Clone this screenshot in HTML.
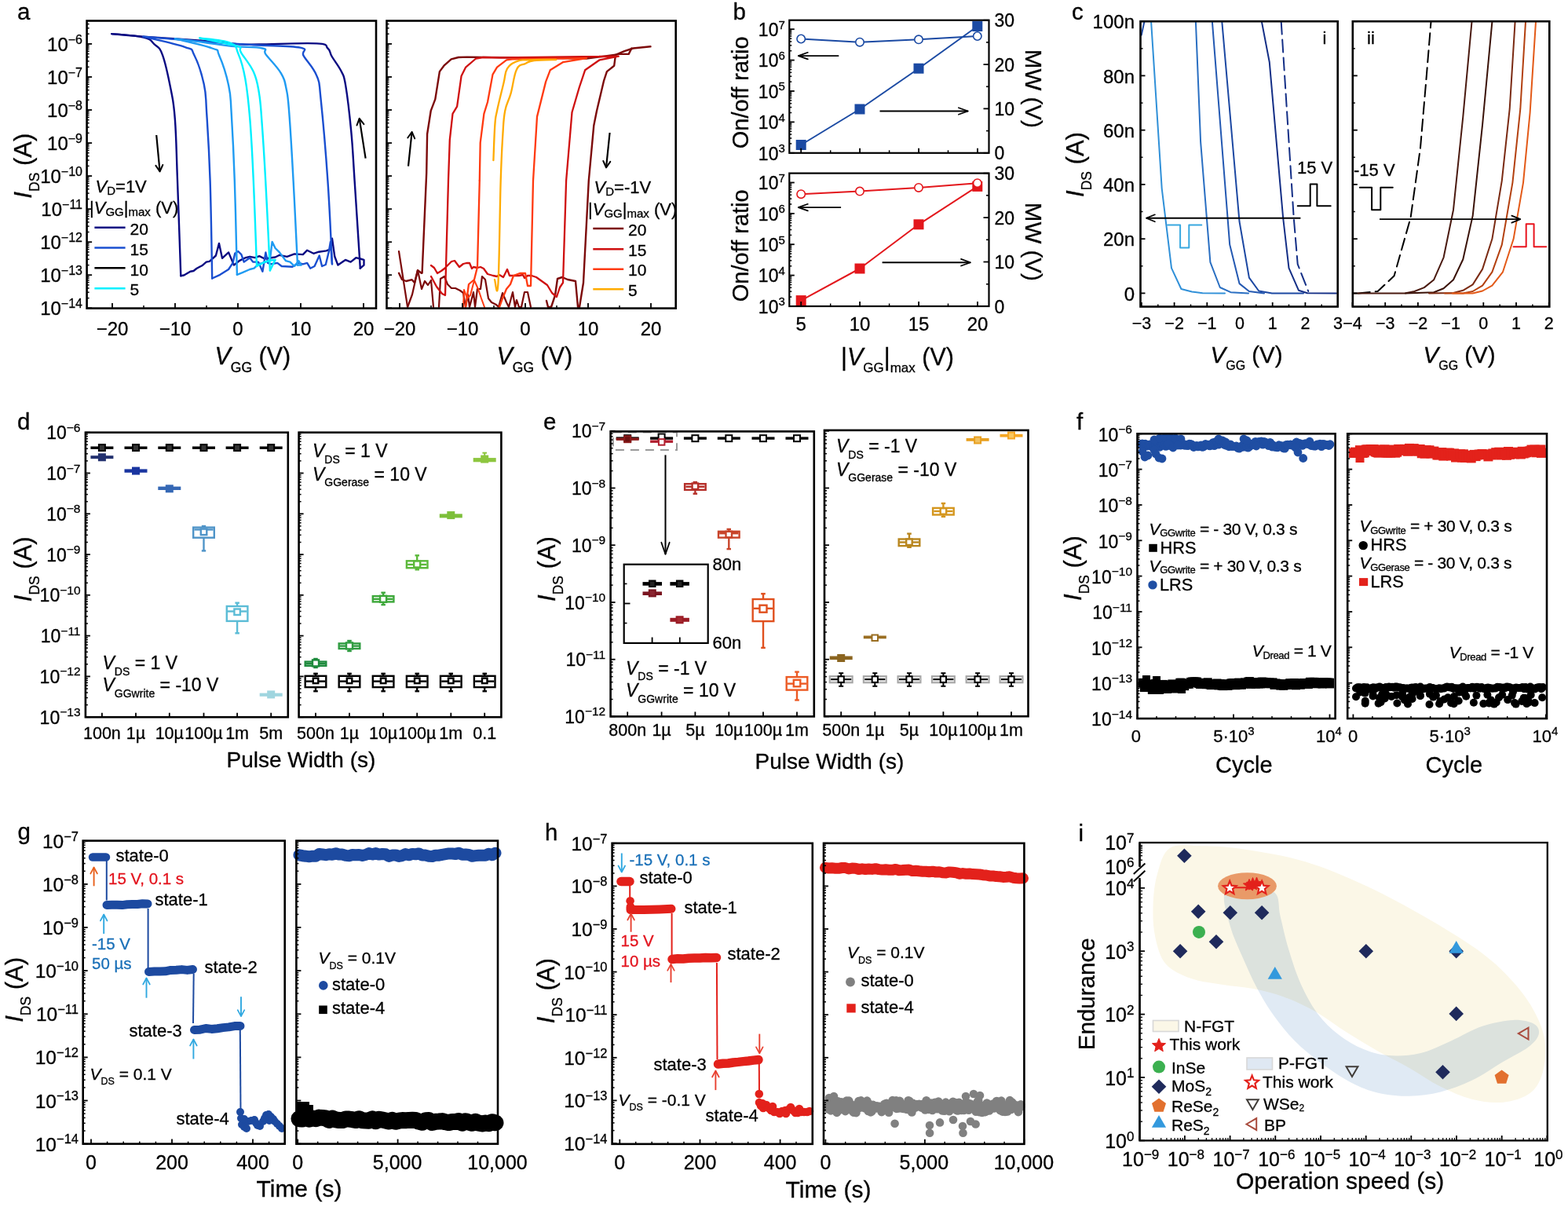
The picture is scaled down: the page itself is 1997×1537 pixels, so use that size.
<!DOCTYPE html>
<html><head><meta charset="utf-8"><style>
html,body{margin:0;padding:0;background:#fff;}
svg{display:block;}
text{font-family:"Liberation Sans",Arial,sans-serif;fill:#000;stroke:#000;stroke-width:0.3px;}
</style></head><body>
<svg xmlns="http://www.w3.org/2000/svg" width="1997" height="1537" viewBox="0 0 1997 1537">
<rect width="1997" height="1537" fill="#fff"/>
<path d="M142.3,43.1 C150.4,44 171.7,44.9 182.6,47.5 C193.5,50.1 191.7,51.7 196.6,56.3 C201.5,60.9 202.9,58.7 207.1,70.3 C211.3,81.9 214.4,97.6 217.6,114.1 C220.8,130.6 221.2,129.5 222.9,152.7 C224.6,175.9 224.5,190.3 226,230 C227.5,269.7 229.4,327 230.3,351.2" fill="none" stroke="#0a0a82" stroke-width="2.4" stroke-linejoin="round" stroke-linecap="round" />
<polyline points="230.3,351.2 234.3,350.5 242.4,345.7 246.5,345 250.6,341.7 257.3,338.3 262.7,333.6 266.8,332.9 274.9,325.5 279,309.9 283,328.8 291.1,321.4 297.9,337.6 304.6,332.2 312.8,328.2 318.2,326.8 324.9,328.2 330.3,326.1 337.1,329.5 345.2,328.2 350.6,327.5 356,324.8 365.5,326.8 375,323.4 385.8,324.1 391.2,318.7 399.3,322.8 406.1,320.7 415.5,319.4 420.9,317.4 423,303.8 426.3,326.8 430.4,337.6 439.9,330.9 446.6,333.6 453.4,328.2 458.8,329.5 463.5,330.9 463.5,337.6 458.8,341.7" fill="none" stroke="#0a0a82" stroke-width="2.4" stroke-linejoin="round" stroke-linecap="round" />
<path d="M458.8,341.7 C457.4,319.4 453.9,265 451.6,230 C449.3,195 449.5,190.9 447.2,166.7 C444.9,142.5 442.7,124 440.2,108.9 C437.7,93.8 438.4,98.7 434.9,91.3 C431.4,83.9 426.2,78 422.7,72 C419.2,66 421.3,64.8 417.4,61.5 C413.5,58.2 420.9,56.4 403.4,55.4 C385.9,54.4 349.6,56.3 330,56.5 C310.4,56.7 319.3,57.2 305.3,56.3 C291.3,55.4 284.5,53.9 260,52 C235.5,50.1 206.1,48.4 182.6,46.6 C159.1,44.8 150.4,43.8 142.3,43.1" fill="none" stroke="#0a0a82" stroke-width="2.4" stroke-linejoin="round" stroke-linecap="round" />
<path d="M182.6,46.6 C193.1,49.2 222.2,55.1 235.2,59.8 C248.2,64.5 242.5,60.8 247.4,70.3 C252.3,79.8 256.5,92.4 259.7,107.1 C262.9,121.8 261.6,119.3 263.2,143.9 C264.8,168.5 266.2,187.9 267.6,230 C269,272.1 269.7,329.6 270.2,354.5" fill="none" stroke="#1a4fd0" stroke-width="2.4" stroke-linejoin="round" stroke-linecap="round" />
<polyline points="270.2,354.5 280.3,349.8 291.1,343 296.5,334.9 299.2,322.8 303.3,320 307.4,324.1 310.7,333.6 318.2,328.2 322.2,333.6 329,333.6 334.4,345.7 338.4,321.4 341.2,334.9 345.2,336.3 353.3,334.9 358.7,339 372.3,339.7 380.4,334.9 385.8,336.3 391.2,334.9 395.2,341.7 400.6,339 406.7,325.5 410.1,339 414.8,337 418.9,320 420.9,307.9 423,336.3" fill="none" stroke="#1a4fd0" stroke-width="2.4" stroke-linejoin="round" stroke-linecap="round" />
<path d="M423,336.3 C421.9,315 420.3,272 417.4,230 C414.5,188 411.4,153.1 408.6,126.4 C405.8,99.7 407.8,107.6 403.4,96.6 C399,85.6 390.9,78.4 386.7,71.2 C382.5,64 395.2,63.5 382.4,60.7 C369.6,57.9 347.3,58.7 322.8,57.2 C298.3,55.7 288,55.1 260,53 C232,50.9 198.1,47.9 182.6,46.6" fill="none" stroke="#1a4fd0" stroke-width="2.4" stroke-linejoin="round" stroke-linecap="round" />
<path d="M222.9,49.3 C232.4,51.7 259,57.3 270.2,61.5 C281.4,65.7 274.8,60.8 279,70.3 C283.2,79.8 288.1,94.2 291.2,108.9 C294.3,123.6 293.2,119.7 294.7,143.9 C296.2,168.1 297.4,188.8 298.8,230 C300.2,271.2 301.3,325.8 301.9,349.8" fill="none" stroke="#1f9bf2" stroke-width="2.4" stroke-linejoin="round" stroke-linecap="round" />
<polyline points="301.9,349.8 308.7,347.1 318.2,343 323.6,341.7 329,336.3 338.4,333.6 343.9,330.9 346.6,307.9 350.6,316 356,321.4 364.1,332.2 369.5,333.6 375,339 380.4,332.2 383.7,337.6 379,337.6" fill="none" stroke="#1f9bf2" stroke-width="2.4" stroke-linejoin="round" stroke-linecap="round" />
<path d="M379,337.6 C377.9,316.1 375.7,268.7 373.6,230 C371.5,191.3 370.1,167.1 368.3,143.9 C366.5,120.7 366.9,124.3 364.8,114.1 C362.7,103.9 363,102 357.8,93.1 C352.6,84.2 343.3,75.7 338.6,69.4 C333.9,63.1 343,63.6 334.2,61.5 C325.4,59.4 309.5,60.4 294.7,58.9 C279.9,57.4 274.4,55.9 260,54 C245.6,52.1 230.3,50.2 222.9,49.3" fill="none" stroke="#1f9bf2" stroke-width="2.4" stroke-linejoin="round" stroke-linecap="round" />
<path d="M254.4,48.4 C262.1,49.6 283.2,50.5 293,54.5 C302.8,58.5 299.6,59.5 303.5,68.6 C307.4,77.7 309.3,83.3 312.3,100.1 C315.3,116.9 316.3,126.7 318.4,152.7 C320.5,178.7 321.1,192.7 322.8,230 C324.5,267.3 326.2,317.2 327,339" fill="none" stroke="#00f0ff" stroke-width="2.4" stroke-linejoin="round" stroke-linecap="round" />
<polyline points="327,339 337.1,333.6 345.2,331.5 350.6,330.9 343.9,344.4" fill="none" stroke="#00f0ff" stroke-width="2.4" stroke-linejoin="round" stroke-linecap="round" />
<path d="M343.9,344.4 C342.8,321.5 340.3,268.3 338.2,230 C336.1,191.7 335,175.2 333.3,152.7 C331.6,130.2 331.9,129.9 329.8,117.6 C327.7,105.3 327.4,101.5 322.8,91.3 C318.2,81.1 310.5,73.1 307,66.8 C303.5,60.5 308.7,62 305.3,59.8 C301.9,57.6 300.2,58.3 290,56 C279.8,53.7 261.5,49.9 254.4,48.4" fill="none" stroke="#00f0ff" stroke-width="2.4" stroke-linejoin="round" stroke-linecap="round" />
<line x1="199.2" y1="172" x2="203.6" y2="218.4" stroke="#000" stroke-width="2.2" />
<polyline points="198.4,210.9 203.6,218.4 207.3,210" fill="none" stroke="#000" stroke-width="1.9800000000000002" stroke-linejoin="round" stroke-linecap="round" />
<line x1="465.6" y1="201.7" x2="457.7" y2="150.9" stroke="#000" stroke-width="2.2" />
<polyline points="463.4,158.1 457.7,150.9 454.5,159.5" fill="none" stroke="#000" stroke-width="1.9800000000000002" stroke-linejoin="round" stroke-linecap="round" />
<polyline points="508,320 519.1,391" fill="none" stroke="#7c0a0a" stroke-width="2.2" stroke-linejoin="round" stroke-linecap="round" />
<polyline points="508,347.8 512,356 517.2,358 524.6,356.2 528,360 532,344.1 536.7,347.8 537.6,347.8 543.2,220 544.1,170.8 548.7,141.2 554.3,126.4 559.9,91.1 565.4,83.7 574.7,75.4 583.9,73 595.1,72.6 747,74.5 784,69.8 795.2,65.2 806.3,61.5 828.5,59.3" fill="none" stroke="#7c0a0a" stroke-width="2.4" stroke-linejoin="round" stroke-linecap="round" />
<polyline points="519.1,391 525,375 532,344 537,368 541,358 545,363 549,357 552,391" fill="none" stroke="#7c0a0a" stroke-width="2.2" stroke-linejoin="round" stroke-linecap="round" />
<polyline points="559,391 561,355 566,352 570,362 575,367 580,367 586,370 590,373 593,391 596,375 598,391 603,372 605,391 608,368 612,368 614,352 618,356 622,380 626,385 632,388 635,391 640,373 645,385 648,391 653,372 656,391 658,382 661,391 664,391 668,372 672,372 676,391" fill="none" stroke="#7c0a0a" stroke-width="2.2" stroke-linejoin="round" stroke-linecap="round" />
<polyline points="696,383 698,391 702,391 707,376 710,355 716,353 723,356 733,358 736,391 738,391 743,360 749.8,230 756.3,159.7 760,141.2 769.2,102.3 772.9,91.1 782.2,83.7 784,69.8 787.8,68.9 800.7,68.9 804.4,61.5" fill="none" stroke="#7c0a0a" stroke-width="2.4" stroke-linejoin="round" stroke-linecap="round" />
<polyline points="549,338 553,341 557,348 562,345 566,342 570,338 575,333 579,332 585,340 590,336 594,335 598,335 601,342 603,340 608,341 612,340 616,342 621,349 628,351 633,352 636,350 641,353 646,343 649,351 655,351 661,351 666,350 668,354 672,351 677,351 683,353 690,358 697,363 703,373 709,378 713,366 717,360 721.1,230 728.5,143 737.7,111.5 745.1,89.3 763.7,76.3 787.8,71.7 637.7,73.5 615.4,73 606.2,74.5 593.2,85.6 587.6,96.7 582.1,135.6 576.5,144.9 572.8,178.2 571,230 567,376 563,374 556,365 549,352" fill="none" stroke="#cf1010" stroke-width="2.3" stroke-linejoin="round" stroke-linecap="round" />
<polyline points="610.8,230 611.7,181.9 616.4,144.9 621,130 627.5,94.9 633,85.6 645.1,76.3 652.5,75.4 747,74.1 717.3,79.1 700.7,89.3 695.1,104.1 684,148.6 679,230 676,364 672,364 669,348 662,348 654,351 650,362 645,368 640,380 636,391" fill="none" stroke="#ff3a10" stroke-width="2.3" stroke-linejoin="round" stroke-linecap="round" />
<polyline points="610.8,230 608,340 604,356 597,362 593,391" fill="none" stroke="#ff3a10" stroke-width="2.3" stroke-linejoin="round" stroke-linecap="round" />
<polyline points="590,391 591,369 595,380 599,376 604,357 609,368 613,380 617,391" fill="none" stroke="#ff3a10" stroke-width="2.0" stroke-linejoin="round" stroke-linecap="round" />
<path d="M628.4,204.2 C628.8,195.3 629.4,172.3 630.3,159.7 C631.2,147.1 630.8,151.9 633,141.2 C635.2,130.5 638.8,116.8 641.4,106 C644,95.2 642.7,93 646,87.4 C649.3,81.8 653,80.4 658,78.2 C663,76 661,76.7 671,76.3 C681,75.9 706.2,75.8 708.1,76 C710,76.2 688.1,76.2 680.3,77.2 C672.5,78.2 673.7,78.8 669.2,81 C664.7,83.2 661.7,80.8 658,88.4 C654.3,96 653.6,108.3 650.6,118.9 C647.6,129.5 645.2,130.8 643.2,141.2 C641.2,151.6 641.5,153 640.4,170.8 C639.3,188.6 638.9,192.2 637.7,230 C636.5,267.8 636,334.8 634.5,360 C633,385.2 630.9,356.8 630,356" fill="none" stroke="#ffab00" stroke-width="2.3" stroke-linejoin="round" stroke-linecap="round" />
<line x1="520" y1="211.6" x2="524.6" y2="168" stroke="#000" stroke-width="2.2" />
<polyline points="528.2,176.4 524.6,168 519.3,175.5" fill="none" stroke="#000" stroke-width="1.9800000000000002" stroke-linejoin="round" stroke-linecap="round" />
<line x1="776.6" y1="169" x2="772" y2="213.4" stroke="#000" stroke-width="2.2" />
<polyline points="768.3,205 772,213.4 777.3,205.9" fill="none" stroke="#000" stroke-width="1.9800000000000002" stroke-linejoin="round" stroke-linecap="round" />
<rect x="110.6" y="26.5" width="368.4" height="366.1" fill="none" stroke="#000" stroke-width="2.6"/>
<line x1="110.6" y1="392.3" x2="117.1" y2="392.3" stroke="#000" stroke-width="1.8" />
<line x1="110.6" y1="350.2" x2="117.1" y2="350.2" stroke="#000" stroke-width="1.8" />
<line x1="110.6" y1="308.2" x2="117.1" y2="308.2" stroke="#000" stroke-width="1.8" />
<line x1="110.6" y1="266.2" x2="117.1" y2="266.2" stroke="#000" stroke-width="1.8" />
<line x1="110.6" y1="224.1" x2="117.1" y2="224.1" stroke="#000" stroke-width="1.8" />
<line x1="110.6" y1="182.1" x2="117.1" y2="182.1" stroke="#000" stroke-width="1.8" />
<line x1="110.6" y1="140" x2="117.1" y2="140" stroke="#000" stroke-width="1.8" />
<line x1="110.6" y1="98" x2="117.1" y2="98" stroke="#000" stroke-width="1.8" />
<line x1="110.6" y1="55.9" x2="117.1" y2="55.9" stroke="#000" stroke-width="1.8" />
<line x1="110.6" y1="379.6" x2="113.6" y2="379.6" stroke="#000" stroke-width="1.5" />
<line x1="110.6" y1="372.2" x2="113.6" y2="372.2" stroke="#000" stroke-width="1.5" />
<line x1="110.6" y1="367" x2="113.6" y2="367" stroke="#000" stroke-width="1.5" />
<line x1="110.6" y1="362.9" x2="113.6" y2="362.9" stroke="#000" stroke-width="1.5" />
<line x1="110.6" y1="359.6" x2="113.6" y2="359.6" stroke="#000" stroke-width="1.5" />
<line x1="110.6" y1="356.8" x2="113.6" y2="356.8" stroke="#000" stroke-width="1.5" />
<line x1="110.6" y1="354.3" x2="113.6" y2="354.3" stroke="#000" stroke-width="1.5" />
<line x1="110.6" y1="352.2" x2="113.6" y2="352.2" stroke="#000" stroke-width="1.5" />
<line x1="110.6" y1="337.6" x2="113.6" y2="337.6" stroke="#000" stroke-width="1.5" />
<line x1="110.6" y1="330.2" x2="113.6" y2="330.2" stroke="#000" stroke-width="1.5" />
<line x1="110.6" y1="324.9" x2="113.6" y2="324.9" stroke="#000" stroke-width="1.5" />
<line x1="110.6" y1="320.9" x2="113.6" y2="320.9" stroke="#000" stroke-width="1.5" />
<line x1="110.6" y1="317.5" x2="113.6" y2="317.5" stroke="#000" stroke-width="1.5" />
<line x1="110.6" y1="314.7" x2="113.6" y2="314.7" stroke="#000" stroke-width="1.5" />
<line x1="110.6" y1="312.3" x2="113.6" y2="312.3" stroke="#000" stroke-width="1.5" />
<line x1="110.6" y1="310.1" x2="113.6" y2="310.1" stroke="#000" stroke-width="1.5" />
<line x1="110.6" y1="295.5" x2="113.6" y2="295.5" stroke="#000" stroke-width="1.5" />
<line x1="110.6" y1="288.1" x2="113.6" y2="288.1" stroke="#000" stroke-width="1.5" />
<line x1="110.6" y1="282.9" x2="113.6" y2="282.9" stroke="#000" stroke-width="1.5" />
<line x1="110.6" y1="278.8" x2="113.6" y2="278.8" stroke="#000" stroke-width="1.5" />
<line x1="110.6" y1="275.5" x2="113.6" y2="275.5" stroke="#000" stroke-width="1.5" />
<line x1="110.6" y1="272.7" x2="113.6" y2="272.7" stroke="#000" stroke-width="1.5" />
<line x1="110.6" y1="270.2" x2="113.6" y2="270.2" stroke="#000" stroke-width="1.5" />
<line x1="110.6" y1="268.1" x2="113.6" y2="268.1" stroke="#000" stroke-width="1.5" />
<line x1="110.6" y1="253.5" x2="113.6" y2="253.5" stroke="#000" stroke-width="1.5" />
<line x1="110.6" y1="246.1" x2="113.6" y2="246.1" stroke="#000" stroke-width="1.5" />
<line x1="110.6" y1="240.8" x2="113.6" y2="240.8" stroke="#000" stroke-width="1.5" />
<line x1="110.6" y1="236.8" x2="113.6" y2="236.8" stroke="#000" stroke-width="1.5" />
<line x1="110.6" y1="233.4" x2="113.6" y2="233.4" stroke="#000" stroke-width="1.5" />
<line x1="110.6" y1="230.6" x2="113.6" y2="230.6" stroke="#000" stroke-width="1.5" />
<line x1="110.6" y1="228.2" x2="113.6" y2="228.2" stroke="#000" stroke-width="1.5" />
<line x1="110.6" y1="226" x2="113.6" y2="226" stroke="#000" stroke-width="1.5" />
<line x1="110.6" y1="211.4" x2="113.6" y2="211.4" stroke="#000" stroke-width="1.5" />
<line x1="110.6" y1="204" x2="113.6" y2="204" stroke="#000" stroke-width="1.5" />
<line x1="110.6" y1="198.8" x2="113.6" y2="198.8" stroke="#000" stroke-width="1.5" />
<line x1="110.6" y1="194.7" x2="113.6" y2="194.7" stroke="#000" stroke-width="1.5" />
<line x1="110.6" y1="191.4" x2="113.6" y2="191.4" stroke="#000" stroke-width="1.5" />
<line x1="110.6" y1="188.6" x2="113.6" y2="188.6" stroke="#000" stroke-width="1.5" />
<line x1="110.6" y1="186.1" x2="113.6" y2="186.1" stroke="#000" stroke-width="1.5" />
<line x1="110.6" y1="184" x2="113.6" y2="184" stroke="#000" stroke-width="1.5" />
<line x1="110.6" y1="169.4" x2="113.6" y2="169.4" stroke="#000" stroke-width="1.5" />
<line x1="110.6" y1="162" x2="113.6" y2="162" stroke="#000" stroke-width="1.5" />
<line x1="110.6" y1="156.7" x2="113.6" y2="156.7" stroke="#000" stroke-width="1.5" />
<line x1="110.6" y1="152.7" x2="113.6" y2="152.7" stroke="#000" stroke-width="1.5" />
<line x1="110.6" y1="149.3" x2="113.6" y2="149.3" stroke="#000" stroke-width="1.5" />
<line x1="110.6" y1="146.5" x2="113.6" y2="146.5" stroke="#000" stroke-width="1.5" />
<line x1="110.6" y1="144.1" x2="113.6" y2="144.1" stroke="#000" stroke-width="1.5" />
<line x1="110.6" y1="141.9" x2="113.6" y2="141.9" stroke="#000" stroke-width="1.5" />
<line x1="110.6" y1="127.3" x2="113.6" y2="127.3" stroke="#000" stroke-width="1.5" />
<line x1="110.6" y1="119.9" x2="113.6" y2="119.9" stroke="#000" stroke-width="1.5" />
<line x1="110.6" y1="114.7" x2="113.6" y2="114.7" stroke="#000" stroke-width="1.5" />
<line x1="110.6" y1="110.6" x2="113.6" y2="110.6" stroke="#000" stroke-width="1.5" />
<line x1="110.6" y1="107.3" x2="113.6" y2="107.3" stroke="#000" stroke-width="1.5" />
<line x1="110.6" y1="104.5" x2="113.6" y2="104.5" stroke="#000" stroke-width="1.5" />
<line x1="110.6" y1="102" x2="113.6" y2="102" stroke="#000" stroke-width="1.5" />
<line x1="110.6" y1="99.9" x2="113.6" y2="99.9" stroke="#000" stroke-width="1.5" />
<line x1="110.6" y1="85.3" x2="113.6" y2="85.3" stroke="#000" stroke-width="1.5" />
<line x1="110.6" y1="77.9" x2="113.6" y2="77.9" stroke="#000" stroke-width="1.5" />
<line x1="110.6" y1="72.6" x2="113.6" y2="72.6" stroke="#000" stroke-width="1.5" />
<line x1="110.6" y1="68.6" x2="113.6" y2="68.6" stroke="#000" stroke-width="1.5" />
<line x1="110.6" y1="65.2" x2="113.6" y2="65.2" stroke="#000" stroke-width="1.5" />
<line x1="110.6" y1="62.4" x2="113.6" y2="62.4" stroke="#000" stroke-width="1.5" />
<line x1="110.6" y1="60" x2="113.6" y2="60" stroke="#000" stroke-width="1.5" />
<line x1="110.6" y1="57.8" x2="113.6" y2="57.8" stroke="#000" stroke-width="1.5" />
<line x1="110.6" y1="43.2" x2="113.6" y2="43.2" stroke="#000" stroke-width="1.5" />
<line x1="110.6" y1="35.8" x2="113.6" y2="35.8" stroke="#000" stroke-width="1.5" />
<line x1="110.6" y1="30.6" x2="113.6" y2="30.6" stroke="#000" stroke-width="1.5" />
<line x1="143" y1="392.6" x2="143" y2="386.1" stroke="#000" stroke-width="1.8" />
<line x1="223" y1="392.6" x2="223" y2="386.1" stroke="#000" stroke-width="1.8" />
<line x1="303" y1="392.6" x2="303" y2="386.1" stroke="#000" stroke-width="1.8" />
<line x1="383" y1="392.6" x2="383" y2="386.1" stroke="#000" stroke-width="1.8" />
<line x1="463" y1="392.6" x2="463" y2="386.1" stroke="#000" stroke-width="1.8" />
<line x1="183" y1="392.6" x2="183" y2="389.1" stroke="#000" stroke-width="1.5" />
<line x1="263" y1="392.6" x2="263" y2="389.1" stroke="#000" stroke-width="1.5" />
<line x1="343" y1="392.6" x2="343" y2="389.1" stroke="#000" stroke-width="1.5" />
<line x1="423" y1="392.6" x2="423" y2="389.1" stroke="#000" stroke-width="1.5" />
<rect x="492.5" y="26.5" width="368.2" height="366.1" fill="none" stroke="#000" stroke-width="2.6"/>
<line x1="492.5" y1="392.3" x2="499" y2="392.3" stroke="#000" stroke-width="1.8" />
<line x1="492.5" y1="350.2" x2="499" y2="350.2" stroke="#000" stroke-width="1.8" />
<line x1="492.5" y1="308.2" x2="499" y2="308.2" stroke="#000" stroke-width="1.8" />
<line x1="492.5" y1="266.2" x2="499" y2="266.2" stroke="#000" stroke-width="1.8" />
<line x1="492.5" y1="224.1" x2="499" y2="224.1" stroke="#000" stroke-width="1.8" />
<line x1="492.5" y1="182.1" x2="499" y2="182.1" stroke="#000" stroke-width="1.8" />
<line x1="492.5" y1="140" x2="499" y2="140" stroke="#000" stroke-width="1.8" />
<line x1="492.5" y1="98" x2="499" y2="98" stroke="#000" stroke-width="1.8" />
<line x1="492.5" y1="55.9" x2="499" y2="55.9" stroke="#000" stroke-width="1.8" />
<line x1="492.5" y1="379.6" x2="495.5" y2="379.6" stroke="#000" stroke-width="1.5" />
<line x1="492.5" y1="372.2" x2="495.5" y2="372.2" stroke="#000" stroke-width="1.5" />
<line x1="492.5" y1="367" x2="495.5" y2="367" stroke="#000" stroke-width="1.5" />
<line x1="492.5" y1="362.9" x2="495.5" y2="362.9" stroke="#000" stroke-width="1.5" />
<line x1="492.5" y1="359.6" x2="495.5" y2="359.6" stroke="#000" stroke-width="1.5" />
<line x1="492.5" y1="356.8" x2="495.5" y2="356.8" stroke="#000" stroke-width="1.5" />
<line x1="492.5" y1="354.3" x2="495.5" y2="354.3" stroke="#000" stroke-width="1.5" />
<line x1="492.5" y1="352.2" x2="495.5" y2="352.2" stroke="#000" stroke-width="1.5" />
<line x1="492.5" y1="337.6" x2="495.5" y2="337.6" stroke="#000" stroke-width="1.5" />
<line x1="492.5" y1="330.2" x2="495.5" y2="330.2" stroke="#000" stroke-width="1.5" />
<line x1="492.5" y1="324.9" x2="495.5" y2="324.9" stroke="#000" stroke-width="1.5" />
<line x1="492.5" y1="320.9" x2="495.5" y2="320.9" stroke="#000" stroke-width="1.5" />
<line x1="492.5" y1="317.5" x2="495.5" y2="317.5" stroke="#000" stroke-width="1.5" />
<line x1="492.5" y1="314.7" x2="495.5" y2="314.7" stroke="#000" stroke-width="1.5" />
<line x1="492.5" y1="312.3" x2="495.5" y2="312.3" stroke="#000" stroke-width="1.5" />
<line x1="492.5" y1="310.1" x2="495.5" y2="310.1" stroke="#000" stroke-width="1.5" />
<line x1="492.5" y1="295.5" x2="495.5" y2="295.5" stroke="#000" stroke-width="1.5" />
<line x1="492.5" y1="288.1" x2="495.5" y2="288.1" stroke="#000" stroke-width="1.5" />
<line x1="492.5" y1="282.9" x2="495.5" y2="282.9" stroke="#000" stroke-width="1.5" />
<line x1="492.5" y1="278.8" x2="495.5" y2="278.8" stroke="#000" stroke-width="1.5" />
<line x1="492.5" y1="275.5" x2="495.5" y2="275.5" stroke="#000" stroke-width="1.5" />
<line x1="492.5" y1="272.7" x2="495.5" y2="272.7" stroke="#000" stroke-width="1.5" />
<line x1="492.5" y1="270.2" x2="495.5" y2="270.2" stroke="#000" stroke-width="1.5" />
<line x1="492.5" y1="268.1" x2="495.5" y2="268.1" stroke="#000" stroke-width="1.5" />
<line x1="492.5" y1="253.5" x2="495.5" y2="253.5" stroke="#000" stroke-width="1.5" />
<line x1="492.5" y1="246.1" x2="495.5" y2="246.1" stroke="#000" stroke-width="1.5" />
<line x1="492.5" y1="240.8" x2="495.5" y2="240.8" stroke="#000" stroke-width="1.5" />
<line x1="492.5" y1="236.8" x2="495.5" y2="236.8" stroke="#000" stroke-width="1.5" />
<line x1="492.5" y1="233.4" x2="495.5" y2="233.4" stroke="#000" stroke-width="1.5" />
<line x1="492.5" y1="230.6" x2="495.5" y2="230.6" stroke="#000" stroke-width="1.5" />
<line x1="492.5" y1="228.2" x2="495.5" y2="228.2" stroke="#000" stroke-width="1.5" />
<line x1="492.5" y1="226" x2="495.5" y2="226" stroke="#000" stroke-width="1.5" />
<line x1="492.5" y1="211.4" x2="495.5" y2="211.4" stroke="#000" stroke-width="1.5" />
<line x1="492.5" y1="204" x2="495.5" y2="204" stroke="#000" stroke-width="1.5" />
<line x1="492.5" y1="198.8" x2="495.5" y2="198.8" stroke="#000" stroke-width="1.5" />
<line x1="492.5" y1="194.7" x2="495.5" y2="194.7" stroke="#000" stroke-width="1.5" />
<line x1="492.5" y1="191.4" x2="495.5" y2="191.4" stroke="#000" stroke-width="1.5" />
<line x1="492.5" y1="188.6" x2="495.5" y2="188.6" stroke="#000" stroke-width="1.5" />
<line x1="492.5" y1="186.1" x2="495.5" y2="186.1" stroke="#000" stroke-width="1.5" />
<line x1="492.5" y1="184" x2="495.5" y2="184" stroke="#000" stroke-width="1.5" />
<line x1="492.5" y1="169.4" x2="495.5" y2="169.4" stroke="#000" stroke-width="1.5" />
<line x1="492.5" y1="162" x2="495.5" y2="162" stroke="#000" stroke-width="1.5" />
<line x1="492.5" y1="156.7" x2="495.5" y2="156.7" stroke="#000" stroke-width="1.5" />
<line x1="492.5" y1="152.7" x2="495.5" y2="152.7" stroke="#000" stroke-width="1.5" />
<line x1="492.5" y1="149.3" x2="495.5" y2="149.3" stroke="#000" stroke-width="1.5" />
<line x1="492.5" y1="146.5" x2="495.5" y2="146.5" stroke="#000" stroke-width="1.5" />
<line x1="492.5" y1="144.1" x2="495.5" y2="144.1" stroke="#000" stroke-width="1.5" />
<line x1="492.5" y1="141.9" x2="495.5" y2="141.9" stroke="#000" stroke-width="1.5" />
<line x1="492.5" y1="127.3" x2="495.5" y2="127.3" stroke="#000" stroke-width="1.5" />
<line x1="492.5" y1="119.9" x2="495.5" y2="119.9" stroke="#000" stroke-width="1.5" />
<line x1="492.5" y1="114.7" x2="495.5" y2="114.7" stroke="#000" stroke-width="1.5" />
<line x1="492.5" y1="110.6" x2="495.5" y2="110.6" stroke="#000" stroke-width="1.5" />
<line x1="492.5" y1="107.3" x2="495.5" y2="107.3" stroke="#000" stroke-width="1.5" />
<line x1="492.5" y1="104.5" x2="495.5" y2="104.5" stroke="#000" stroke-width="1.5" />
<line x1="492.5" y1="102" x2="495.5" y2="102" stroke="#000" stroke-width="1.5" />
<line x1="492.5" y1="99.9" x2="495.5" y2="99.9" stroke="#000" stroke-width="1.5" />
<line x1="492.5" y1="85.3" x2="495.5" y2="85.3" stroke="#000" stroke-width="1.5" />
<line x1="492.5" y1="77.9" x2="495.5" y2="77.9" stroke="#000" stroke-width="1.5" />
<line x1="492.5" y1="72.6" x2="495.5" y2="72.6" stroke="#000" stroke-width="1.5" />
<line x1="492.5" y1="68.6" x2="495.5" y2="68.6" stroke="#000" stroke-width="1.5" />
<line x1="492.5" y1="65.2" x2="495.5" y2="65.2" stroke="#000" stroke-width="1.5" />
<line x1="492.5" y1="62.4" x2="495.5" y2="62.4" stroke="#000" stroke-width="1.5" />
<line x1="492.5" y1="60" x2="495.5" y2="60" stroke="#000" stroke-width="1.5" />
<line x1="492.5" y1="57.8" x2="495.5" y2="57.8" stroke="#000" stroke-width="1.5" />
<line x1="492.5" y1="43.2" x2="495.5" y2="43.2" stroke="#000" stroke-width="1.5" />
<line x1="492.5" y1="35.8" x2="495.5" y2="35.8" stroke="#000" stroke-width="1.5" />
<line x1="492.5" y1="30.6" x2="495.5" y2="30.6" stroke="#000" stroke-width="1.5" />
<line x1="509" y1="392.6" x2="509" y2="386.1" stroke="#000" stroke-width="1.8" />
<line x1="589" y1="392.6" x2="589" y2="386.1" stroke="#000" stroke-width="1.8" />
<line x1="669" y1="392.6" x2="669" y2="386.1" stroke="#000" stroke-width="1.8" />
<line x1="749" y1="392.6" x2="749" y2="386.1" stroke="#000" stroke-width="1.8" />
<line x1="829" y1="392.6" x2="829" y2="386.1" stroke="#000" stroke-width="1.8" />
<line x1="549" y1="392.6" x2="549" y2="389.1" stroke="#000" stroke-width="1.5" />
<line x1="629" y1="392.6" x2="629" y2="389.1" stroke="#000" stroke-width="1.5" />
<line x1="709" y1="392.6" x2="709" y2="389.1" stroke="#000" stroke-width="1.5" />
<line x1="789" y1="392.6" x2="789" y2="389.1" stroke="#000" stroke-width="1.5" />
<text x="105" y="401" font-size="24" text-anchor="end" >10<tspan font-size="16" dy="-9">−14</tspan></text>
<text x="105" y="358.9" font-size="24" text-anchor="end" >10<tspan font-size="16" dy="-9">−13</tspan></text>
<text x="105" y="316.9" font-size="24" text-anchor="end" >10<tspan font-size="16" dy="-9">−12</tspan></text>
<text x="105" y="274.9" font-size="24" text-anchor="end" >10<tspan font-size="16" dy="-9">−11</tspan></text>
<text x="105" y="232.8" font-size="24" text-anchor="end" >10<tspan font-size="16" dy="-9">−10</tspan></text>
<text x="105" y="190.8" font-size="24" text-anchor="end" >10<tspan font-size="16" dy="-9">−9</tspan></text>
<text x="105" y="148.7" font-size="24" text-anchor="end" >10<tspan font-size="16" dy="-9">−8</tspan></text>
<text x="105" y="106.7" font-size="24" text-anchor="end" >10<tspan font-size="16" dy="-9">−7</tspan></text>
<text x="105" y="64.6" font-size="24" text-anchor="end" >10<tspan font-size="16" dy="-9">−6</tspan></text>
<text x="143" y="427" font-size="24" text-anchor="middle" >−20</text>
<text x="509" y="427" font-size="24" text-anchor="middle" >−20</text>
<text x="223" y="427" font-size="24" text-anchor="middle" >−10</text>
<text x="589" y="427" font-size="24" text-anchor="middle" >−10</text>
<text x="303" y="427" font-size="24" text-anchor="middle" >0</text>
<text x="669" y="427" font-size="24" text-anchor="middle" >0</text>
<text x="383" y="427" font-size="24" text-anchor="middle" >10</text>
<text x="749" y="427" font-size="24" text-anchor="middle" >10</text>
<text x="463" y="427" font-size="24" text-anchor="middle" >20</text>
<text x="829" y="427" font-size="24" text-anchor="middle" >20</text>
<text x="273.5" y="464" font-size="30.5" text-anchor="start" ><tspan font-style="italic">V</tspan><tspan font-size="17.5" dy="10">GG</tspan><tspan dy="-10">​</tspan> (V)</text>
<text x="632.5" y="464" font-size="30.5" text-anchor="start" ><tspan font-style="italic">V</tspan><tspan font-size="17.5" dy="10">GG</tspan><tspan dy="-10">​</tspan> (V)</text>
<text transform="translate(40,211.2) rotate(-90)" font-size="31" text-anchor="middle"><tspan font-style="italic">I</tspan><tspan font-size="17.5" dy="10">DS</tspan><tspan dy="-10">​</tspan> (A)</text>
<text x="22" y="24.8" font-size="29.5" text-anchor="start" >a</text>
<text x="121.5" y="245" font-size="22" text-anchor="start" ><tspan font-style="italic">V</tspan><tspan font-size="15" dy="3">D</tspan><tspan dy="-3">​</tspan>=1V</text>
<text x="114" y="271.5" font-size="22" text-anchor="start" >|<tspan font-style="italic">V</tspan><tspan font-size="15" dy="3">GG</tspan><tspan dy="-3">​</tspan>|<tspan font-size="15" dy="3">max</tspan><tspan dy="-3">​</tspan> (V)</text>
<line x1="120.4" y1="289.7" x2="159.6" y2="289.7" stroke="#0a0a82" stroke-width="2.6" />
<text x="165.5" y="299.1" font-size="21" text-anchor="start" >20</text>
<line x1="120.4" y1="315.5" x2="159.6" y2="315.5" stroke="#1a4fd0" stroke-width="2.6" />
<text x="165.5" y="324.6" font-size="21" text-anchor="start" >15</text>
<line x1="120.4" y1="341.3" x2="159.6" y2="341.3" stroke="#000" stroke-width="2.6" />
<text x="165.5" y="350.6" font-size="21" text-anchor="start" >10</text>
<line x1="120.4" y1="367.3" x2="159.6" y2="367.3" stroke="#00f0ff" stroke-width="2.6" />
<text x="165.5" y="376.1" font-size="21" text-anchor="start" >5</text>
<text x="756.5" y="245.9" font-size="22" text-anchor="start" ><tspan font-style="italic">V</tspan><tspan font-size="15" dy="3">D</tspan><tspan dy="-3">​</tspan>=-1V</text>
<text x="749" y="273.7" font-size="22" text-anchor="start" >|<tspan font-style="italic">V</tspan><tspan font-size="15" dy="3">GG</tspan><tspan dy="-3">​</tspan>|<tspan font-size="15" dy="3">max</tspan><tspan dy="-3">​</tspan> (V)</text>
<line x1="755.3" y1="291" x2="794.2" y2="291" stroke="#7c0a0a" stroke-width="2.6" />
<text x="800" y="299.7" font-size="21" text-anchor="start" >20</text>
<line x1="755.3" y1="317.3" x2="794.2" y2="317.3" stroke="#cf1010" stroke-width="2.6" />
<text x="800" y="325.5" font-size="21" text-anchor="start" >15</text>
<line x1="755.3" y1="342.8" x2="794.2" y2="342.8" stroke="#ff3a10" stroke-width="2.6" />
<text x="800" y="351.2" font-size="21" text-anchor="start" >10</text>
<line x1="755.3" y1="368.2" x2="794.2" y2="368.2" stroke="#ffab00" stroke-width="2.6" />
<text x="800" y="376.7" font-size="21" text-anchor="start" >5</text>
<polyline points="1020.2,49.5 1095,53.7 1170,50.3 1244.8,46" fill="none" stroke="#1b4aa3" stroke-width="2.0" stroke-linejoin="round" stroke-linecap="round" />
<polyline points="1020.2,184.5 1095,139 1170,87.2 1244.8,33.5" fill="none" stroke="#1b4aa3" stroke-width="2.0" stroke-linejoin="round" stroke-linecap="round" />
<rect x="1013.7" y="178" width="13" height="13" fill="#1b4aa3"/>
<rect x="1088.5" y="132.5" width="13" height="13" fill="#1b4aa3"/>
<rect x="1163.5" y="80.7" width="13" height="13" fill="#1b4aa3"/>
<rect x="1238.3" y="27" width="13" height="13" fill="#1b4aa3"/>
<circle cx="1020.2" cy="49.5" r="5.2" fill="#fff" stroke="#1b4aa3" stroke-width="1.6"/>
<circle cx="1095" cy="53.7" r="5.2" fill="#fff" stroke="#1b4aa3" stroke-width="1.6"/>
<circle cx="1170" cy="50.3" r="5.2" fill="#fff" stroke="#1b4aa3" stroke-width="1.6"/>
<circle cx="1244.8" cy="46" r="5.2" fill="#fff" stroke="#1b4aa3" stroke-width="1.6"/>
<polyline points="1020.2,247.2 1095,243.6 1170,238.9 1244.8,233.2" fill="none" stroke="#e3171c" stroke-width="2.0" stroke-linejoin="round" stroke-linecap="round" />
<polyline points="1020.2,382.6 1095,342 1170,285.8 1244.8,237.4" fill="none" stroke="#e3171c" stroke-width="2.0" stroke-linejoin="round" stroke-linecap="round" />
<rect x="1013.7" y="376.1" width="13" height="13" fill="#e3171c"/>
<rect x="1088.5" y="335.5" width="13" height="13" fill="#e3171c"/>
<rect x="1163.5" y="279.3" width="13" height="13" fill="#e3171c"/>
<rect x="1238.3" y="230.9" width="13" height="13" fill="#e3171c"/>
<circle cx="1020.2" cy="247.2" r="5.2" fill="#fff" stroke="#e3171c" stroke-width="1.6"/>
<circle cx="1095" cy="243.6" r="5.2" fill="#fff" stroke="#e3171c" stroke-width="1.6"/>
<circle cx="1170" cy="238.9" r="5.2" fill="#fff" stroke="#e3171c" stroke-width="1.6"/>
<circle cx="1244.8" cy="233.2" r="5.2" fill="#fff" stroke="#e3171c" stroke-width="1.6"/>
<line x1="1068.3" y1="71.1" x2="1016.8" y2="71.1" stroke="#000" stroke-width="1.9" />
<polyline points="1028.8,66.8 1016.8,71.1 1028.8,75.4" fill="none" stroke="#000" stroke-width="1.71" stroke-linejoin="round" stroke-linecap="round" />
<line x1="1120.5" y1="141.5" x2="1232.9" y2="141.5" stroke="#000" stroke-width="1.9" />
<polyline points="1220.9,145.8 1232.9,141.5 1220.9,137.2" fill="none" stroke="#000" stroke-width="1.71" stroke-linejoin="round" stroke-linecap="round" />
<line x1="1071.1" y1="264.1" x2="1016.8" y2="264.1" stroke="#000" stroke-width="1.9" />
<polyline points="1028.8,259.8 1016.8,264.1 1028.8,268.4" fill="none" stroke="#000" stroke-width="1.71" stroke-linejoin="round" stroke-linecap="round" />
<line x1="1123.6" y1="334.2" x2="1236" y2="334.2" stroke="#000" stroke-width="1.9" />
<polyline points="1224,338.5 1236,334.2 1224,329.9" fill="none" stroke="#000" stroke-width="1.71" stroke-linejoin="round" stroke-linecap="round" />
<rect x="1005.3" y="25.7" width="254.2" height="169.1" fill="none" stroke="#000" stroke-width="2.2"/>
<line x1="1005.3" y1="194.8" x2="1011.8" y2="194.8" stroke="#000" stroke-width="1.8" />
<line x1="1005.3" y1="155.4" x2="1011.8" y2="155.4" stroke="#000" stroke-width="1.8" />
<line x1="1005.3" y1="116" x2="1011.8" y2="116" stroke="#000" stroke-width="1.8" />
<line x1="1005.3" y1="76.6" x2="1011.8" y2="76.6" stroke="#000" stroke-width="1.8" />
<line x1="1005.3" y1="37.2" x2="1011.8" y2="37.2" stroke="#000" stroke-width="1.8" />
<line x1="1005.3" y1="182.9" x2="1008.3" y2="182.9" stroke="#000" stroke-width="1.5" />
<line x1="1005.3" y1="176" x2="1008.3" y2="176" stroke="#000" stroke-width="1.5" />
<line x1="1005.3" y1="171.1" x2="1008.3" y2="171.1" stroke="#000" stroke-width="1.5" />
<line x1="1005.3" y1="167.3" x2="1008.3" y2="167.3" stroke="#000" stroke-width="1.5" />
<line x1="1005.3" y1="164.1" x2="1008.3" y2="164.1" stroke="#000" stroke-width="1.5" />
<line x1="1005.3" y1="161.5" x2="1008.3" y2="161.5" stroke="#000" stroke-width="1.5" />
<line x1="1005.3" y1="159.2" x2="1008.3" y2="159.2" stroke="#000" stroke-width="1.5" />
<line x1="1005.3" y1="157.2" x2="1008.3" y2="157.2" stroke="#000" stroke-width="1.5" />
<line x1="1005.3" y1="143.5" x2="1008.3" y2="143.5" stroke="#000" stroke-width="1.5" />
<line x1="1005.3" y1="136.6" x2="1008.3" y2="136.6" stroke="#000" stroke-width="1.5" />
<line x1="1005.3" y1="131.7" x2="1008.3" y2="131.7" stroke="#000" stroke-width="1.5" />
<line x1="1005.3" y1="127.9" x2="1008.3" y2="127.9" stroke="#000" stroke-width="1.5" />
<line x1="1005.3" y1="124.7" x2="1008.3" y2="124.7" stroke="#000" stroke-width="1.5" />
<line x1="1005.3" y1="122.1" x2="1008.3" y2="122.1" stroke="#000" stroke-width="1.5" />
<line x1="1005.3" y1="119.8" x2="1008.3" y2="119.8" stroke="#000" stroke-width="1.5" />
<line x1="1005.3" y1="117.8" x2="1008.3" y2="117.8" stroke="#000" stroke-width="1.5" />
<line x1="1005.3" y1="104.1" x2="1008.3" y2="104.1" stroke="#000" stroke-width="1.5" />
<line x1="1005.3" y1="97.2" x2="1008.3" y2="97.2" stroke="#000" stroke-width="1.5" />
<line x1="1005.3" y1="92.3" x2="1008.3" y2="92.3" stroke="#000" stroke-width="1.5" />
<line x1="1005.3" y1="88.5" x2="1008.3" y2="88.5" stroke="#000" stroke-width="1.5" />
<line x1="1005.3" y1="85.3" x2="1008.3" y2="85.3" stroke="#000" stroke-width="1.5" />
<line x1="1005.3" y1="82.7" x2="1008.3" y2="82.7" stroke="#000" stroke-width="1.5" />
<line x1="1005.3" y1="80.4" x2="1008.3" y2="80.4" stroke="#000" stroke-width="1.5" />
<line x1="1005.3" y1="78.4" x2="1008.3" y2="78.4" stroke="#000" stroke-width="1.5" />
<line x1="1005.3" y1="64.7" x2="1008.3" y2="64.7" stroke="#000" stroke-width="1.5" />
<line x1="1005.3" y1="57.8" x2="1008.3" y2="57.8" stroke="#000" stroke-width="1.5" />
<line x1="1005.3" y1="52.9" x2="1008.3" y2="52.9" stroke="#000" stroke-width="1.5" />
<line x1="1005.3" y1="49.1" x2="1008.3" y2="49.1" stroke="#000" stroke-width="1.5" />
<line x1="1005.3" y1="45.9" x2="1008.3" y2="45.9" stroke="#000" stroke-width="1.5" />
<line x1="1005.3" y1="43.3" x2="1008.3" y2="43.3" stroke="#000" stroke-width="1.5" />
<line x1="1005.3" y1="41" x2="1008.3" y2="41" stroke="#000" stroke-width="1.5" />
<line x1="1005.3" y1="39" x2="1008.3" y2="39" stroke="#000" stroke-width="1.5" />
<line x1="1259.5" y1="194.8" x2="1252.5" y2="194.8" stroke="#000" stroke-width="1.8" />
<line x1="1259.5" y1="138.4" x2="1252.5" y2="138.4" stroke="#000" stroke-width="1.8" />
<line x1="1259.5" y1="82.1" x2="1252.5" y2="82.1" stroke="#000" stroke-width="1.8" />
<line x1="1259.5" y1="25.7" x2="1252.5" y2="25.7" stroke="#000" stroke-width="1.8" />
<line x1="1259.5" y1="166.6" x2="1256" y2="166.6" stroke="#000" stroke-width="1.6" />
<line x1="1259.5" y1="110.3" x2="1256" y2="110.3" stroke="#000" stroke-width="1.6" />
<line x1="1259.5" y1="53.9" x2="1256" y2="53.9" stroke="#000" stroke-width="1.6" />
<line x1="1020.2" y1="194.8" x2="1020.2" y2="188.8" stroke="#000" stroke-width="1.8" />
<line x1="1095.1" y1="194.8" x2="1095.1" y2="188.8" stroke="#000" stroke-width="1.8" />
<line x1="1170.1" y1="194.8" x2="1170.1" y2="188.8" stroke="#000" stroke-width="1.8" />
<line x1="1245" y1="194.8" x2="1245" y2="188.8" stroke="#000" stroke-width="1.8" />
<line x1="1057.7" y1="194.8" x2="1057.7" y2="191.3" stroke="#000" stroke-width="1.5" />
<line x1="1132.6" y1="194.8" x2="1132.6" y2="191.3" stroke="#000" stroke-width="1.5" />
<line x1="1207.5" y1="194.8" x2="1207.5" y2="191.3" stroke="#000" stroke-width="1.5" />
<text x="999.8" y="203.6" font-size="23" text-anchor="end" >10<tspan font-size="15" dy="-9.4">3</tspan></text>
<text x="999.8" y="164.2" font-size="23" text-anchor="end" >10<tspan font-size="15" dy="-9.4">4</tspan></text>
<text x="999.8" y="124.8" font-size="23" text-anchor="end" >10<tspan font-size="15" dy="-9.4">5</tspan></text>
<text x="999.8" y="85.4" font-size="23" text-anchor="end" >10<tspan font-size="15" dy="-9.4">6</tspan></text>
<text x="999.8" y="46" font-size="23" text-anchor="end" >10<tspan font-size="15" dy="-9.4">7</tspan></text>
<text x="1266.5" y="203.3" font-size="23" text-anchor="start" >0</text>
<text x="1266.5" y="146.9" font-size="23" text-anchor="start" >10</text>
<text x="1266.5" y="90.6" font-size="23" text-anchor="start" >20</text>
<text x="1266.5" y="34.2" font-size="23" text-anchor="start" >30</text>
<text transform="translate(952.5,117.8) rotate(-90)" font-size="29" text-anchor="middle">On/off ratio</text>
<text transform="translate(1306.3,112.8) rotate(90)" font-size="29.5" text-anchor="middle">MW (V)</text>
<rect x="1005.3" y="220.6" width="254.2" height="169.4" fill="none" stroke="#000" stroke-width="2.2"/>
<line x1="1005.3" y1="390" x2="1011.8" y2="390" stroke="#000" stroke-width="1.8" />
<line x1="1005.3" y1="350.6" x2="1011.8" y2="350.6" stroke="#000" stroke-width="1.8" />
<line x1="1005.3" y1="311.2" x2="1011.8" y2="311.2" stroke="#000" stroke-width="1.8" />
<line x1="1005.3" y1="271.9" x2="1011.8" y2="271.9" stroke="#000" stroke-width="1.8" />
<line x1="1005.3" y1="232.5" x2="1011.8" y2="232.5" stroke="#000" stroke-width="1.8" />
<line x1="1005.3" y1="378.1" x2="1008.3" y2="378.1" stroke="#000" stroke-width="1.5" />
<line x1="1005.3" y1="371.2" x2="1008.3" y2="371.2" stroke="#000" stroke-width="1.5" />
<line x1="1005.3" y1="366.3" x2="1008.3" y2="366.3" stroke="#000" stroke-width="1.5" />
<line x1="1005.3" y1="362.5" x2="1008.3" y2="362.5" stroke="#000" stroke-width="1.5" />
<line x1="1005.3" y1="359.4" x2="1008.3" y2="359.4" stroke="#000" stroke-width="1.5" />
<line x1="1005.3" y1="356.7" x2="1008.3" y2="356.7" stroke="#000" stroke-width="1.5" />
<line x1="1005.3" y1="354.4" x2="1008.3" y2="354.4" stroke="#000" stroke-width="1.5" />
<line x1="1005.3" y1="352.4" x2="1008.3" y2="352.4" stroke="#000" stroke-width="1.5" />
<line x1="1005.3" y1="338.8" x2="1008.3" y2="338.8" stroke="#000" stroke-width="1.5" />
<line x1="1005.3" y1="331.8" x2="1008.3" y2="331.8" stroke="#000" stroke-width="1.5" />
<line x1="1005.3" y1="326.9" x2="1008.3" y2="326.9" stroke="#000" stroke-width="1.5" />
<line x1="1005.3" y1="323.1" x2="1008.3" y2="323.1" stroke="#000" stroke-width="1.5" />
<line x1="1005.3" y1="320" x2="1008.3" y2="320" stroke="#000" stroke-width="1.5" />
<line x1="1005.3" y1="317.3" x2="1008.3" y2="317.3" stroke="#000" stroke-width="1.5" />
<line x1="1005.3" y1="315.1" x2="1008.3" y2="315.1" stroke="#000" stroke-width="1.5" />
<line x1="1005.3" y1="313.1" x2="1008.3" y2="313.1" stroke="#000" stroke-width="1.5" />
<line x1="1005.3" y1="299.4" x2="1008.3" y2="299.4" stroke="#000" stroke-width="1.5" />
<line x1="1005.3" y1="292.5" x2="1008.3" y2="292.5" stroke="#000" stroke-width="1.5" />
<line x1="1005.3" y1="287.5" x2="1008.3" y2="287.5" stroke="#000" stroke-width="1.5" />
<line x1="1005.3" y1="283.7" x2="1008.3" y2="283.7" stroke="#000" stroke-width="1.5" />
<line x1="1005.3" y1="280.6" x2="1008.3" y2="280.6" stroke="#000" stroke-width="1.5" />
<line x1="1005.3" y1="278" x2="1008.3" y2="278" stroke="#000" stroke-width="1.5" />
<line x1="1005.3" y1="275.7" x2="1008.3" y2="275.7" stroke="#000" stroke-width="1.5" />
<line x1="1005.3" y1="273.7" x2="1008.3" y2="273.7" stroke="#000" stroke-width="1.5" />
<line x1="1005.3" y1="260" x2="1008.3" y2="260" stroke="#000" stroke-width="1.5" />
<line x1="1005.3" y1="253.1" x2="1008.3" y2="253.1" stroke="#000" stroke-width="1.5" />
<line x1="1005.3" y1="248.2" x2="1008.3" y2="248.2" stroke="#000" stroke-width="1.5" />
<line x1="1005.3" y1="244.4" x2="1008.3" y2="244.4" stroke="#000" stroke-width="1.5" />
<line x1="1005.3" y1="241.2" x2="1008.3" y2="241.2" stroke="#000" stroke-width="1.5" />
<line x1="1005.3" y1="238.6" x2="1008.3" y2="238.6" stroke="#000" stroke-width="1.5" />
<line x1="1005.3" y1="236.3" x2="1008.3" y2="236.3" stroke="#000" stroke-width="1.5" />
<line x1="1005.3" y1="234.3" x2="1008.3" y2="234.3" stroke="#000" stroke-width="1.5" />
<line x1="1259.5" y1="390" x2="1252.5" y2="390" stroke="#000" stroke-width="1.8" />
<line x1="1259.5" y1="333.5" x2="1252.5" y2="333.5" stroke="#000" stroke-width="1.8" />
<line x1="1259.5" y1="277.1" x2="1252.5" y2="277.1" stroke="#000" stroke-width="1.8" />
<line x1="1259.5" y1="220.6" x2="1252.5" y2="220.6" stroke="#000" stroke-width="1.8" />
<line x1="1259.5" y1="361.8" x2="1256" y2="361.8" stroke="#000" stroke-width="1.6" />
<line x1="1259.5" y1="305.3" x2="1256" y2="305.3" stroke="#000" stroke-width="1.6" />
<line x1="1259.5" y1="248.8" x2="1256" y2="248.8" stroke="#000" stroke-width="1.6" />
<line x1="1020.2" y1="390" x2="1020.2" y2="384" stroke="#000" stroke-width="1.8" />
<line x1="1095.1" y1="390" x2="1095.1" y2="384" stroke="#000" stroke-width="1.8" />
<line x1="1170.1" y1="390" x2="1170.1" y2="384" stroke="#000" stroke-width="1.8" />
<line x1="1245" y1="390" x2="1245" y2="384" stroke="#000" stroke-width="1.8" />
<line x1="1057.7" y1="390" x2="1057.7" y2="386.5" stroke="#000" stroke-width="1.5" />
<line x1="1132.6" y1="390" x2="1132.6" y2="386.5" stroke="#000" stroke-width="1.5" />
<line x1="1207.5" y1="390" x2="1207.5" y2="386.5" stroke="#000" stroke-width="1.5" />
<text x="999.8" y="398.8" font-size="23" text-anchor="end" >10<tspan font-size="15" dy="-9.4">3</tspan></text>
<text x="999.8" y="359.4" font-size="23" text-anchor="end" >10<tspan font-size="15" dy="-9.4">4</tspan></text>
<text x="999.8" y="320.1" font-size="23" text-anchor="end" >10<tspan font-size="15" dy="-9.4">5</tspan></text>
<text x="999.8" y="280.7" font-size="23" text-anchor="end" >10<tspan font-size="15" dy="-9.4">6</tspan></text>
<text x="999.8" y="241.3" font-size="23" text-anchor="end" >10<tspan font-size="15" dy="-9.4">7</tspan></text>
<text x="1266.5" y="398.5" font-size="23" text-anchor="start" >0</text>
<text x="1266.5" y="342" font-size="23" text-anchor="start" >10</text>
<text x="1266.5" y="285.6" font-size="23" text-anchor="start" >20</text>
<text x="1266.5" y="229.1" font-size="23" text-anchor="start" >30</text>
<text transform="translate(952.5,312.8) rotate(-90)" font-size="29" text-anchor="middle">On/off ratio</text>
<text transform="translate(1306.3,307.8) rotate(90)" font-size="29.5" text-anchor="middle">MW (V)</text>
<text x="1020.2" y="420.5" font-size="24" text-anchor="middle" >5</text>
<text x="1095.1" y="420.5" font-size="24" text-anchor="middle" >10</text>
<text x="1170.1" y="420.5" font-size="24" text-anchor="middle" >15</text>
<text x="1245" y="420.5" font-size="24" text-anchor="middle" >20</text>
<text x="1071" y="465.4" font-size="30.5" text-anchor="start" >|<tspan font-style="italic">V</tspan><tspan font-size="17" dy="8.5">GG</tspan><tspan dy="-8.5">​</tspan>|<tspan font-size="17" dy="8.5">max</tspan><tspan dy="-8.5">​</tspan> (V)</text>
<text x="933.5" y="24.8" font-size="29.5" text-anchor="start" >b</text>
<polyline points="1453.7,44.7 1457.4,27.6" fill="none" stroke="#1c48a2" stroke-width="2.0" stroke-linejoin="round" stroke-linecap="round" />
<polyline points="1466.1,27.6 1479.7,240 1492,341.3 1504.4,368 1518,371.5 1531.6,373.2 1560,373.4" fill="none" stroke="#3090d8" stroke-width="2.0" stroke-linejoin="round" stroke-linecap="round" />
<polyline points="1522.9,27.6 1529.1,180.7 1541.4,333.9 1553.8,366 1567.4,372.2 1590,373.4" fill="none" stroke="#2a6fc2" stroke-width="2.0" stroke-linejoin="round" stroke-linecap="round" />
<polyline points="1543.9,27.6 1566.2,311.6 1578.5,361.1 1590.9,371 1610,373.4" fill="none" stroke="#2459b2" stroke-width="2.0" stroke-linejoin="round" stroke-linecap="round" />
<polyline points="1556.3,27.6 1578.5,282 1590.9,353.7 1603.2,370.5 1620,373.4 1660,373.4" fill="none" stroke="#1c48a2" stroke-width="2.0" stroke-linejoin="round" stroke-linecap="round" />
<polyline points="1606.9,27.6 1616.8,79.3 1634.1,277 1641.5,341.3 1653.9,369.7 1665,373.2 1702,373.4" fill="none" stroke="#142f86" stroke-width="2.0" stroke-linejoin="round" stroke-linecap="round" />
<polyline points="1631.7,27.6 1647.7,277 1652.7,336.4 1666.3,371" fill="none" stroke="#142f86" stroke-width="2.0" stroke-linejoin="round" stroke-linecap="round" stroke-dasharray="16 7"/>
<line x1="1656.4" y1="277.8" x2="1459.9" y2="277.8" stroke="#000" stroke-width="1.9" />
<polyline points="1470.9,273.3 1459.9,277.8 1470.9,282.3" fill="none" stroke="#000" stroke-width="1.71" stroke-linejoin="round" stroke-linecap="round" />
<polyline points="1487,286.4 1503.1,286.4 1503.1,315.4 1514.3,315.4 1514.3,286.4 1530.3,286.4" fill="none" stroke="#38a8e0" stroke-width="2.0" stroke-linejoin="round" stroke-linecap="round" stroke-linecap="butt" stroke-linejoin="miter"/>
<polyline points="1652.7,262.2 1668.7,262.2 1668.7,234.5 1677.4,234.5 1677.4,262.2 1694.7,262.2" fill="none" stroke="#000" stroke-width="2.0" stroke-linejoin="round" stroke-linecap="round" stroke-linecap="butt" stroke-linejoin="miter"/>
<text x="1652" y="221.4" font-size="22" text-anchor="start" >15 V</text>
<text x="1684.5" y="55.8" font-size="22" text-anchor="start" >i</text>
<polyline points="1729.8,373.4 1754.6,371 1775.6,351.3 1796.6,277.1 1809,188.1 1816.4,101.6 1822.5,27.6" fill="none" stroke="#000" stroke-width="2.0" stroke-linejoin="round" stroke-linecap="round" stroke-dasharray="15 7"/>
<polyline points="1724,373.4 1789.2,373.5 1801.5,371 1813.9,366.1 1826.2,356.2 1838.6,327.8 1851,267.2 1863.3,148.6 1874.5,27.6" fill="none" stroke="#4a1a10" stroke-width="2.0" stroke-linejoin="round" stroke-linecap="round" />
<polyline points="1790,373.4 1826.2,372.3 1838.6,367.3 1851,356.2 1863.3,330.3 1875.7,274.6 1888.1,158.4 1900.4,27.6" fill="none" stroke="#3a1208" stroke-width="2.0" stroke-linejoin="round" stroke-linecap="round" />
<polyline points="1820,373.4 1851,373 1863.3,369.8 1875.7,362.4 1888.1,342.6 1900.4,304.3 1912.8,230.1 1922.7,138.7 1929.6,27.6" fill="none" stroke="#7a2a12" stroke-width="2.0" stroke-linejoin="round" stroke-linecap="round" />
<polyline points="1840,373.4 1863.3,373.5 1875.7,371 1888.1,363.6 1900.4,346.3 1912.8,311.7 1926.4,232.6 1936.3,138.7 1943,27.6" fill="none" stroke="#b3400f" stroke-width="2.0" stroke-linejoin="round" stroke-linecap="round" />
<polyline points="1850,373.4 1875.7,373.5 1888.1,370.5 1900.4,363.6 1914,346.3 1927.6,304.3 1940,232.6 1948.6,143.6 1956,27.6" fill="none" stroke="#e35a18" stroke-width="2.0" stroke-linejoin="round" stroke-linecap="round" />
<line x1="1757" y1="279.1" x2="1936.3" y2="279.1" stroke="#000" stroke-width="1.9" />
<polyline points="1925.3,283.6 1936.3,279.1 1925.3,274.6" fill="none" stroke="#000" stroke-width="1.71" stroke-linejoin="round" stroke-linecap="round" />
<polyline points="1731.8,238.8 1747.1,238.8 1747.1,267.2 1758.3,267.2 1758.3,238.8 1773.8,238.8" fill="none" stroke="#000" stroke-width="2.0" stroke-linejoin="round" stroke-linecap="round" stroke-linecap="butt" stroke-linejoin="miter"/>
<polyline points="1927.6,314.2 1943.7,314.2 1943.7,285.3 1953.6,285.3 1953.6,314.2 1969.1,314.2" fill="none" stroke="#e8141e" stroke-width="2.0" stroke-linejoin="round" stroke-linecap="round" stroke-linecap="butt" stroke-linejoin="miter"/>
<text x="1724" y="224" font-size="22" text-anchor="start" >-15 V</text>
<text x="1741" y="55.8" font-size="22" text-anchor="start" >ii</text>
<rect x="1452.5" y="27.2" width="251.2" height="363.3" fill="none" stroke="#000" stroke-width="2.6"/>
<line x1="1452.5" y1="373.4" x2="1458.5" y2="373.4" stroke="#000" stroke-width="1.8" />
<line x1="1452.5" y1="304.2" x2="1458.5" y2="304.2" stroke="#000" stroke-width="1.8" />
<line x1="1452.5" y1="234.9" x2="1458.5" y2="234.9" stroke="#000" stroke-width="1.8" />
<line x1="1452.5" y1="165.7" x2="1458.5" y2="165.7" stroke="#000" stroke-width="1.8" />
<line x1="1452.5" y1="96.4" x2="1458.5" y2="96.4" stroke="#000" stroke-width="1.8" />
<line x1="1452.5" y1="27.2" x2="1458.5" y2="27.2" stroke="#000" stroke-width="1.8" />
<line x1="1452.5" y1="338.8" x2="1455.5" y2="338.8" stroke="#000" stroke-width="1.5" />
<line x1="1452.5" y1="269.5" x2="1455.5" y2="269.5" stroke="#000" stroke-width="1.5" />
<line x1="1452.5" y1="200.3" x2="1455.5" y2="200.3" stroke="#000" stroke-width="1.5" />
<line x1="1452.5" y1="131.1" x2="1455.5" y2="131.1" stroke="#000" stroke-width="1.5" />
<line x1="1452.5" y1="61.8" x2="1455.5" y2="61.8" stroke="#000" stroke-width="1.5" />
<line x1="1453.9" y1="390.5" x2="1453.9" y2="385" stroke="#000" stroke-width="1.8" />
<line x1="1495.6" y1="390.5" x2="1495.6" y2="385" stroke="#000" stroke-width="1.8" />
<line x1="1537.3" y1="390.5" x2="1537.3" y2="385" stroke="#000" stroke-width="1.8" />
<line x1="1579" y1="390.5" x2="1579" y2="385" stroke="#000" stroke-width="1.8" />
<line x1="1620.7" y1="390.5" x2="1620.7" y2="385" stroke="#000" stroke-width="1.8" />
<line x1="1662.4" y1="390.5" x2="1662.4" y2="385" stroke="#000" stroke-width="1.8" />
<line x1="1704.1" y1="390.5" x2="1704.1" y2="385" stroke="#000" stroke-width="1.8" />
<line x1="1474.8" y1="390.5" x2="1474.8" y2="387.5" stroke="#000" stroke-width="1.5" />
<line x1="1516.5" y1="390.5" x2="1516.5" y2="387.5" stroke="#000" stroke-width="1.5" />
<line x1="1558.2" y1="390.5" x2="1558.2" y2="387.5" stroke="#000" stroke-width="1.5" />
<line x1="1599.8" y1="390.5" x2="1599.8" y2="387.5" stroke="#000" stroke-width="1.5" />
<line x1="1641.5" y1="390.5" x2="1641.5" y2="387.5" stroke="#000" stroke-width="1.5" />
<line x1="1683.2" y1="390.5" x2="1683.2" y2="387.5" stroke="#000" stroke-width="1.5" />
<text x="1453.9" y="419.4" font-size="21.5" text-anchor="middle" >−3</text>
<text x="1495.6" y="419.4" font-size="21.5" text-anchor="middle" >−2</text>
<text x="1537.3" y="419.4" font-size="21.5" text-anchor="middle" >−1</text>
<text x="1579" y="419.4" font-size="21.5" text-anchor="middle" >0</text>
<text x="1620.7" y="419.4" font-size="21.5" text-anchor="middle" >1</text>
<text x="1662.4" y="419.4" font-size="21.5" text-anchor="middle" >2</text>
<text x="1704.1" y="419.4" font-size="21.5" text-anchor="middle" >3</text>
<rect x="1722.8" y="27.2" width="250.5" height="363.3" fill="none" stroke="#000" stroke-width="2.6"/>
<line x1="1722.8" y1="373.4" x2="1728.8" y2="373.4" stroke="#000" stroke-width="1.8" />
<line x1="1722.8" y1="304.2" x2="1728.8" y2="304.2" stroke="#000" stroke-width="1.8" />
<line x1="1722.8" y1="234.9" x2="1728.8" y2="234.9" stroke="#000" stroke-width="1.8" />
<line x1="1722.8" y1="165.7" x2="1728.8" y2="165.7" stroke="#000" stroke-width="1.8" />
<line x1="1722.8" y1="96.4" x2="1728.8" y2="96.4" stroke="#000" stroke-width="1.8" />
<line x1="1722.8" y1="27.2" x2="1728.8" y2="27.2" stroke="#000" stroke-width="1.8" />
<line x1="1722.8" y1="338.8" x2="1725.8" y2="338.8" stroke="#000" stroke-width="1.5" />
<line x1="1722.8" y1="269.5" x2="1725.8" y2="269.5" stroke="#000" stroke-width="1.5" />
<line x1="1722.8" y1="200.3" x2="1725.8" y2="200.3" stroke="#000" stroke-width="1.5" />
<line x1="1722.8" y1="131.1" x2="1725.8" y2="131.1" stroke="#000" stroke-width="1.5" />
<line x1="1722.8" y1="61.8" x2="1725.8" y2="61.8" stroke="#000" stroke-width="1.5" />
<line x1="1722.5" y1="390.5" x2="1722.5" y2="385" stroke="#000" stroke-width="1.8" />
<line x1="1764.2" y1="390.5" x2="1764.2" y2="385" stroke="#000" stroke-width="1.8" />
<line x1="1805.9" y1="390.5" x2="1805.9" y2="385" stroke="#000" stroke-width="1.8" />
<line x1="1847.6" y1="390.5" x2="1847.6" y2="385" stroke="#000" stroke-width="1.8" />
<line x1="1889.3" y1="390.5" x2="1889.3" y2="385" stroke="#000" stroke-width="1.8" />
<line x1="1931" y1="390.5" x2="1931" y2="385" stroke="#000" stroke-width="1.8" />
<line x1="1972.7" y1="390.5" x2="1972.7" y2="385" stroke="#000" stroke-width="1.8" />
<line x1="1743.3" y1="390.5" x2="1743.3" y2="387.5" stroke="#000" stroke-width="1.5" />
<line x1="1785" y1="390.5" x2="1785" y2="387.5" stroke="#000" stroke-width="1.5" />
<line x1="1826.8" y1="390.5" x2="1826.8" y2="387.5" stroke="#000" stroke-width="1.5" />
<line x1="1868.5" y1="390.5" x2="1868.5" y2="387.5" stroke="#000" stroke-width="1.5" />
<line x1="1910.2" y1="390.5" x2="1910.2" y2="387.5" stroke="#000" stroke-width="1.5" />
<line x1="1951.9" y1="390.5" x2="1951.9" y2="387.5" stroke="#000" stroke-width="1.5" />
<text x="1722.5" y="419.4" font-size="21.5" text-anchor="middle" >−4</text>
<text x="1764.2" y="419.4" font-size="21.5" text-anchor="middle" >−3</text>
<text x="1805.9" y="419.4" font-size="21.5" text-anchor="middle" >−2</text>
<text x="1847.6" y="419.4" font-size="21.5" text-anchor="middle" >−1</text>
<text x="1889.3" y="419.4" font-size="21.5" text-anchor="middle" >0</text>
<text x="1931" y="419.4" font-size="21.5" text-anchor="middle" >1</text>
<text x="1972.7" y="419.4" font-size="21.5" text-anchor="middle" >2</text>
<text x="1445" y="382.5" font-size="24" text-anchor="end" >0</text>
<text x="1445" y="313.3" font-size="24" text-anchor="end" >20n</text>
<text x="1445" y="244" font-size="24" text-anchor="end" >40n</text>
<text x="1445" y="174.8" font-size="24" text-anchor="end" >60n</text>
<text x="1445" y="105.5" font-size="24" text-anchor="end" >80n</text>
<text x="1445" y="36.3" font-size="24" text-anchor="end" >100n</text>
<text x="1541.5" y="461.9" font-size="29.5" text-anchor="start" ><tspan font-style="italic">V</tspan><tspan font-size="16" dy="9.5">GG</tspan><tspan dy="-9.5">​</tspan> (V)</text>
<text x="1812.5" y="461.9" font-size="29.5" text-anchor="start" ><tspan font-style="italic">V</tspan><tspan font-size="16" dy="9.5">GG</tspan><tspan dy="-9.5">​</tspan> (V)</text>
<text transform="translate(1379.5,209.5) rotate(-90)" font-size="31" text-anchor="middle"><tspan font-style="italic">I</tspan><tspan font-size="17.5" dy="10">DS</tspan><tspan dy="-10">​</tspan> (A)</text>
<text x="1365" y="24.8" font-size="29.5" text-anchor="start" >c</text>
<rect x="115.4" y="568.5" width="29" height="3.4" fill="#000" stroke="none" stroke-width="0" />
<rect x="125.9" y="566.1" width="8" height="8" fill="#333" stroke="#000" stroke-width="2" />
<rect x="158.5" y="568.5" width="29" height="3.4" fill="#000" stroke="none" stroke-width="0" />
<rect x="169" y="566.1" width="8" height="8" fill="#333" stroke="#000" stroke-width="2" />
<rect x="201.3" y="568.5" width="29" height="3.4" fill="#000" stroke="none" stroke-width="0" />
<rect x="211.8" y="566.1" width="8" height="8" fill="#333" stroke="#000" stroke-width="2" />
<rect x="245" y="568.5" width="29" height="3.4" fill="#000" stroke="none" stroke-width="0" />
<rect x="255.5" y="566.1" width="8" height="8" fill="#333" stroke="#000" stroke-width="2" />
<rect x="287.6" y="568.5" width="29" height="3.4" fill="#000" stroke="none" stroke-width="0" />
<rect x="298.1" y="566.1" width="8" height="8" fill="#333" stroke="#000" stroke-width="2" />
<rect x="330.7" y="568.5" width="29" height="3.4" fill="#000" stroke="none" stroke-width="0" />
<rect x="341.2" y="566.1" width="8" height="8" fill="#333" stroke="#000" stroke-width="2" />
<rect x="115.4" y="580.2" width="29" height="4" fill="#22306e" stroke="none" stroke-width="0" />
<rect x="124.9" y="577.3" width="10" height="10" fill="#22306e" stroke="none" stroke-width="0" />
<rect x="158.5" y="597.4" width="29" height="4.4" fill="#1a35a0" stroke="none" stroke-width="0" />
<rect x="168" y="594.6" width="10" height="10" fill="#1a35a0" stroke="none" stroke-width="0" />
<rect x="201.3" y="619.6" width="29" height="4.4" fill="#3568b5" stroke="none" stroke-width="0" />
<rect x="210.8" y="617.3" width="10" height="10" fill="#3568b5" stroke="none" stroke-width="0" />
<line x1="259.5" y1="671.4" x2="259.5" y2="670" stroke="#4f94c8" stroke-width="2.4" />
<line x1="259.5" y1="684.9" x2="259.5" y2="701.4" stroke="#4f94c8" stroke-width="2.4" />
<line x1="256.8" y1="670" x2="262.2" y2="670" stroke="#4f94c8" stroke-width="2.4" />
<line x1="256.8" y1="701.4" x2="262.2" y2="701.4" stroke="#4f94c8" stroke-width="2.4" />
<rect x="246.2" y="671.6" width="26.6" height="13.1" fill="#fff" stroke="#4f94c8" stroke-width="2.4" />
<line x1="247.4" y1="674.4" x2="271.6" y2="674.4" stroke="#4f94c8" stroke-width="2.4" />
<rect x="255.8" y="673.6" width="7.5" height="7.5" fill="#fff" stroke="#4f94c8" stroke-width="2.4" />
<line x1="302.1" y1="771.8" x2="302.1" y2="767.7" stroke="#5bbcd6" stroke-width="2.4" />
<line x1="302.1" y1="791.1" x2="302.1" y2="806.3" stroke="#5bbcd6" stroke-width="2.4" />
<line x1="299.4" y1="767.7" x2="304.9" y2="767.7" stroke="#5bbcd6" stroke-width="2.4" />
<line x1="299.4" y1="806.3" x2="304.9" y2="806.3" stroke="#5bbcd6" stroke-width="2.4" />
<rect x="288.8" y="772" width="26.6" height="18.9" fill="#fff" stroke="#5bbcd6" stroke-width="2.4" />
<line x1="290" y1="778.5" x2="314.2" y2="778.5" stroke="#5bbcd6" stroke-width="2.4" />
<rect x="298.4" y="775.5" width="7.5" height="7.5" fill="#fff" stroke="#5bbcd6" stroke-width="2.4" />
<rect x="330.7" y="882.6" width="29" height="4.2" fill="#9fd5df" stroke="none" stroke-width="0" />
<rect x="340.2" y="879.4" width="10" height="10" fill="#9fd5df" stroke="none" stroke-width="0" />
<line x1="402" y1="860.6" x2="402" y2="857.8" stroke="#000" stroke-width="2.4" />
<line x1="402" y1="875.3" x2="402" y2="880.2" stroke="#000" stroke-width="2.4" />
<line x1="399.2" y1="857.8" x2="404.8" y2="857.8" stroke="#000" stroke-width="2.4" />
<line x1="399.2" y1="880.2" x2="404.8" y2="880.2" stroke="#000" stroke-width="2.4" />
<rect x="388.7" y="860.8" width="26.6" height="14.3" fill="#fff" stroke="#000" stroke-width="2.4" />
<line x1="389.9" y1="867.6" x2="414.1" y2="867.6" stroke="#000" stroke-width="2.4" />
<rect x="398.8" y="863.6" width="6.5" height="6.5" fill="#fff" stroke="#000" stroke-width="2.4" />
<line x1="445" y1="860.6" x2="445" y2="857.8" stroke="#000" stroke-width="2.4" />
<line x1="445" y1="875.3" x2="445" y2="880.2" stroke="#000" stroke-width="2.4" />
<line x1="442.2" y1="857.8" x2="447.8" y2="857.8" stroke="#000" stroke-width="2.4" />
<line x1="442.2" y1="880.2" x2="447.8" y2="880.2" stroke="#000" stroke-width="2.4" />
<rect x="431.7" y="860.8" width="26.6" height="14.3" fill="#fff" stroke="#000" stroke-width="2.4" />
<line x1="432.9" y1="867.6" x2="457.1" y2="867.6" stroke="#000" stroke-width="2.4" />
<rect x="441.8" y="863.6" width="6.5" height="6.5" fill="#fff" stroke="#000" stroke-width="2.4" />
<line x1="488.1" y1="860.6" x2="488.1" y2="857.8" stroke="#000" stroke-width="2.4" />
<line x1="488.1" y1="875.3" x2="488.1" y2="880.2" stroke="#000" stroke-width="2.4" />
<line x1="485.4" y1="857.8" x2="490.9" y2="857.8" stroke="#000" stroke-width="2.4" />
<line x1="485.4" y1="880.2" x2="490.9" y2="880.2" stroke="#000" stroke-width="2.4" />
<rect x="474.8" y="860.8" width="26.6" height="14.3" fill="#fff" stroke="#000" stroke-width="2.4" />
<line x1="476" y1="867.6" x2="500.2" y2="867.6" stroke="#000" stroke-width="2.4" />
<rect x="484.9" y="863.6" width="6.5" height="6.5" fill="#fff" stroke="#000" stroke-width="2.4" />
<line x1="531.2" y1="860.6" x2="531.2" y2="857.8" stroke="#000" stroke-width="2.4" />
<line x1="531.2" y1="875.3" x2="531.2" y2="880.2" stroke="#000" stroke-width="2.4" />
<line x1="528.5" y1="857.8" x2="534" y2="857.8" stroke="#000" stroke-width="2.4" />
<line x1="528.5" y1="880.2" x2="534" y2="880.2" stroke="#000" stroke-width="2.4" />
<rect x="517.9" y="860.8" width="26.6" height="14.3" fill="#fff" stroke="#000" stroke-width="2.4" />
<line x1="519.1" y1="867.6" x2="543.3" y2="867.6" stroke="#000" stroke-width="2.4" />
<rect x="528" y="863.6" width="6.5" height="6.5" fill="#fff" stroke="#000" stroke-width="2.4" />
<line x1="574.3" y1="860.6" x2="574.3" y2="857.8" stroke="#000" stroke-width="2.4" />
<line x1="574.3" y1="875.3" x2="574.3" y2="880.2" stroke="#000" stroke-width="2.4" />
<line x1="571.5" y1="857.8" x2="577" y2="857.8" stroke="#000" stroke-width="2.4" />
<line x1="571.5" y1="880.2" x2="577" y2="880.2" stroke="#000" stroke-width="2.4" />
<rect x="561" y="860.8" width="26.6" height="14.3" fill="#fff" stroke="#000" stroke-width="2.4" />
<line x1="562.2" y1="867.6" x2="586.4" y2="867.6" stroke="#000" stroke-width="2.4" />
<rect x="571" y="863.6" width="6.5" height="6.5" fill="#fff" stroke="#000" stroke-width="2.4" />
<line x1="617.2" y1="860.6" x2="617.2" y2="857.8" stroke="#000" stroke-width="2.4" />
<line x1="617.2" y1="875.3" x2="617.2" y2="880.2" stroke="#000" stroke-width="2.4" />
<line x1="614.5" y1="857.8" x2="620" y2="857.8" stroke="#000" stroke-width="2.4" />
<line x1="614.5" y1="880.2" x2="620" y2="880.2" stroke="#000" stroke-width="2.4" />
<rect x="603.9" y="860.8" width="26.6" height="14.3" fill="#fff" stroke="#000" stroke-width="2.4" />
<line x1="605.1" y1="867.6" x2="629.3" y2="867.6" stroke="#000" stroke-width="2.4" />
<rect x="614" y="863.6" width="6.5" height="6.5" fill="#fff" stroke="#000" stroke-width="2.4" />
<line x1="402" y1="842.4" x2="402" y2="839" stroke="#1d8a3c" stroke-width="2.4" />
<line x1="402" y1="848" x2="402" y2="850" stroke="#1d8a3c" stroke-width="2.4" />
<line x1="399.2" y1="839" x2="404.8" y2="839" stroke="#1d8a3c" stroke-width="2.4" />
<line x1="399.2" y1="850" x2="404.8" y2="850" stroke="#1d8a3c" stroke-width="2.4" />
<rect x="388.7" y="842.6" width="26.6" height="5.2" fill="#fff" stroke="#1d8a3c" stroke-width="2.4" />
<line x1="389.9" y1="845.2" x2="414.1" y2="845.2" stroke="#1d8a3c" stroke-width="2.4" />
<rect x="398" y="840.4" width="8" height="8" fill="#fff" stroke="#1d8a3c" stroke-width="2.4" />
<line x1="445" y1="819.2" x2="445" y2="816" stroke="#2e9c40" stroke-width="2.4" />
<line x1="445" y1="826.2" x2="445" y2="829" stroke="#2e9c40" stroke-width="2.4" />
<line x1="442.2" y1="816" x2="447.8" y2="816" stroke="#2e9c40" stroke-width="2.4" />
<line x1="442.2" y1="829" x2="447.8" y2="829" stroke="#2e9c40" stroke-width="2.4" />
<rect x="431.7" y="819.4" width="26.6" height="6.6" fill="#fff" stroke="#2e9c40" stroke-width="2.4" />
<line x1="432.9" y1="822.6" x2="457.1" y2="822.6" stroke="#2e9c40" stroke-width="2.4" />
<rect x="441" y="818.4" width="8" height="8" fill="#fff" stroke="#2e9c40" stroke-width="2.4" />
<line x1="488.1" y1="758.9" x2="488.1" y2="754.7" stroke="#3da83a" stroke-width="2.4" />
<line x1="488.1" y1="766.6" x2="488.1" y2="770.1" stroke="#3da83a" stroke-width="2.4" />
<line x1="485.4" y1="754.7" x2="490.9" y2="754.7" stroke="#3da83a" stroke-width="2.4" />
<line x1="485.4" y1="770.1" x2="490.9" y2="770.1" stroke="#3da83a" stroke-width="2.4" />
<rect x="474.8" y="759.1" width="26.6" height="7.3" fill="#fff" stroke="#3da83a" stroke-width="2.4" />
<line x1="476" y1="762.8" x2="500.2" y2="762.8" stroke="#3da83a" stroke-width="2.4" />
<rect x="484.1" y="758.8" width="8" height="8" fill="#fff" stroke="#3da83a" stroke-width="2.4" />
<line x1="531.2" y1="714.1" x2="531.2" y2="707.3" stroke="#5bb83a" stroke-width="2.4" />
<line x1="531.2" y1="723.4" x2="531.2" y2="725.3" stroke="#5bb83a" stroke-width="2.4" />
<line x1="528.5" y1="707.3" x2="534" y2="707.3" stroke="#5bb83a" stroke-width="2.4" />
<line x1="528.5" y1="725.3" x2="534" y2="725.3" stroke="#5bb83a" stroke-width="2.4" />
<rect x="517.9" y="714.3" width="26.6" height="8.9" fill="#fff" stroke="#5bb83a" stroke-width="2.4" />
<line x1="519.1" y1="718.9" x2="543.3" y2="718.9" stroke="#5bb83a" stroke-width="2.4" />
<rect x="527.2" y="714.5" width="8" height="8" fill="#fff" stroke="#5bb83a" stroke-width="2.4" />
<rect x="559.8" y="654.4" width="29" height="5" fill="#7dbf3a" stroke="none" stroke-width="0" />
<rect x="569.3" y="651.1" width="10" height="10" fill="#7dbf3a" stroke="none" stroke-width="0" />
<rect x="602.7" y="583.1" width="29" height="5.2" fill="#8dc63f" stroke="none" stroke-width="0" />
<rect x="612.2" y="579.6" width="10" height="10" fill="#8dc63f" stroke="none" stroke-width="0" />
<line x1="617.2" y1="580" x2="617.2" y2="576.7" stroke="#8dc63f" stroke-width="2" />
<line x1="614.4" y1="576.7" x2="620" y2="576.7" stroke="#8dc63f" stroke-width="2" />
<rect x="108.9" y="550.7" width="257.9" height="362.5" fill="none" stroke="#000" stroke-width="2.6"/>
<line x1="108.9" y1="913.2" x2="114.9" y2="913.2" stroke="#000" stroke-width="1.8" />
<line x1="108.9" y1="861.4" x2="114.9" y2="861.4" stroke="#000" stroke-width="1.8" />
<line x1="108.9" y1="809.6" x2="114.9" y2="809.6" stroke="#000" stroke-width="1.8" />
<line x1="108.9" y1="757.8" x2="114.9" y2="757.8" stroke="#000" stroke-width="1.8" />
<line x1="108.9" y1="706.1" x2="114.9" y2="706.1" stroke="#000" stroke-width="1.8" />
<line x1="108.9" y1="654.3" x2="114.9" y2="654.3" stroke="#000" stroke-width="1.8" />
<line x1="108.9" y1="602.5" x2="114.9" y2="602.5" stroke="#000" stroke-width="1.8" />
<line x1="108.9" y1="550.7" x2="114.9" y2="550.7" stroke="#000" stroke-width="1.8" />
<line x1="108.9" y1="897.6" x2="111.9" y2="897.6" stroke="#000" stroke-width="1.5" />
<line x1="108.9" y1="888.5" x2="111.9" y2="888.5" stroke="#000" stroke-width="1.5" />
<line x1="108.9" y1="882" x2="111.9" y2="882" stroke="#000" stroke-width="1.5" />
<line x1="108.9" y1="877" x2="111.9" y2="877" stroke="#000" stroke-width="1.5" />
<line x1="108.9" y1="872.9" x2="111.9" y2="872.9" stroke="#000" stroke-width="1.5" />
<line x1="108.9" y1="869.4" x2="111.9" y2="869.4" stroke="#000" stroke-width="1.5" />
<line x1="108.9" y1="866.4" x2="111.9" y2="866.4" stroke="#000" stroke-width="1.5" />
<line x1="108.9" y1="863.8" x2="111.9" y2="863.8" stroke="#000" stroke-width="1.5" />
<line x1="108.9" y1="845.8" x2="111.9" y2="845.8" stroke="#000" stroke-width="1.5" />
<line x1="108.9" y1="836.7" x2="111.9" y2="836.7" stroke="#000" stroke-width="1.5" />
<line x1="108.9" y1="830.2" x2="111.9" y2="830.2" stroke="#000" stroke-width="1.5" />
<line x1="108.9" y1="825.2" x2="111.9" y2="825.2" stroke="#000" stroke-width="1.5" />
<line x1="108.9" y1="821.1" x2="111.9" y2="821.1" stroke="#000" stroke-width="1.5" />
<line x1="108.9" y1="817.7" x2="111.9" y2="817.7" stroke="#000" stroke-width="1.5" />
<line x1="108.9" y1="814.6" x2="111.9" y2="814.6" stroke="#000" stroke-width="1.5" />
<line x1="108.9" y1="812" x2="111.9" y2="812" stroke="#000" stroke-width="1.5" />
<line x1="108.9" y1="794" x2="111.9" y2="794" stroke="#000" stroke-width="1.5" />
<line x1="108.9" y1="784.9" x2="111.9" y2="784.9" stroke="#000" stroke-width="1.5" />
<line x1="108.9" y1="778.5" x2="111.9" y2="778.5" stroke="#000" stroke-width="1.5" />
<line x1="108.9" y1="773.4" x2="111.9" y2="773.4" stroke="#000" stroke-width="1.5" />
<line x1="108.9" y1="769.3" x2="111.9" y2="769.3" stroke="#000" stroke-width="1.5" />
<line x1="108.9" y1="765.9" x2="111.9" y2="765.9" stroke="#000" stroke-width="1.5" />
<line x1="108.9" y1="762.9" x2="111.9" y2="762.9" stroke="#000" stroke-width="1.5" />
<line x1="108.9" y1="760.2" x2="111.9" y2="760.2" stroke="#000" stroke-width="1.5" />
<line x1="108.9" y1="742.3" x2="111.9" y2="742.3" stroke="#000" stroke-width="1.5" />
<line x1="108.9" y1="733.1" x2="111.9" y2="733.1" stroke="#000" stroke-width="1.5" />
<line x1="108.9" y1="726.7" x2="111.9" y2="726.7" stroke="#000" stroke-width="1.5" />
<line x1="108.9" y1="721.6" x2="111.9" y2="721.6" stroke="#000" stroke-width="1.5" />
<line x1="108.9" y1="717.5" x2="111.9" y2="717.5" stroke="#000" stroke-width="1.5" />
<line x1="108.9" y1="714.1" x2="111.9" y2="714.1" stroke="#000" stroke-width="1.5" />
<line x1="108.9" y1="711.1" x2="111.9" y2="711.1" stroke="#000" stroke-width="1.5" />
<line x1="108.9" y1="708.4" x2="111.9" y2="708.4" stroke="#000" stroke-width="1.5" />
<line x1="108.9" y1="690.5" x2="111.9" y2="690.5" stroke="#000" stroke-width="1.5" />
<line x1="108.9" y1="681.3" x2="111.9" y2="681.3" stroke="#000" stroke-width="1.5" />
<line x1="108.9" y1="674.9" x2="111.9" y2="674.9" stroke="#000" stroke-width="1.5" />
<line x1="108.9" y1="669.9" x2="111.9" y2="669.9" stroke="#000" stroke-width="1.5" />
<line x1="108.9" y1="665.8" x2="111.9" y2="665.8" stroke="#000" stroke-width="1.5" />
<line x1="108.9" y1="662.3" x2="111.9" y2="662.3" stroke="#000" stroke-width="1.5" />
<line x1="108.9" y1="659.3" x2="111.9" y2="659.3" stroke="#000" stroke-width="1.5" />
<line x1="108.9" y1="656.6" x2="111.9" y2="656.6" stroke="#000" stroke-width="1.5" />
<line x1="108.9" y1="638.7" x2="111.9" y2="638.7" stroke="#000" stroke-width="1.5" />
<line x1="108.9" y1="629.6" x2="111.9" y2="629.6" stroke="#000" stroke-width="1.5" />
<line x1="108.9" y1="623.1" x2="111.9" y2="623.1" stroke="#000" stroke-width="1.5" />
<line x1="108.9" y1="618.1" x2="111.9" y2="618.1" stroke="#000" stroke-width="1.5" />
<line x1="108.9" y1="614" x2="111.9" y2="614" stroke="#000" stroke-width="1.5" />
<line x1="108.9" y1="610.5" x2="111.9" y2="610.5" stroke="#000" stroke-width="1.5" />
<line x1="108.9" y1="607.5" x2="111.9" y2="607.5" stroke="#000" stroke-width="1.5" />
<line x1="108.9" y1="604.9" x2="111.9" y2="604.9" stroke="#000" stroke-width="1.5" />
<line x1="108.9" y1="586.9" x2="111.9" y2="586.9" stroke="#000" stroke-width="1.5" />
<line x1="108.9" y1="577.8" x2="111.9" y2="577.8" stroke="#000" stroke-width="1.5" />
<line x1="108.9" y1="571.3" x2="111.9" y2="571.3" stroke="#000" stroke-width="1.5" />
<line x1="108.9" y1="566.3" x2="111.9" y2="566.3" stroke="#000" stroke-width="1.5" />
<line x1="108.9" y1="562.2" x2="111.9" y2="562.2" stroke="#000" stroke-width="1.5" />
<line x1="108.9" y1="558.7" x2="111.9" y2="558.7" stroke="#000" stroke-width="1.5" />
<line x1="108.9" y1="555.7" x2="111.9" y2="555.7" stroke="#000" stroke-width="1.5" />
<line x1="108.9" y1="553.1" x2="111.9" y2="553.1" stroke="#000" stroke-width="1.5" />
<rect x="380.6" y="550.7" width="257.8" height="362.5" fill="none" stroke="#000" stroke-width="2.6"/>
<line x1="380.6" y1="913.2" x2="386.6" y2="913.2" stroke="#000" stroke-width="1.8" />
<line x1="380.6" y1="861.4" x2="386.6" y2="861.4" stroke="#000" stroke-width="1.8" />
<line x1="380.6" y1="809.6" x2="386.6" y2="809.6" stroke="#000" stroke-width="1.8" />
<line x1="380.6" y1="757.8" x2="386.6" y2="757.8" stroke="#000" stroke-width="1.8" />
<line x1="380.6" y1="706.1" x2="386.6" y2="706.1" stroke="#000" stroke-width="1.8" />
<line x1="380.6" y1="654.3" x2="386.6" y2="654.3" stroke="#000" stroke-width="1.8" />
<line x1="380.6" y1="602.5" x2="386.6" y2="602.5" stroke="#000" stroke-width="1.8" />
<line x1="380.6" y1="550.7" x2="386.6" y2="550.7" stroke="#000" stroke-width="1.8" />
<line x1="380.6" y1="897.6" x2="383.6" y2="897.6" stroke="#000" stroke-width="1.5" />
<line x1="380.6" y1="888.5" x2="383.6" y2="888.5" stroke="#000" stroke-width="1.5" />
<line x1="380.6" y1="882" x2="383.6" y2="882" stroke="#000" stroke-width="1.5" />
<line x1="380.6" y1="877" x2="383.6" y2="877" stroke="#000" stroke-width="1.5" />
<line x1="380.6" y1="872.9" x2="383.6" y2="872.9" stroke="#000" stroke-width="1.5" />
<line x1="380.6" y1="869.4" x2="383.6" y2="869.4" stroke="#000" stroke-width="1.5" />
<line x1="380.6" y1="866.4" x2="383.6" y2="866.4" stroke="#000" stroke-width="1.5" />
<line x1="380.6" y1="863.8" x2="383.6" y2="863.8" stroke="#000" stroke-width="1.5" />
<line x1="380.6" y1="845.8" x2="383.6" y2="845.8" stroke="#000" stroke-width="1.5" />
<line x1="380.6" y1="836.7" x2="383.6" y2="836.7" stroke="#000" stroke-width="1.5" />
<line x1="380.6" y1="830.2" x2="383.6" y2="830.2" stroke="#000" stroke-width="1.5" />
<line x1="380.6" y1="825.2" x2="383.6" y2="825.2" stroke="#000" stroke-width="1.5" />
<line x1="380.6" y1="821.1" x2="383.6" y2="821.1" stroke="#000" stroke-width="1.5" />
<line x1="380.6" y1="817.7" x2="383.6" y2="817.7" stroke="#000" stroke-width="1.5" />
<line x1="380.6" y1="814.6" x2="383.6" y2="814.6" stroke="#000" stroke-width="1.5" />
<line x1="380.6" y1="812" x2="383.6" y2="812" stroke="#000" stroke-width="1.5" />
<line x1="380.6" y1="794" x2="383.6" y2="794" stroke="#000" stroke-width="1.5" />
<line x1="380.6" y1="784.9" x2="383.6" y2="784.9" stroke="#000" stroke-width="1.5" />
<line x1="380.6" y1="778.5" x2="383.6" y2="778.5" stroke="#000" stroke-width="1.5" />
<line x1="380.6" y1="773.4" x2="383.6" y2="773.4" stroke="#000" stroke-width="1.5" />
<line x1="380.6" y1="769.3" x2="383.6" y2="769.3" stroke="#000" stroke-width="1.5" />
<line x1="380.6" y1="765.9" x2="383.6" y2="765.9" stroke="#000" stroke-width="1.5" />
<line x1="380.6" y1="762.9" x2="383.6" y2="762.9" stroke="#000" stroke-width="1.5" />
<line x1="380.6" y1="760.2" x2="383.6" y2="760.2" stroke="#000" stroke-width="1.5" />
<line x1="380.6" y1="742.3" x2="383.6" y2="742.3" stroke="#000" stroke-width="1.5" />
<line x1="380.6" y1="733.1" x2="383.6" y2="733.1" stroke="#000" stroke-width="1.5" />
<line x1="380.6" y1="726.7" x2="383.6" y2="726.7" stroke="#000" stroke-width="1.5" />
<line x1="380.6" y1="721.6" x2="383.6" y2="721.6" stroke="#000" stroke-width="1.5" />
<line x1="380.6" y1="717.5" x2="383.6" y2="717.5" stroke="#000" stroke-width="1.5" />
<line x1="380.6" y1="714.1" x2="383.6" y2="714.1" stroke="#000" stroke-width="1.5" />
<line x1="380.6" y1="711.1" x2="383.6" y2="711.1" stroke="#000" stroke-width="1.5" />
<line x1="380.6" y1="708.4" x2="383.6" y2="708.4" stroke="#000" stroke-width="1.5" />
<line x1="380.6" y1="690.5" x2="383.6" y2="690.5" stroke="#000" stroke-width="1.5" />
<line x1="380.6" y1="681.3" x2="383.6" y2="681.3" stroke="#000" stroke-width="1.5" />
<line x1="380.6" y1="674.9" x2="383.6" y2="674.9" stroke="#000" stroke-width="1.5" />
<line x1="380.6" y1="669.9" x2="383.6" y2="669.9" stroke="#000" stroke-width="1.5" />
<line x1="380.6" y1="665.8" x2="383.6" y2="665.8" stroke="#000" stroke-width="1.5" />
<line x1="380.6" y1="662.3" x2="383.6" y2="662.3" stroke="#000" stroke-width="1.5" />
<line x1="380.6" y1="659.3" x2="383.6" y2="659.3" stroke="#000" stroke-width="1.5" />
<line x1="380.6" y1="656.6" x2="383.6" y2="656.6" stroke="#000" stroke-width="1.5" />
<line x1="380.6" y1="638.7" x2="383.6" y2="638.7" stroke="#000" stroke-width="1.5" />
<line x1="380.6" y1="629.6" x2="383.6" y2="629.6" stroke="#000" stroke-width="1.5" />
<line x1="380.6" y1="623.1" x2="383.6" y2="623.1" stroke="#000" stroke-width="1.5" />
<line x1="380.6" y1="618.1" x2="383.6" y2="618.1" stroke="#000" stroke-width="1.5" />
<line x1="380.6" y1="614" x2="383.6" y2="614" stroke="#000" stroke-width="1.5" />
<line x1="380.6" y1="610.5" x2="383.6" y2="610.5" stroke="#000" stroke-width="1.5" />
<line x1="380.6" y1="607.5" x2="383.6" y2="607.5" stroke="#000" stroke-width="1.5" />
<line x1="380.6" y1="604.9" x2="383.6" y2="604.9" stroke="#000" stroke-width="1.5" />
<line x1="380.6" y1="586.9" x2="383.6" y2="586.9" stroke="#000" stroke-width="1.5" />
<line x1="380.6" y1="577.8" x2="383.6" y2="577.8" stroke="#000" stroke-width="1.5" />
<line x1="380.6" y1="571.3" x2="383.6" y2="571.3" stroke="#000" stroke-width="1.5" />
<line x1="380.6" y1="566.3" x2="383.6" y2="566.3" stroke="#000" stroke-width="1.5" />
<line x1="380.6" y1="562.2" x2="383.6" y2="562.2" stroke="#000" stroke-width="1.5" />
<line x1="380.6" y1="558.7" x2="383.6" y2="558.7" stroke="#000" stroke-width="1.5" />
<line x1="380.6" y1="555.7" x2="383.6" y2="555.7" stroke="#000" stroke-width="1.5" />
<line x1="380.6" y1="553.1" x2="383.6" y2="553.1" stroke="#000" stroke-width="1.5" />
<line x1="129.9" y1="913.2" x2="129.9" y2="907.7" stroke="#000" stroke-width="1.8" />
<line x1="173" y1="913.2" x2="173" y2="907.7" stroke="#000" stroke-width="1.8" />
<line x1="215.8" y1="913.2" x2="215.8" y2="907.7" stroke="#000" stroke-width="1.8" />
<line x1="259.5" y1="913.2" x2="259.5" y2="907.7" stroke="#000" stroke-width="1.8" />
<line x1="302.1" y1="913.2" x2="302.1" y2="907.7" stroke="#000" stroke-width="1.8" />
<line x1="345.2" y1="913.2" x2="345.2" y2="907.7" stroke="#000" stroke-width="1.8" />
<line x1="402" y1="913.2" x2="402" y2="907.7" stroke="#000" stroke-width="1.8" />
<line x1="445" y1="913.2" x2="445" y2="907.7" stroke="#000" stroke-width="1.8" />
<line x1="488.1" y1="913.2" x2="488.1" y2="907.7" stroke="#000" stroke-width="1.8" />
<line x1="531.2" y1="913.2" x2="531.2" y2="907.7" stroke="#000" stroke-width="1.8" />
<line x1="574.3" y1="913.2" x2="574.3" y2="907.7" stroke="#000" stroke-width="1.8" />
<line x1="617.2" y1="913.2" x2="617.2" y2="907.7" stroke="#000" stroke-width="1.8" />
<text x="102.5" y="921.8" font-size="23" text-anchor="end" >10<tspan font-size="15.5" dy="-9.6">−13</tspan></text>
<text x="102.5" y="870" font-size="23" text-anchor="end" >10<tspan font-size="15.5" dy="-9.6">−12</tspan></text>
<text x="102.5" y="818.2" font-size="23" text-anchor="end" >10<tspan font-size="15.5" dy="-9.6">−11</tspan></text>
<text x="102.5" y="766.4" font-size="23" text-anchor="end" >10<tspan font-size="15.5" dy="-9.6">−10</tspan></text>
<text x="102.5" y="714.7" font-size="23" text-anchor="end" >10<tspan font-size="15.5" dy="-9.6">−9</tspan></text>
<text x="102.5" y="662.9" font-size="23" text-anchor="end" >10<tspan font-size="15.5" dy="-9.6">−8</tspan></text>
<text x="102.5" y="611.1" font-size="23" text-anchor="end" >10<tspan font-size="15.5" dy="-9.6">−7</tspan></text>
<text x="102.5" y="559.3" font-size="23" text-anchor="end" >10<tspan font-size="15.5" dy="-9.6">−6</tspan></text>
<text x="129.9" y="940.8" font-size="21.5" text-anchor="middle" >100n</text>
<text x="173" y="940.8" font-size="21.5" text-anchor="middle" >1µ</text>
<text x="215.8" y="940.8" font-size="21.5" text-anchor="middle" >10µ</text>
<text x="259.5" y="940.8" font-size="21.5" text-anchor="middle" >100µ</text>
<text x="302.1" y="940.8" font-size="21.5" text-anchor="middle" >1m</text>
<text x="345.2" y="940.8" font-size="21.5" text-anchor="middle" >5m</text>
<text x="402" y="940.8" font-size="21.5" text-anchor="middle" >500n</text>
<text x="445" y="940.8" font-size="21.5" text-anchor="middle" >1µ</text>
<text x="488.1" y="940.8" font-size="21.5" text-anchor="middle" >10µ</text>
<text x="531.2" y="940.8" font-size="21.5" text-anchor="middle" >100µ</text>
<text x="574.3" y="940.8" font-size="21.5" text-anchor="middle" >1m</text>
<text x="617.2" y="940.8" font-size="21.5" text-anchor="middle" >0.1</text>
<text x="288.5" y="977" font-size="28" text-anchor="start" >Pulse Width (s)</text>
<text transform="translate(40,724.8) rotate(-90)" font-size="31" text-anchor="middle"><tspan font-style="italic">I</tspan><tspan font-size="17.5" dy="10">DS</tspan><tspan dy="-10">​</tspan> (A)</text>
<text x="22" y="546.8" font-size="29.5" text-anchor="start" >d</text>
<text x="130.5" y="852" font-size="23" text-anchor="start" ><tspan font-style="italic">V</tspan><tspan font-size="14" dy="7.5">DS</tspan><tspan dy="-7.5">​</tspan> = 1 V</text>
<text x="130.5" y="880" font-size="23" text-anchor="start" ><tspan font-style="italic">V</tspan><tspan font-size="14" dy="7.5">GGwrite</tspan><tspan dy="-7.5">​</tspan> = -10 V</text>
<text x="398" y="582.4" font-size="23" text-anchor="start" ><tspan font-style="italic">V</tspan><tspan font-size="14" dy="7.5">DS</tspan><tspan dy="-7.5">​</tspan> = 1 V</text>
<text x="398" y="611.6" font-size="23" text-anchor="start" ><tspan font-style="italic">V</tspan><tspan font-size="14" dy="7.5">GGerase</tspan><tspan dy="-7.5">​</tspan> = 10 V</text>
<rect x="870.9" y="556.4" width="29" height="3.4" fill="#000" stroke="none" stroke-width="0" />
<rect x="881.4" y="554.2" width="8" height="8" fill="#fff" stroke="#000" stroke-width="2" />
<rect x="913.8" y="556.4" width="29" height="3.4" fill="#000" stroke="none" stroke-width="0" />
<rect x="924.3" y="554.2" width="8" height="8" fill="#fff" stroke="#000" stroke-width="2" />
<rect x="957.5" y="556.4" width="29" height="3.4" fill="#000" stroke="none" stroke-width="0" />
<rect x="968" y="554.2" width="8" height="8" fill="#fff" stroke="#000" stroke-width="2" />
<rect x="1000.5" y="556.4" width="29" height="3.4" fill="#000" stroke="none" stroke-width="0" />
<rect x="1011" y="554.2" width="8" height="8" fill="#fff" stroke="#000" stroke-width="2" />
<rect x="828.1" y="556.4" width="29" height="3.4" fill="#000" stroke="none" stroke-width="0" />
<rect x="838.6" y="552.5" width="8" height="8" fill="#fff" stroke="#000" stroke-width="2" />
<rect x="784.7" y="556.4" width="29" height="3.4" fill="#000" stroke="none" stroke-width="0" />
<rect x="795.2" y="554.2" width="8" height="8" fill="#444" stroke="#000" stroke-width="2" />
<rect x="784.7" y="557.5" width="29" height="3.4" fill="#8b1a1a" stroke="none" stroke-width="0" />
<rect x="795.2" y="555.2" width="8" height="8" fill="#6a1010" stroke="#8b1a1a" stroke-width="2" />
<rect x="828.1" y="560.5" width="29" height="3.4" fill="#b22030" stroke="none" stroke-width="0" />
<rect x="838.9" y="559.2" width="7.5" height="7.5" fill="#fff" stroke="#b22030" stroke-width="2" />
<line x1="885.4" y1="616" x2="885.4" y2="614" stroke="#b5302a" stroke-width="2.4" />
<line x1="885.4" y1="624" x2="885.4" y2="628.7" stroke="#b5302a" stroke-width="2.4" />
<line x1="882.6" y1="614" x2="888.1" y2="614" stroke="#b5302a" stroke-width="2.4" />
<line x1="882.6" y1="628.7" x2="888.1" y2="628.7" stroke="#b5302a" stroke-width="2.4" />
<rect x="872.1" y="616.2" width="26.6" height="7.6" fill="#fff" stroke="#b5302a" stroke-width="2.4" />
<line x1="873.3" y1="619.8" x2="897.5" y2="619.8" stroke="#b5302a" stroke-width="2.4" />
<rect x="881.6" y="615.5" width="7.5" height="7.5" fill="#fff" stroke="#b5302a" stroke-width="2.4" />
<line x1="928.3" y1="676.6" x2="928.3" y2="673.9" stroke="#c8442a" stroke-width="2.4" />
<line x1="928.3" y1="684.8" x2="928.3" y2="699.1" stroke="#c8442a" stroke-width="2.4" />
<line x1="925.5" y1="673.9" x2="931" y2="673.9" stroke="#c8442a" stroke-width="2.4" />
<line x1="925.5" y1="699.1" x2="931" y2="699.1" stroke="#c8442a" stroke-width="2.4" />
<rect x="915" y="676.8" width="26.6" height="7.8" fill="#fff" stroke="#c8442a" stroke-width="2.4" />
<line x1="916.2" y1="679.2" x2="940.4" y2="679.2" stroke="#c8442a" stroke-width="2.4" />
<rect x="924.5" y="676.8" width="7.5" height="7.5" fill="#fff" stroke="#c8442a" stroke-width="2.4" />
<line x1="972" y1="762.8" x2="972" y2="756.1" stroke="#e0501e" stroke-width="2.4" />
<line x1="972" y1="791.3" x2="972" y2="824.9" stroke="#e0501e" stroke-width="2.4" />
<line x1="969.2" y1="756.1" x2="974.8" y2="756.1" stroke="#e0501e" stroke-width="2.4" />
<line x1="969.2" y1="824.9" x2="974.8" y2="824.9" stroke="#e0501e" stroke-width="2.4" />
<rect x="958.7" y="763" width="26.6" height="28.1" fill="#fff" stroke="#e0501e" stroke-width="2.4" />
<line x1="959.9" y1="774.8" x2="984.1" y2="774.8" stroke="#e0501e" stroke-width="2.4" />
<rect x="967.5" y="770.7" width="9" height="9" fill="#fff" stroke="#e0501e" stroke-width="2.4" />
<line x1="1015" y1="861.9" x2="1015" y2="855.6" stroke="#ec5a24" stroke-width="2.4" />
<line x1="1015" y1="878.8" x2="1015" y2="891.5" stroke="#ec5a24" stroke-width="2.4" />
<line x1="1012.2" y1="855.6" x2="1017.8" y2="855.6" stroke="#ec5a24" stroke-width="2.4" />
<line x1="1012.2" y1="891.5" x2="1017.8" y2="891.5" stroke="#ec5a24" stroke-width="2.4" />
<rect x="1001.7" y="862.1" width="26.6" height="16.5" fill="#fff" stroke="#ec5a24" stroke-width="2.4" />
<line x1="1002.9" y1="870.6" x2="1027.1" y2="870.6" stroke="#ec5a24" stroke-width="2.4" />
<rect x="1010.8" y="865.8" width="8.5" height="8.5" fill="#fff" stroke="#ec5a24" stroke-width="2.4" />
<rect x="780.8" y="550.4" width="81.2" height="22.7" fill="none" stroke="#9a9a9a" stroke-width="2" stroke-dasharray="11 8"/>
<line x1="847.5" y1="579.4" x2="847.5" y2="705.8" stroke="#000" stroke-width="2.0" />
<polyline points="842.3,690.8 847.5,705.8 852.7,690.8" fill="none" stroke="#000" stroke-width="1.8" stroke-linejoin="round" stroke-linecap="round" />
<rect x="794.7" y="718.7" width="107" height="100.2" fill="#fff" stroke="#000" stroke-width="2.2" />
<line x1="794.7" y1="743.4" x2="798.5" y2="743.4" stroke="#000" stroke-width="1.6" />
<line x1="794.7" y1="768.5" x2="802.5" y2="768.5" stroke="#000" stroke-width="1.8" />
<line x1="794.7" y1="793.5" x2="798.5" y2="793.5" stroke="#000" stroke-width="1.6" />
<line x1="830.6" y1="818.9" x2="830.6" y2="811.5" stroke="#000" stroke-width="1.8" />
<line x1="865.8" y1="818.9" x2="865.8" y2="811.5" stroke="#000" stroke-width="1.8" />
<rect x="818.5" y="741.1" width="24.5" height="4.6" fill="#000" stroke="none" stroke-width="0" />
<rect x="827" y="739.5" width="7.5" height="7.5" fill="#222" stroke="#000" stroke-width="2" />
<rect x="853.4" y="741.1" width="24.5" height="4.6" fill="#000" stroke="none" stroke-width="0" />
<rect x="861.9" y="739.5" width="7.5" height="7.5" fill="#222" stroke="#000" stroke-width="2" />
<rect x="818.5" y="753.4" width="24.5" height="4.6" fill="#7a1520" stroke="none" stroke-width="0" />
<rect x="826.8" y="751.4" width="8" height="8" fill="#8a2530" stroke="#7a1520" stroke-width="2" />
<rect x="853.4" y="786.8" width="24.5" height="5" fill="#9b1c25" stroke="none" stroke-width="0" />
<rect x="861.6" y="785.3" width="8" height="8" fill="#a52a30" stroke="#9b1c25" stroke-width="2" />
<text x="907.5" y="726.4" font-size="22" text-anchor="start" >80n</text>
<text x="907.5" y="825.7" font-size="22" text-anchor="start" >60n</text>
<rect x="1056.7" y="861.1" width="29" height="8.2" fill="#e6e6e6" stroke="#a6a6a6" stroke-width="2" />
<line x1="1058.2" y1="865.1" x2="1084.2" y2="865.1" stroke="#000" stroke-width="2" />
<line x1="1071.2" y1="861" x2="1071.2" y2="857.2" stroke="#000" stroke-width="2" />
<line x1="1071.2" y1="869.5" x2="1071.2" y2="873.8" stroke="#000" stroke-width="2" />
<line x1="1068.2" y1="857.2" x2="1074.2" y2="857.2" stroke="#000" stroke-width="2" />
<line x1="1068.2" y1="873.8" x2="1074.2" y2="873.8" stroke="#000" stroke-width="2" />
<rect x="1067.6" y="861.3" width="7.2" height="7.6" fill="#fff" stroke="#000" stroke-width="2" />
<rect x="1099.8" y="861.1" width="29" height="8.2" fill="#e6e6e6" stroke="#a6a6a6" stroke-width="2" />
<line x1="1101.3" y1="865.1" x2="1127.3" y2="865.1" stroke="#000" stroke-width="2" />
<line x1="1114.3" y1="861" x2="1114.3" y2="857.2" stroke="#000" stroke-width="2" />
<line x1="1114.3" y1="869.5" x2="1114.3" y2="873.8" stroke="#000" stroke-width="2" />
<line x1="1111.3" y1="857.2" x2="1117.3" y2="857.2" stroke="#000" stroke-width="2" />
<line x1="1111.3" y1="873.8" x2="1117.3" y2="873.8" stroke="#000" stroke-width="2" />
<rect x="1110.7" y="861.3" width="7.2" height="7.6" fill="#fff" stroke="#000" stroke-width="2" />
<rect x="1143.5" y="861.1" width="29" height="8.2" fill="#e6e6e6" stroke="#a6a6a6" stroke-width="2" />
<line x1="1145" y1="865.1" x2="1171" y2="865.1" stroke="#000" stroke-width="2" />
<line x1="1158" y1="861" x2="1158" y2="857.2" stroke="#000" stroke-width="2" />
<line x1="1158" y1="869.5" x2="1158" y2="873.8" stroke="#000" stroke-width="2" />
<line x1="1155" y1="857.2" x2="1161" y2="857.2" stroke="#000" stroke-width="2" />
<line x1="1155" y1="873.8" x2="1161" y2="873.8" stroke="#000" stroke-width="2" />
<rect x="1154.4" y="861.3" width="7.2" height="7.6" fill="#fff" stroke="#000" stroke-width="2" />
<rect x="1186.9" y="861.1" width="29" height="8.2" fill="#e6e6e6" stroke="#a6a6a6" stroke-width="2" />
<line x1="1188.4" y1="865.1" x2="1214.4" y2="865.1" stroke="#000" stroke-width="2" />
<line x1="1201.4" y1="861" x2="1201.4" y2="857.2" stroke="#000" stroke-width="2" />
<line x1="1201.4" y1="869.5" x2="1201.4" y2="873.8" stroke="#000" stroke-width="2" />
<line x1="1198.4" y1="857.2" x2="1204.4" y2="857.2" stroke="#000" stroke-width="2" />
<line x1="1198.4" y1="873.8" x2="1204.4" y2="873.8" stroke="#000" stroke-width="2" />
<rect x="1197.8" y="861.3" width="7.2" height="7.6" fill="#fff" stroke="#000" stroke-width="2" />
<rect x="1230.6" y="861.1" width="29" height="8.2" fill="#e6e6e6" stroke="#a6a6a6" stroke-width="2" />
<line x1="1232.1" y1="865.1" x2="1258.1" y2="865.1" stroke="#000" stroke-width="2" />
<line x1="1245.1" y1="861" x2="1245.1" y2="857.2" stroke="#000" stroke-width="2" />
<line x1="1245.1" y1="869.5" x2="1245.1" y2="873.8" stroke="#000" stroke-width="2" />
<line x1="1242.1" y1="857.2" x2="1248.1" y2="857.2" stroke="#000" stroke-width="2" />
<line x1="1242.1" y1="873.8" x2="1248.1" y2="873.8" stroke="#000" stroke-width="2" />
<rect x="1241.5" y="861.3" width="7.2" height="7.6" fill="#fff" stroke="#000" stroke-width="2" />
<rect x="1273.5" y="861.1" width="29" height="8.2" fill="#e6e6e6" stroke="#a6a6a6" stroke-width="2" />
<line x1="1275" y1="865.1" x2="1301" y2="865.1" stroke="#000" stroke-width="2" />
<line x1="1288" y1="861" x2="1288" y2="857.2" stroke="#000" stroke-width="2" />
<line x1="1288" y1="869.5" x2="1288" y2="873.8" stroke="#000" stroke-width="2" />
<line x1="1285" y1="857.2" x2="1291" y2="857.2" stroke="#000" stroke-width="2" />
<line x1="1285" y1="873.8" x2="1291" y2="873.8" stroke="#000" stroke-width="2" />
<rect x="1284.4" y="861.3" width="7.2" height="7.6" fill="#fff" stroke="#000" stroke-width="2" />
<rect x="1056.7" y="835.5" width="29" height="4.6" fill="#8b6520" stroke="none" stroke-width="0" />
<rect x="1066.2" y="833" width="10" height="10" fill="#8b6520" stroke="none" stroke-width="0" />
<rect x="1099.8" y="809.5" width="29" height="3.8" fill="#9a6e22" stroke="none" stroke-width="0" />
<rect x="1110.5" y="808.5" width="7.5" height="7.5" fill="#fff" stroke="#9a6e22" stroke-width="2" />
<line x1="1158" y1="686.3" x2="1158" y2="679.6" stroke="#b8861e" stroke-width="2.4" />
<line x1="1158" y1="695.3" x2="1158" y2="696.8" stroke="#b8861e" stroke-width="2.4" />
<line x1="1155.2" y1="679.6" x2="1160.8" y2="679.6" stroke="#b8861e" stroke-width="2.4" />
<line x1="1155.2" y1="696.8" x2="1160.8" y2="696.8" stroke="#b8861e" stroke-width="2.4" />
<rect x="1144.7" y="686.5" width="26.6" height="8.6" fill="#fff" stroke="#b8861e" stroke-width="2.4" />
<line x1="1145.9" y1="690.5" x2="1170.1" y2="690.5" stroke="#b8861e" stroke-width="2.4" />
<rect x="1154.2" y="686.5" width="7.5" height="7.5" fill="#fff" stroke="#b8861e" stroke-width="2.4" />
<line x1="1201.4" y1="646.7" x2="1201.4" y2="641" stroke="#d4961e" stroke-width="2.4" />
<line x1="1201.4" y1="655.7" x2="1201.4" y2="657.9" stroke="#d4961e" stroke-width="2.4" />
<line x1="1198.7" y1="641" x2="1204.2" y2="641" stroke="#d4961e" stroke-width="2.4" />
<line x1="1198.7" y1="657.9" x2="1204.2" y2="657.9" stroke="#d4961e" stroke-width="2.4" />
<rect x="1188.1" y="646.9" width="26.6" height="8.6" fill="#fff" stroke="#d4961e" stroke-width="2.4" />
<line x1="1189.3" y1="651" x2="1213.5" y2="651" stroke="#d4961e" stroke-width="2.4" />
<rect x="1197.7" y="647.2" width="7.5" height="7.5" fill="#fff" stroke="#d4961e" stroke-width="2.4" />
<rect x="1230.6" y="558" width="29" height="3.8" fill="#e8a020" stroke="none" stroke-width="0" />
<rect x="1241.1" y="556.5" width="8" height="8" fill="#f0c060" stroke="#e8a020" stroke-width="2" />
<rect x="1273.5" y="552.8" width="29" height="3.8" fill="#f5a623" stroke="none" stroke-width="0" />
<rect x="1284" y="550.5" width="8" height="8" fill="#f8c860" stroke="#f5a623" stroke-width="2" />
<rect x="777.6" y="549.4" width="259.2" height="363" fill="none" stroke="#000" stroke-width="2.6"/>
<line x1="777.6" y1="912.4" x2="783.6" y2="912.4" stroke="#000" stroke-width="1.8" />
<line x1="777.6" y1="839.7" x2="783.6" y2="839.7" stroke="#000" stroke-width="1.8" />
<line x1="777.6" y1="767" x2="783.6" y2="767" stroke="#000" stroke-width="1.8" />
<line x1="777.6" y1="694.2" x2="783.6" y2="694.2" stroke="#000" stroke-width="1.8" />
<line x1="777.6" y1="621.5" x2="783.6" y2="621.5" stroke="#000" stroke-width="1.8" />
<line x1="777.6" y1="548.8" x2="783.6" y2="548.8" stroke="#000" stroke-width="1.8" />
<line x1="777.6" y1="890.5" x2="780.6" y2="890.5" stroke="#000" stroke-width="1.5" />
<line x1="777.6" y1="877.7" x2="780.6" y2="877.7" stroke="#000" stroke-width="1.5" />
<line x1="777.6" y1="868.6" x2="780.6" y2="868.6" stroke="#000" stroke-width="1.5" />
<line x1="777.6" y1="861.6" x2="780.6" y2="861.6" stroke="#000" stroke-width="1.5" />
<line x1="777.6" y1="855.8" x2="780.6" y2="855.8" stroke="#000" stroke-width="1.5" />
<line x1="777.6" y1="850.9" x2="780.6" y2="850.9" stroke="#000" stroke-width="1.5" />
<line x1="777.6" y1="846.7" x2="780.6" y2="846.7" stroke="#000" stroke-width="1.5" />
<line x1="777.6" y1="843" x2="780.6" y2="843" stroke="#000" stroke-width="1.5" />
<line x1="777.6" y1="817.8" x2="780.6" y2="817.8" stroke="#000" stroke-width="1.5" />
<line x1="777.6" y1="805" x2="780.6" y2="805" stroke="#000" stroke-width="1.5" />
<line x1="777.6" y1="795.9" x2="780.6" y2="795.9" stroke="#000" stroke-width="1.5" />
<line x1="777.6" y1="788.9" x2="780.6" y2="788.9" stroke="#000" stroke-width="1.5" />
<line x1="777.6" y1="783.1" x2="780.6" y2="783.1" stroke="#000" stroke-width="1.5" />
<line x1="777.6" y1="778.2" x2="780.6" y2="778.2" stroke="#000" stroke-width="1.5" />
<line x1="777.6" y1="774" x2="780.6" y2="774" stroke="#000" stroke-width="1.5" />
<line x1="777.6" y1="770.3" x2="780.6" y2="770.3" stroke="#000" stroke-width="1.5" />
<line x1="777.6" y1="745.1" x2="780.6" y2="745.1" stroke="#000" stroke-width="1.5" />
<line x1="777.6" y1="732.3" x2="780.6" y2="732.3" stroke="#000" stroke-width="1.5" />
<line x1="777.6" y1="723.2" x2="780.6" y2="723.2" stroke="#000" stroke-width="1.5" />
<line x1="777.6" y1="716.1" x2="780.6" y2="716.1" stroke="#000" stroke-width="1.5" />
<line x1="777.6" y1="710.4" x2="780.6" y2="710.4" stroke="#000" stroke-width="1.5" />
<line x1="777.6" y1="705.5" x2="780.6" y2="705.5" stroke="#000" stroke-width="1.5" />
<line x1="777.6" y1="701.3" x2="780.6" y2="701.3" stroke="#000" stroke-width="1.5" />
<line x1="777.6" y1="697.6" x2="780.6" y2="697.6" stroke="#000" stroke-width="1.5" />
<line x1="777.6" y1="672.3" x2="780.6" y2="672.3" stroke="#000" stroke-width="1.5" />
<line x1="777.6" y1="659.5" x2="780.6" y2="659.5" stroke="#000" stroke-width="1.5" />
<line x1="777.6" y1="650.5" x2="780.6" y2="650.5" stroke="#000" stroke-width="1.5" />
<line x1="777.6" y1="643.4" x2="780.6" y2="643.4" stroke="#000" stroke-width="1.5" />
<line x1="777.6" y1="637.7" x2="780.6" y2="637.7" stroke="#000" stroke-width="1.5" />
<line x1="777.6" y1="632.8" x2="780.6" y2="632.8" stroke="#000" stroke-width="1.5" />
<line x1="777.6" y1="628.6" x2="780.6" y2="628.6" stroke="#000" stroke-width="1.5" />
<line x1="777.6" y1="624.8" x2="780.6" y2="624.8" stroke="#000" stroke-width="1.5" />
<line x1="777.6" y1="599.6" x2="780.6" y2="599.6" stroke="#000" stroke-width="1.5" />
<line x1="777.6" y1="586.8" x2="780.6" y2="586.8" stroke="#000" stroke-width="1.5" />
<line x1="777.6" y1="577.7" x2="780.6" y2="577.7" stroke="#000" stroke-width="1.5" />
<line x1="777.6" y1="570.7" x2="780.6" y2="570.7" stroke="#000" stroke-width="1.5" />
<line x1="777.6" y1="564.9" x2="780.6" y2="564.9" stroke="#000" stroke-width="1.5" />
<line x1="777.6" y1="560.1" x2="780.6" y2="560.1" stroke="#000" stroke-width="1.5" />
<line x1="777.6" y1="555.8" x2="780.6" y2="555.8" stroke="#000" stroke-width="1.5" />
<line x1="777.6" y1="552.1" x2="780.6" y2="552.1" stroke="#000" stroke-width="1.5" />
<rect x="1050" y="547.9" width="259.5" height="364.3" fill="none" stroke="#000" stroke-width="2.6"/>
<line x1="1050" y1="912.4" x2="1056" y2="912.4" stroke="#000" stroke-width="1.8" />
<line x1="1050" y1="839.7" x2="1056" y2="839.7" stroke="#000" stroke-width="1.8" />
<line x1="1050" y1="767" x2="1056" y2="767" stroke="#000" stroke-width="1.8" />
<line x1="1050" y1="694.2" x2="1056" y2="694.2" stroke="#000" stroke-width="1.8" />
<line x1="1050" y1="621.5" x2="1056" y2="621.5" stroke="#000" stroke-width="1.8" />
<line x1="1050" y1="548.8" x2="1056" y2="548.8" stroke="#000" stroke-width="1.8" />
<line x1="1050" y1="890.5" x2="1053" y2="890.5" stroke="#000" stroke-width="1.5" />
<line x1="1050" y1="877.7" x2="1053" y2="877.7" stroke="#000" stroke-width="1.5" />
<line x1="1050" y1="868.6" x2="1053" y2="868.6" stroke="#000" stroke-width="1.5" />
<line x1="1050" y1="861.6" x2="1053" y2="861.6" stroke="#000" stroke-width="1.5" />
<line x1="1050" y1="855.8" x2="1053" y2="855.8" stroke="#000" stroke-width="1.5" />
<line x1="1050" y1="850.9" x2="1053" y2="850.9" stroke="#000" stroke-width="1.5" />
<line x1="1050" y1="846.7" x2="1053" y2="846.7" stroke="#000" stroke-width="1.5" />
<line x1="1050" y1="843" x2="1053" y2="843" stroke="#000" stroke-width="1.5" />
<line x1="1050" y1="817.8" x2="1053" y2="817.8" stroke="#000" stroke-width="1.5" />
<line x1="1050" y1="805" x2="1053" y2="805" stroke="#000" stroke-width="1.5" />
<line x1="1050" y1="795.9" x2="1053" y2="795.9" stroke="#000" stroke-width="1.5" />
<line x1="1050" y1="788.9" x2="1053" y2="788.9" stroke="#000" stroke-width="1.5" />
<line x1="1050" y1="783.1" x2="1053" y2="783.1" stroke="#000" stroke-width="1.5" />
<line x1="1050" y1="778.2" x2="1053" y2="778.2" stroke="#000" stroke-width="1.5" />
<line x1="1050" y1="774" x2="1053" y2="774" stroke="#000" stroke-width="1.5" />
<line x1="1050" y1="770.3" x2="1053" y2="770.3" stroke="#000" stroke-width="1.5" />
<line x1="1050" y1="745.1" x2="1053" y2="745.1" stroke="#000" stroke-width="1.5" />
<line x1="1050" y1="732.3" x2="1053" y2="732.3" stroke="#000" stroke-width="1.5" />
<line x1="1050" y1="723.2" x2="1053" y2="723.2" stroke="#000" stroke-width="1.5" />
<line x1="1050" y1="716.1" x2="1053" y2="716.1" stroke="#000" stroke-width="1.5" />
<line x1="1050" y1="710.4" x2="1053" y2="710.4" stroke="#000" stroke-width="1.5" />
<line x1="1050" y1="705.5" x2="1053" y2="705.5" stroke="#000" stroke-width="1.5" />
<line x1="1050" y1="701.3" x2="1053" y2="701.3" stroke="#000" stroke-width="1.5" />
<line x1="1050" y1="697.6" x2="1053" y2="697.6" stroke="#000" stroke-width="1.5" />
<line x1="1050" y1="672.3" x2="1053" y2="672.3" stroke="#000" stroke-width="1.5" />
<line x1="1050" y1="659.5" x2="1053" y2="659.5" stroke="#000" stroke-width="1.5" />
<line x1="1050" y1="650.5" x2="1053" y2="650.5" stroke="#000" stroke-width="1.5" />
<line x1="1050" y1="643.4" x2="1053" y2="643.4" stroke="#000" stroke-width="1.5" />
<line x1="1050" y1="637.7" x2="1053" y2="637.7" stroke="#000" stroke-width="1.5" />
<line x1="1050" y1="632.8" x2="1053" y2="632.8" stroke="#000" stroke-width="1.5" />
<line x1="1050" y1="628.6" x2="1053" y2="628.6" stroke="#000" stroke-width="1.5" />
<line x1="1050" y1="624.8" x2="1053" y2="624.8" stroke="#000" stroke-width="1.5" />
<line x1="1050" y1="599.6" x2="1053" y2="599.6" stroke="#000" stroke-width="1.5" />
<line x1="1050" y1="586.8" x2="1053" y2="586.8" stroke="#000" stroke-width="1.5" />
<line x1="1050" y1="577.7" x2="1053" y2="577.7" stroke="#000" stroke-width="1.5" />
<line x1="1050" y1="570.7" x2="1053" y2="570.7" stroke="#000" stroke-width="1.5" />
<line x1="1050" y1="564.9" x2="1053" y2="564.9" stroke="#000" stroke-width="1.5" />
<line x1="1050" y1="560.1" x2="1053" y2="560.1" stroke="#000" stroke-width="1.5" />
<line x1="1050" y1="555.8" x2="1053" y2="555.8" stroke="#000" stroke-width="1.5" />
<line x1="1050" y1="552.1" x2="1053" y2="552.1" stroke="#000" stroke-width="1.5" />
<line x1="799.2" y1="912.4" x2="799.2" y2="906.4" stroke="#000" stroke-width="1.8" />
<line x1="842.6" y1="912.4" x2="842.6" y2="906.4" stroke="#000" stroke-width="1.8" />
<line x1="885.4" y1="912.4" x2="885.4" y2="906.4" stroke="#000" stroke-width="1.8" />
<line x1="928.3" y1="912.4" x2="928.3" y2="906.4" stroke="#000" stroke-width="1.8" />
<line x1="972" y1="912.4" x2="972" y2="906.4" stroke="#000" stroke-width="1.8" />
<line x1="1015" y1="912.4" x2="1015" y2="906.4" stroke="#000" stroke-width="1.8" />
<line x1="1071.2" y1="912.2" x2="1071.2" y2="906.2" stroke="#000" stroke-width="1.8" />
<line x1="1114.3" y1="912.2" x2="1114.3" y2="906.2" stroke="#000" stroke-width="1.8" />
<line x1="1158" y1="912.2" x2="1158" y2="906.2" stroke="#000" stroke-width="1.8" />
<line x1="1201.4" y1="912.2" x2="1201.4" y2="906.2" stroke="#000" stroke-width="1.8" />
<line x1="1245.1" y1="912.2" x2="1245.1" y2="906.2" stroke="#000" stroke-width="1.8" />
<line x1="1288" y1="912.2" x2="1288" y2="906.2" stroke="#000" stroke-width="1.8" />
<text x="771.2" y="921" font-size="23" text-anchor="end" >10<tspan font-size="15.5" dy="-9.6">−12</tspan></text>
<text x="771.2" y="848.3" font-size="23" text-anchor="end" >10<tspan font-size="15.5" dy="-9.6">−11</tspan></text>
<text x="771.2" y="775.6" font-size="23" text-anchor="end" >10<tspan font-size="15.5" dy="-9.6">−10</tspan></text>
<text x="771.2" y="702.8" font-size="23" text-anchor="end" >10<tspan font-size="15.5" dy="-9.6">−9</tspan></text>
<text x="771.2" y="630.1" font-size="23" text-anchor="end" >10<tspan font-size="15.5" dy="-9.6">−8</tspan></text>
<text x="771.2" y="557.4" font-size="23" text-anchor="end" >10<tspan font-size="15.5" dy="-9.6">−7</tspan></text>
<text x="799.2" y="937" font-size="21.5" text-anchor="middle" >800n</text>
<text x="842.6" y="937" font-size="21.5" text-anchor="middle" >1µ</text>
<text x="885.4" y="937" font-size="21.5" text-anchor="middle" >5µ</text>
<text x="928.3" y="937" font-size="21.5" text-anchor="middle" >10µ</text>
<text x="972" y="937" font-size="21.5" text-anchor="middle" >100µ</text>
<text x="1015" y="937" font-size="21.5" text-anchor="middle" >1m</text>
<text x="1071.2" y="937" font-size="21.5" text-anchor="middle" >500n</text>
<text x="1114.3" y="937" font-size="21.5" text-anchor="middle" >1µ</text>
<text x="1158" y="937" font-size="21.5" text-anchor="middle" >5µ</text>
<text x="1201.4" y="937" font-size="21.5" text-anchor="middle" >10µ</text>
<text x="1245.1" y="937" font-size="21.5" text-anchor="middle" >100µ</text>
<text x="1288" y="937" font-size="21.5" text-anchor="middle" >1m</text>
<text x="961.5" y="978.5" font-size="28" text-anchor="start" >Pulse Width (s)</text>
<text transform="translate(707,724.5) rotate(-90)" font-size="31" text-anchor="middle"><tspan font-style="italic">I</tspan><tspan font-size="17.5" dy="10">DS</tspan><tspan dy="-10">​</tspan> (A)</text>
<text x="692" y="546.8" font-size="29.5" text-anchor="start" >e</text>
<text x="797" y="858.5" font-size="23" text-anchor="start" ><tspan font-style="italic">V</tspan><tspan font-size="14" dy="7.5">DS</tspan><tspan dy="-7.5">​</tspan> = -1 V</text>
<text x="797" y="887.3" font-size="23" text-anchor="start" ><tspan font-style="italic">V</tspan><tspan font-size="14" dy="7.5">GGwrite</tspan><tspan dy="-7.5">​</tspan> = 10 V</text>
<text x="1065" y="576.4" font-size="23" text-anchor="start" ><tspan font-style="italic">V</tspan><tspan font-size="14" dy="7.5">DS</tspan><tspan dy="-7.5">​</tspan> = -1 V</text>
<text x="1065" y="605.6" font-size="23" text-anchor="start" ><tspan font-style="italic">V</tspan><tspan font-size="14" dy="7.5">GGerase</tspan><tspan dy="-7.5">​</tspan> = -10 V</text>
<g fill="#1f4ea3">
<circle cx="1453" cy="565.4" r="5.4"/>
<circle cx="1454.9" cy="564.8" r="5.4"/>
<circle cx="1456.7" cy="568.2" r="5.4"/>
<circle cx="1458.6" cy="565.1" r="5.4"/>
<circle cx="1460.5" cy="568.2" r="5.4"/>
<circle cx="1462.3" cy="567.4" r="5.4"/>
<circle cx="1464.2" cy="565.8" r="5.4"/>
<circle cx="1466.1" cy="568.5" r="5.4"/>
<circle cx="1468" cy="565.7" r="5.4"/>
<circle cx="1469.8" cy="568" r="5.4"/>
<circle cx="1471.7" cy="565.6" r="5.4"/>
<circle cx="1473.6" cy="565.5" r="5.4"/>
<circle cx="1475.4" cy="567.2" r="5.4"/>
<circle cx="1477.3" cy="569.3" r="5.4"/>
<circle cx="1479.2" cy="564.6" r="5.4"/>
<circle cx="1481" cy="564.8" r="5.4"/>
<circle cx="1482.9" cy="566.8" r="5.4"/>
<circle cx="1484.8" cy="568.4" r="5.4"/>
<circle cx="1486.7" cy="565.8" r="5.4"/>
<circle cx="1488.5" cy="564.4" r="5.4"/>
<circle cx="1490.4" cy="567.6" r="5.4"/>
<circle cx="1492.3" cy="561.9" r="5.4"/>
<circle cx="1494.1" cy="566.7" r="5.4"/>
<circle cx="1496" cy="563.3" r="5.4"/>
<circle cx="1497.9" cy="562.5" r="5.4"/>
<circle cx="1499.8" cy="562.5" r="5.4"/>
<circle cx="1501.6" cy="563.9" r="5.4"/>
<circle cx="1503.5" cy="567.2" r="5.4"/>
<circle cx="1505.4" cy="563.8" r="5.4"/>
<circle cx="1507.2" cy="566.6" r="5.4"/>
<circle cx="1509.1" cy="567.4" r="5.4"/>
<circle cx="1511" cy="566.2" r="5.4"/>
<circle cx="1512.8" cy="567.6" r="5.4"/>
<circle cx="1514.7" cy="565.1" r="5.4"/>
<circle cx="1516.6" cy="565.4" r="5.4"/>
<circle cx="1518.5" cy="566.5" r="5.4"/>
<circle cx="1520.3" cy="569.5" r="5.4"/>
<circle cx="1522.2" cy="568.1" r="5.4"/>
<circle cx="1524.1" cy="567.4" r="5.4"/>
<circle cx="1525.9" cy="568.9" r="5.4"/>
<circle cx="1527.8" cy="567.9" r="5.4"/>
<circle cx="1529.7" cy="566.8" r="5.4"/>
<circle cx="1531.5" cy="569.4" r="5.4"/>
<circle cx="1533.4" cy="568.5" r="5.4"/>
<circle cx="1535.3" cy="565.3" r="5.4"/>
<circle cx="1537.2" cy="566.9" r="5.4"/>
<circle cx="1539" cy="566.2" r="5.4"/>
<circle cx="1540.9" cy="567.9" r="5.4"/>
<circle cx="1542.8" cy="566.7" r="5.4"/>
<circle cx="1544.6" cy="563.7" r="5.4"/>
<circle cx="1546.5" cy="567.6" r="5.4"/>
<circle cx="1548.4" cy="562.3" r="5.4"/>
<circle cx="1550.2" cy="564" r="5.4"/>
<circle cx="1552.1" cy="566.1" r="5.4"/>
<circle cx="1554" cy="562.5" r="5.4"/>
<circle cx="1555.8" cy="564.7" r="5.4"/>
<circle cx="1557.7" cy="562.3" r="5.4"/>
<circle cx="1559.6" cy="566.4" r="5.4"/>
<circle cx="1561.5" cy="567.3" r="5.4"/>
<circle cx="1563.3" cy="566.6" r="5.4"/>
<circle cx="1565.2" cy="568.8" r="5.4"/>
<circle cx="1567.1" cy="565.9" r="5.4"/>
<circle cx="1568.9" cy="568.5" r="5.4"/>
<circle cx="1570.8" cy="568.3" r="5.4"/>
<circle cx="1572.7" cy="568.5" r="5.4"/>
<circle cx="1574.5" cy="568" r="5.4"/>
<circle cx="1576.4" cy="570.5" r="5.4"/>
<circle cx="1578.3" cy="571.2" r="5.4"/>
<circle cx="1580.2" cy="568.3" r="5.4"/>
<circle cx="1582" cy="569.4" r="5.4"/>
<circle cx="1583.9" cy="565.6" r="5.4"/>
<circle cx="1585.8" cy="569.1" r="5.4"/>
<circle cx="1587.6" cy="568.5" r="5.4"/>
<circle cx="1589.5" cy="570.2" r="5.4"/>
<circle cx="1591.4" cy="568.8" r="5.4"/>
<circle cx="1593.2" cy="565.1" r="5.4"/>
<circle cx="1595.1" cy="565.3" r="5.4"/>
<circle cx="1597" cy="566.6" r="5.4"/>
<circle cx="1598.9" cy="562.4" r="5.4"/>
<circle cx="1600.7" cy="564.7" r="5.4"/>
<circle cx="1602.6" cy="562.7" r="5.4"/>
<circle cx="1604.5" cy="562.3" r="5.4"/>
<circle cx="1606.3" cy="561.9" r="5.4"/>
<circle cx="1608.2" cy="566.1" r="5.4"/>
<circle cx="1610.1" cy="562.4" r="5.4"/>
<circle cx="1612" cy="563.3" r="5.4"/>
<circle cx="1613.8" cy="564.4" r="5.4"/>
<circle cx="1615.7" cy="567.6" r="5.4"/>
<circle cx="1617.6" cy="563.3" r="5.4"/>
<circle cx="1619.4" cy="565.9" r="5.4"/>
<circle cx="1621.3" cy="566.9" r="5.4"/>
<circle cx="1623.2" cy="569.3" r="5.4"/>
<circle cx="1625" cy="569.3" r="5.4"/>
<circle cx="1626.9" cy="569.9" r="5.4"/>
<circle cx="1628.8" cy="566.7" r="5.4"/>
<circle cx="1630.7" cy="567.8" r="5.4"/>
<circle cx="1632.5" cy="567.6" r="5.4"/>
<circle cx="1634.4" cy="570.8" r="5.4"/>
<circle cx="1636.3" cy="571.2" r="5.4"/>
<circle cx="1638.1" cy="566.3" r="5.4"/>
<circle cx="1640" cy="566.2" r="5.4"/>
<circle cx="1641.9" cy="566.3" r="5.4"/>
<circle cx="1643.7" cy="566" r="5.4"/>
<circle cx="1645.6" cy="567.1" r="5.4"/>
<circle cx="1647.5" cy="567.3" r="5.4"/>
<circle cx="1649.3" cy="565" r="5.4"/>
<circle cx="1651.2" cy="563" r="5.4"/>
<circle cx="1653.1" cy="565.1" r="5.4"/>
<circle cx="1655" cy="564.4" r="5.4"/>
<circle cx="1656.8" cy="565.3" r="5.4"/>
<circle cx="1658.7" cy="567.4" r="5.4"/>
<circle cx="1660.6" cy="565.7" r="5.4"/>
<circle cx="1662.4" cy="564.6" r="5.4"/>
<circle cx="1664.3" cy="565.2" r="5.4"/>
<circle cx="1666.2" cy="565.7" r="5.4"/>
<circle cx="1668" cy="562.2" r="5.4"/>
<circle cx="1669.9" cy="567.5" r="5.4"/>
<circle cx="1671.8" cy="567.1" r="5.4"/>
<circle cx="1673.7" cy="568.1" r="5.4"/>
<circle cx="1675.5" cy="568" r="5.4"/>
<circle cx="1677.4" cy="566" r="5.4"/>
<circle cx="1679.3" cy="566.4" r="5.4"/>
<circle cx="1681.1" cy="565.1" r="5.4"/>
<circle cx="1683" cy="568.6" r="5.4"/>
<circle cx="1684.9" cy="565.4" r="5.4"/>
<circle cx="1686.8" cy="565.7" r="5.4"/>
<circle cx="1688.6" cy="566.7" r="5.4"/>
<circle cx="1690.5" cy="566.5" r="5.4"/>
<circle cx="1692.4" cy="567.5" r="5.4"/>
<circle cx="1694" cy="565.7" r="5.4"/>
<circle cx="1455" cy="575" r="5.4"/>
<circle cx="1458" cy="582" r="5.4"/>
<circle cx="1462" cy="580" r="5.4"/>
<circle cx="1470" cy="573" r="5.4"/>
<circle cx="1472" cy="578" r="5.4"/>
<circle cx="1476" cy="583" r="5.4"/>
<circle cx="1480" cy="584" r="5.4"/>
<circle cx="1470" cy="560" r="5.4"/>
<circle cx="1477" cy="558" r="5.4"/>
<circle cx="1484" cy="557" r="5.4"/>
<circle cx="1491" cy="557.5" r="5.4"/>
<circle cx="1497" cy="558" r="5.4"/>
<circle cx="1504" cy="559" r="5.4"/>
<circle cx="1488" cy="565" r="5.4"/>
<circle cx="1494" cy="570" r="5.4"/>
<circle cx="1500" cy="567" r="5.4"/>
<circle cx="1552" cy="559" r="5.4"/>
<circle cx="1557" cy="561" r="5.4"/>
<circle cx="1561" cy="563" r="5.4"/>
<circle cx="1584" cy="559" r="5.4"/>
<circle cx="1588" cy="561" r="5.4"/>
<circle cx="1650" cy="570" r="5.4"/>
<circle cx="1653" cy="576" r="5.4"/>
<circle cx="1659.7" cy="583.5" r="5.4"/>
<circle cx="1540" cy="567" r="5.4"/>
<circle cx="1600" cy="568" r="5.4"/>
<circle cx="1620" cy="569" r="5.4"/>
<circle cx="1640" cy="567" r="5.4"/>
</g>
<g fill="#000">
<rect x="1450" y="863.8" width="11" height="12"/>
<rect x="1452" y="865.3" width="11" height="12"/>
<rect x="1453.9" y="867.8" width="11" height="12"/>
<rect x="1455.9" y="866.1" width="11" height="12"/>
<rect x="1457.9" y="866.2" width="11" height="12"/>
<rect x="1459.8" y="865.5" width="11" height="12"/>
<rect x="1461.8" y="871.5" width="11" height="12"/>
<rect x="1463.8" y="867.9" width="11" height="12"/>
<rect x="1465.8" y="864.9" width="11" height="12"/>
<rect x="1467.7" y="866.5" width="11" height="12"/>
<rect x="1469.7" y="867.5" width="11" height="12"/>
<rect x="1471.7" y="869" width="11" height="12"/>
<rect x="1473.6" y="866.5" width="11" height="12"/>
<rect x="1475.6" y="865.9" width="11" height="12"/>
<rect x="1477.6" y="870.5" width="11" height="12"/>
<rect x="1479.5" y="870" width="11" height="12"/>
<rect x="1481.5" y="866.4" width="11" height="12"/>
<rect x="1483.5" y="868" width="11" height="12"/>
<rect x="1485.5" y="869" width="11" height="12"/>
<rect x="1487.4" y="865.4" width="11" height="12"/>
<rect x="1489.4" y="870.5" width="11" height="12"/>
<rect x="1491.4" y="869.6" width="11" height="12"/>
<rect x="1493.3" y="869" width="11" height="12"/>
<rect x="1495.3" y="865.9" width="11" height="12"/>
<rect x="1497.3" y="863.7" width="11" height="12"/>
<rect x="1499.2" y="863.8" width="11" height="12"/>
<rect x="1501.2" y="866.4" width="11" height="12"/>
<rect x="1503.2" y="867.2" width="11" height="12"/>
<rect x="1505.2" y="864.8" width="11" height="12"/>
<rect x="1507.1" y="864.8" width="11" height="12"/>
<rect x="1509.1" y="864.7" width="11" height="12"/>
<rect x="1511.1" y="862.9" width="11" height="12"/>
<rect x="1513" y="862.5" width="11" height="12"/>
<rect x="1515" y="862.5" width="11" height="12"/>
<rect x="1517" y="862.5" width="11" height="12"/>
<rect x="1519" y="862.6" width="11" height="12"/>
<rect x="1520.9" y="863.9" width="11" height="12"/>
<rect x="1522.9" y="864.9" width="11" height="12"/>
<rect x="1524.9" y="864.9" width="11" height="12"/>
<rect x="1526.8" y="863.9" width="11" height="12"/>
<rect x="1528.8" y="864.6" width="11" height="12"/>
<rect x="1530.8" y="865.2" width="11" height="12"/>
<rect x="1532.7" y="863.3" width="11" height="12"/>
<rect x="1534.7" y="865.2" width="11" height="12"/>
<rect x="1536.7" y="866.1" width="11" height="12"/>
<rect x="1538.7" y="865.9" width="11" height="12"/>
<rect x="1540.6" y="865.9" width="11" height="12"/>
<rect x="1542.6" y="865.3" width="11" height="12"/>
<rect x="1544.6" y="864.5" width="11" height="12"/>
<rect x="1546.5" y="866.4" width="11" height="12"/>
<rect x="1548.5" y="865.1" width="11" height="12"/>
<rect x="1550.5" y="866.6" width="11" height="12"/>
<rect x="1552.4" y="867.1" width="11" height="12"/>
<rect x="1554.4" y="865.4" width="11" height="12"/>
<rect x="1556.4" y="865.4" width="11" height="12"/>
<rect x="1558.3" y="866.9" width="11" height="12"/>
<rect x="1560.3" y="866.2" width="11" height="12"/>
<rect x="1562.3" y="864.4" width="11" height="12"/>
<rect x="1564.3" y="864.2" width="11" height="12"/>
<rect x="1566.2" y="864.1" width="11" height="12"/>
<rect x="1568.2" y="866.2" width="11" height="12"/>
<rect x="1570.2" y="865.7" width="11" height="12"/>
<rect x="1572.1" y="863.6" width="11" height="12"/>
<rect x="1574.1" y="865.4" width="11" height="12"/>
<rect x="1576.1" y="865.7" width="11" height="12"/>
<rect x="1578" y="864.6" width="11" height="12"/>
<rect x="1580" y="863.5" width="11" height="12"/>
<rect x="1582" y="863.9" width="11" height="12"/>
<rect x="1584" y="862.6" width="11" height="12"/>
<rect x="1585.9" y="862.1" width="11" height="12"/>
<rect x="1587.9" y="864.9" width="11" height="12"/>
<rect x="1589.9" y="863.8" width="11" height="12"/>
<rect x="1591.8" y="863.4" width="11" height="12"/>
<rect x="1593.8" y="864.6" width="11" height="12"/>
<rect x="1595.8" y="863.1" width="11" height="12"/>
<rect x="1597.8" y="864.5" width="11" height="12"/>
<rect x="1599.7" y="864.4" width="11" height="12"/>
<rect x="1601.7" y="862.6" width="11" height="12"/>
<rect x="1603.7" y="862.8" width="11" height="12"/>
<rect x="1605.6" y="863.1" width="11" height="12"/>
<rect x="1607.6" y="863.1" width="11" height="12"/>
<rect x="1609.6" y="864.3" width="11" height="12"/>
<rect x="1611.5" y="863.5" width="11" height="12"/>
<rect x="1613.5" y="864.1" width="11" height="12"/>
<rect x="1615.5" y="863.4" width="11" height="12"/>
<rect x="1617.5" y="865.9" width="11" height="12"/>
<rect x="1619.4" y="864.5" width="11" height="12"/>
<rect x="1621.4" y="864.9" width="11" height="12"/>
<rect x="1623.4" y="865.5" width="11" height="12"/>
<rect x="1625.3" y="866.6" width="11" height="12"/>
<rect x="1627.3" y="865.2" width="11" height="12"/>
<rect x="1629.3" y="866.8" width="11" height="12"/>
<rect x="1631.2" y="865.6" width="11" height="12"/>
<rect x="1633.2" y="865.8" width="11" height="12"/>
<rect x="1635.2" y="865.8" width="11" height="12"/>
<rect x="1637.2" y="864.2" width="11" height="12"/>
<rect x="1639.1" y="865.5" width="11" height="12"/>
<rect x="1641.1" y="864.6" width="11" height="12"/>
<rect x="1643.1" y="864" width="11" height="12"/>
<rect x="1645" y="866.3" width="11" height="12"/>
<rect x="1647" y="864.3" width="11" height="12"/>
<rect x="1649" y="865.1" width="11" height="12"/>
<rect x="1650.9" y="865.7" width="11" height="12"/>
<rect x="1652.9" y="865" width="11" height="12"/>
<rect x="1654.9" y="864.1" width="11" height="12"/>
<rect x="1656.8" y="864.5" width="11" height="12"/>
<rect x="1658.8" y="864.4" width="11" height="12"/>
<rect x="1660.8" y="865" width="11" height="12"/>
<rect x="1662.8" y="862.8" width="11" height="12"/>
<rect x="1664.7" y="864" width="11" height="12"/>
<rect x="1666.7" y="862.9" width="11" height="12"/>
<rect x="1668.7" y="862.9" width="11" height="12"/>
<rect x="1670.6" y="864.3" width="11" height="12"/>
<rect x="1672.6" y="863.4" width="11" height="12"/>
<rect x="1674.6" y="863.5" width="11" height="12"/>
<rect x="1676.5" y="864.1" width="11" height="12"/>
<rect x="1678.5" y="864.5" width="11" height="12"/>
<rect x="1680.5" y="863.2" width="11" height="12"/>
<rect x="1682.5" y="863.7" width="11" height="12"/>
<rect x="1684.4" y="863.5" width="11" height="12"/>
<rect x="1686.4" y="863.6" width="11" height="12"/>
<rect x="1688" y="864.3" width="11" height="12"/>
<rect x="1688" y="863.7" width="11" height="12"/>
<rect x="1688" y="864.1" width="11" height="12"/>
<rect x="1688" y="864.1" width="11" height="12"/>
<rect x="1452" y="871" width="10" height="10"/>
<rect x="1462" y="874" width="10" height="10"/>
<rect x="1472" y="874" width="10" height="10"/>
<rect x="1482" y="873" width="10" height="10"/>
<rect x="1500" y="873" width="10" height="10"/>
<rect x="1468" y="861" width="10" height="10"/>
<rect x="1455" y="860" width="10" height="10"/>
</g>
<g fill="#e3221b">
<rect x="1718" y="571" width="12" height="12"/>
<rect x="1720" y="569.6" width="12" height="12"/>
<rect x="1721.9" y="570.6" width="12" height="12"/>
<rect x="1723.9" y="571" width="12" height="12"/>
<rect x="1725.9" y="567.2" width="12" height="12"/>
<rect x="1727.8" y="568.8" width="12" height="12"/>
<rect x="1729.8" y="571" width="12" height="12"/>
<rect x="1731.8" y="570.4" width="12" height="12"/>
<rect x="1733.8" y="566.5" width="12" height="12"/>
<rect x="1735.7" y="566.4" width="12" height="12"/>
<rect x="1737.7" y="568.2" width="12" height="12"/>
<rect x="1739.7" y="566.1" width="12" height="12"/>
<rect x="1741.6" y="567" width="12" height="12"/>
<rect x="1743.6" y="566.1" width="12" height="12"/>
<rect x="1745.6" y="569.4" width="12" height="12"/>
<rect x="1747.5" y="570.1" width="12" height="12"/>
<rect x="1749.5" y="570.7" width="12" height="12"/>
<rect x="1751.5" y="566.5" width="12" height="12"/>
<rect x="1753.5" y="569.6" width="12" height="12"/>
<rect x="1755.4" y="569.3" width="12" height="12"/>
<rect x="1757.4" y="566.4" width="12" height="12"/>
<rect x="1759.4" y="570.5" width="12" height="12"/>
<rect x="1761.3" y="570.9" width="12" height="12"/>
<rect x="1763.3" y="566.6" width="12" height="12"/>
<rect x="1765.3" y="570.7" width="12" height="12"/>
<rect x="1767.2" y="567.5" width="12" height="12"/>
<rect x="1769.2" y="568" width="12" height="12"/>
<rect x="1771.2" y="570.7" width="12" height="12"/>
<rect x="1773.2" y="569.7" width="12" height="12"/>
<rect x="1775.1" y="565.9" width="12" height="12"/>
<rect x="1777.1" y="567.4" width="12" height="12"/>
<rect x="1779.1" y="567.8" width="12" height="12"/>
<rect x="1781" y="566.7" width="12" height="12"/>
<rect x="1783" y="565.9" width="12" height="12"/>
<rect x="1785" y="566.5" width="12" height="12"/>
<rect x="1787" y="568.8" width="12" height="12"/>
<rect x="1788.9" y="564.9" width="12" height="12"/>
<rect x="1790.9" y="567.9" width="12" height="12"/>
<rect x="1792.9" y="567.3" width="12" height="12"/>
<rect x="1794.8" y="565.1" width="12" height="12"/>
<rect x="1796.8" y="566.9" width="12" height="12"/>
<rect x="1798.8" y="568.7" width="12" height="12"/>
<rect x="1800.7" y="568.3" width="12" height="12"/>
<rect x="1802.7" y="566" width="12" height="12"/>
<rect x="1804.7" y="571.3" width="12" height="12"/>
<rect x="1806.7" y="570.4" width="12" height="12"/>
<rect x="1808.6" y="571.7" width="12" height="12"/>
<rect x="1810.6" y="567.1" width="12" height="12"/>
<rect x="1812.6" y="568.3" width="12" height="12"/>
<rect x="1814.5" y="567.3" width="12" height="12"/>
<rect x="1816.5" y="571.7" width="12" height="12"/>
<rect x="1818.5" y="569.1" width="12" height="12"/>
<rect x="1820.4" y="568.6" width="12" height="12"/>
<rect x="1822.4" y="570.5" width="12" height="12"/>
<rect x="1824.4" y="573.5" width="12" height="12"/>
<rect x="1826.3" y="573.3" width="12" height="12"/>
<rect x="1828.3" y="570.4" width="12" height="12"/>
<rect x="1830.3" y="570.1" width="12" height="12"/>
<rect x="1832.3" y="574.6" width="12" height="12"/>
<rect x="1834.2" y="572.9" width="12" height="12"/>
<rect x="1836.2" y="573.9" width="12" height="12"/>
<rect x="1838.2" y="570.7" width="12" height="12"/>
<rect x="1840.1" y="570.7" width="12" height="12"/>
<rect x="1842.1" y="574.5" width="12" height="12"/>
<rect x="1844.1" y="573.2" width="12" height="12"/>
<rect x="1846" y="571.4" width="12" height="12"/>
<rect x="1848" y="576.5" width="12" height="12"/>
<rect x="1850" y="575" width="12" height="12"/>
<rect x="1852" y="576" width="12" height="12"/>
<rect x="1853.9" y="572.2" width="12" height="12"/>
<rect x="1855.9" y="576.6" width="12" height="12"/>
<rect x="1857.9" y="572.3" width="12" height="12"/>
<rect x="1859.8" y="576.9" width="12" height="12"/>
<rect x="1861.8" y="574.6" width="12" height="12"/>
<rect x="1863.8" y="574.1" width="12" height="12"/>
<rect x="1865.8" y="575.3" width="12" height="12"/>
<rect x="1867.7" y="577.4" width="12" height="12"/>
<rect x="1869.7" y="573.7" width="12" height="12"/>
<rect x="1871.7" y="572.9" width="12" height="12"/>
<rect x="1873.6" y="575.1" width="12" height="12"/>
<rect x="1875.6" y="573.4" width="12" height="12"/>
<rect x="1877.6" y="572.6" width="12" height="12"/>
<rect x="1879.5" y="572.8" width="12" height="12"/>
<rect x="1881.5" y="572" width="12" height="12"/>
<rect x="1883.5" y="572.7" width="12" height="12"/>
<rect x="1885.5" y="573.2" width="12" height="12"/>
<rect x="1887.4" y="573" width="12" height="12"/>
<rect x="1889.4" y="575.4" width="12" height="12"/>
<rect x="1891.4" y="572.5" width="12" height="12"/>
<rect x="1893.3" y="573.5" width="12" height="12"/>
<rect x="1895.3" y="571.5" width="12" height="12"/>
<rect x="1897.3" y="572.3" width="12" height="12"/>
<rect x="1899.2" y="570.2" width="12" height="12"/>
<rect x="1901.2" y="571.3" width="12" height="12"/>
<rect x="1903.2" y="569.7" width="12" height="12"/>
<rect x="1905.2" y="573.5" width="12" height="12"/>
<rect x="1907.1" y="572.3" width="12" height="12"/>
<rect x="1909.1" y="570.1" width="12" height="12"/>
<rect x="1911.1" y="571.5" width="12" height="12"/>
<rect x="1913" y="573.8" width="12" height="12"/>
<rect x="1915" y="569" width="12" height="12"/>
<rect x="1917" y="572.8" width="12" height="12"/>
<rect x="1918.9" y="570.4" width="12" height="12"/>
<rect x="1920.9" y="570.6" width="12" height="12"/>
<rect x="1922.9" y="572.3" width="12" height="12"/>
<rect x="1924.8" y="569.7" width="12" height="12"/>
<rect x="1926.8" y="570.2" width="12" height="12"/>
<rect x="1928.8" y="571" width="12" height="12"/>
<rect x="1930.8" y="572.5" width="12" height="12"/>
<rect x="1932.7" y="568.8" width="12" height="12"/>
<rect x="1934.7" y="571.5" width="12" height="12"/>
<rect x="1936.7" y="570.6" width="12" height="12"/>
<rect x="1938.6" y="570.1" width="12" height="12"/>
<rect x="1940.6" y="568.8" width="12" height="12"/>
<rect x="1942.6" y="568.3" width="12" height="12"/>
<rect x="1944.5" y="566.6" width="12" height="12"/>
<rect x="1946.5" y="567" width="12" height="12"/>
<rect x="1948.5" y="566.6" width="12" height="12"/>
<rect x="1950.5" y="570.3" width="12" height="12"/>
<rect x="1952.4" y="567.5" width="12" height="12"/>
<rect x="1954.4" y="566.9" width="12" height="12"/>
<rect x="1956.4" y="566.5" width="12" height="12"/>
<rect x="1957" y="570.7" width="12" height="12"/>
<rect x="1957" y="570.8" width="12" height="12"/>
<rect x="1726.5" y="578" width="11" height="11"/>
</g>
<g fill="#000">
<circle cx="1727" cy="876.5" r="5"/>
<circle cx="1729" cy="875.3" r="5"/>
<circle cx="1731" cy="875.2" r="5"/>
<circle cx="1733" cy="875.4" r="5"/>
<circle cx="1735" cy="875.9" r="5"/>
<circle cx="1737" cy="875" r="5"/>
<circle cx="1739" cy="875.8" r="5"/>
<circle cx="1741" cy="875.3" r="5"/>
<circle cx="1743" cy="877.4" r="5"/>
<circle cx="1745" cy="877.4" r="5"/>
<circle cx="1747" cy="876.1" r="5"/>
<circle cx="1749" cy="875.2" r="5"/>
<circle cx="1751" cy="877.4" r="5"/>
<circle cx="1753" cy="875.4" r="5"/>
<circle cx="1755" cy="875.6" r="5"/>
<circle cx="1757" cy="874.5" r="5"/>
<circle cx="1759" cy="875.6" r="5"/>
<circle cx="1761" cy="875.9" r="5"/>
<circle cx="1763" cy="876" r="5"/>
<circle cx="1765" cy="875.1" r="5"/>
<circle cx="1767" cy="876" r="5"/>
<circle cx="1769" cy="874.5" r="5"/>
<circle cx="1771" cy="875.3" r="5"/>
<circle cx="1773" cy="874.8" r="5"/>
<circle cx="1775" cy="875.7" r="5"/>
<circle cx="1777" cy="874.6" r="5"/>
<circle cx="1779" cy="874.6" r="5"/>
<circle cx="1781" cy="875.4" r="5"/>
<circle cx="1783" cy="875.2" r="5"/>
<circle cx="1785" cy="876.3" r="5"/>
<circle cx="1787" cy="876.1" r="5"/>
<circle cx="1789" cy="876.8" r="5"/>
<circle cx="1791" cy="876.5" r="5"/>
<circle cx="1793" cy="876.6" r="5"/>
<circle cx="1795" cy="877.1" r="5"/>
<circle cx="1797" cy="875.7" r="5"/>
<circle cx="1799" cy="875.5" r="5"/>
<circle cx="1801" cy="877.5" r="5"/>
<circle cx="1803" cy="874.9" r="5"/>
<circle cx="1805" cy="876.7" r="5"/>
<circle cx="1807" cy="876.4" r="5"/>
<circle cx="1809" cy="874.6" r="5"/>
<circle cx="1811" cy="877" r="5"/>
<circle cx="1813" cy="877.2" r="5"/>
<circle cx="1815" cy="876.4" r="5"/>
<circle cx="1817" cy="876.7" r="5"/>
<circle cx="1819" cy="876.9" r="5"/>
<circle cx="1821" cy="874.9" r="5"/>
<circle cx="1823" cy="876.1" r="5"/>
<circle cx="1825" cy="876" r="5"/>
<circle cx="1827" cy="877" r="5"/>
<circle cx="1829" cy="876.9" r="5"/>
<circle cx="1831" cy="877" r="5"/>
<circle cx="1833" cy="876.3" r="5"/>
<circle cx="1835" cy="877.2" r="5"/>
<circle cx="1837" cy="876.5" r="5"/>
<circle cx="1839" cy="876.6" r="5"/>
<circle cx="1841" cy="875.2" r="5"/>
<circle cx="1843" cy="874.6" r="5"/>
<circle cx="1845" cy="874.9" r="5"/>
<circle cx="1847" cy="875.6" r="5"/>
<circle cx="1849" cy="874.8" r="5"/>
<circle cx="1851" cy="877" r="5"/>
<circle cx="1853" cy="876.2" r="5"/>
<circle cx="1855" cy="876.4" r="5"/>
<circle cx="1857" cy="876.4" r="5"/>
<circle cx="1859" cy="876.5" r="5"/>
<circle cx="1861" cy="876" r="5"/>
<circle cx="1863" cy="874.5" r="5"/>
<circle cx="1865" cy="876.9" r="5"/>
<circle cx="1867" cy="876.7" r="5"/>
<circle cx="1869" cy="876" r="5"/>
<circle cx="1871" cy="876.1" r="5"/>
<circle cx="1873" cy="876.5" r="5"/>
<circle cx="1875" cy="874.7" r="5"/>
<circle cx="1877" cy="876.7" r="5"/>
<circle cx="1879" cy="875.3" r="5"/>
<circle cx="1881" cy="874.7" r="5"/>
<circle cx="1883" cy="875.3" r="5"/>
<circle cx="1885" cy="876.7" r="5"/>
<circle cx="1887" cy="875.1" r="5"/>
<circle cx="1889" cy="876.7" r="5"/>
<circle cx="1891" cy="877.4" r="5"/>
<circle cx="1893" cy="876" r="5"/>
<circle cx="1895" cy="875.6" r="5"/>
<circle cx="1897" cy="875.9" r="5"/>
<circle cx="1899" cy="876.6" r="5"/>
<circle cx="1901" cy="876.8" r="5"/>
<circle cx="1903" cy="876.4" r="5"/>
<circle cx="1905" cy="876.4" r="5"/>
<circle cx="1907" cy="874.7" r="5"/>
<circle cx="1909" cy="874.9" r="5"/>
<circle cx="1911" cy="875.3" r="5"/>
<circle cx="1913" cy="876.7" r="5"/>
<circle cx="1915" cy="875.4" r="5"/>
<circle cx="1917" cy="876.2" r="5"/>
<circle cx="1919" cy="874.5" r="5"/>
<circle cx="1921" cy="874.7" r="5"/>
<circle cx="1923" cy="875.3" r="5"/>
<circle cx="1925" cy="876.5" r="5"/>
<circle cx="1927" cy="876.6" r="5"/>
<circle cx="1929" cy="876.5" r="5"/>
<circle cx="1931" cy="875.4" r="5"/>
<circle cx="1933" cy="876" r="5"/>
<circle cx="1935" cy="875.9" r="5"/>
<circle cx="1937" cy="875.9" r="5"/>
<circle cx="1939" cy="874.9" r="5"/>
<circle cx="1941" cy="877.2" r="5"/>
<circle cx="1943" cy="875.1" r="5"/>
<circle cx="1945" cy="877.4" r="5"/>
<circle cx="1947" cy="877.3" r="5"/>
<circle cx="1949" cy="874.6" r="5"/>
<circle cx="1951" cy="875.9" r="5"/>
<circle cx="1953" cy="877" r="5"/>
<circle cx="1955" cy="877.4" r="5"/>
<circle cx="1957" cy="875.8" r="5"/>
<circle cx="1959" cy="875.3" r="5"/>
<circle cx="1961" cy="875.1" r="5"/>
<circle cx="1963" cy="877.3" r="5"/>
<circle cx="1965" cy="875.1" r="5"/>
<circle cx="1865.4" cy="883.3" r="5"/>
<circle cx="1851.7" cy="896.2" r="5"/>
<circle cx="1758.6" cy="894.1" r="5"/>
<circle cx="1848.1" cy="895.2" r="5"/>
<circle cx="1894.4" cy="884.7" r="5"/>
<circle cx="1940.7" cy="888.8" r="5"/>
<circle cx="1732.9" cy="881.1" r="5"/>
<circle cx="1844" cy="888.2" r="5"/>
<circle cx="1798.9" cy="883.3" r="5"/>
<circle cx="1808.9" cy="886.1" r="5"/>
<circle cx="1927" cy="881" r="5"/>
<circle cx="1905.7" cy="894.4" r="5"/>
<circle cx="1755.6" cy="895.8" r="5"/>
<circle cx="1896.7" cy="895.4" r="5"/>
<circle cx="1796" cy="887" r="5"/>
<circle cx="1820.5" cy="897" r="5"/>
<circle cx="1867.2" cy="886.8" r="5"/>
<circle cx="1828.9" cy="885.4" r="5"/>
<circle cx="1738.5" cy="882.6" r="5"/>
<circle cx="1925.7" cy="885.6" r="5"/>
<circle cx="1949.7" cy="885" r="5"/>
<circle cx="1790.2" cy="889.2" r="5"/>
<circle cx="1772.2" cy="887" r="5"/>
<circle cx="1954.6" cy="895.1" r="5"/>
<circle cx="1920.2" cy="891.1" r="5"/>
<circle cx="1944.4" cy="896.1" r="5"/>
<circle cx="1857.7" cy="892.5" r="5"/>
<circle cx="1738.8" cy="892.7" r="5"/>
<circle cx="1834.3" cy="893" r="5"/>
<circle cx="1880.4" cy="885.6" r="5"/>
<circle cx="1738.7" cy="895.8" r="5"/>
<circle cx="1757.3" cy="888.6" r="5"/>
<circle cx="1808.8" cy="885.8" r="5"/>
<circle cx="1902.9" cy="896.6" r="5"/>
<circle cx="1788.9" cy="891.5" r="5"/>
<circle cx="1798.6" cy="889.9" r="5"/>
<circle cx="1820.9" cy="883.7" r="5"/>
<circle cx="1765.5" cy="884.3" r="5"/>
<circle cx="1942.6" cy="889" r="5"/>
<circle cx="1779.4" cy="895.5" r="5"/>
<circle cx="1964.2" cy="888.2" r="5"/>
<circle cx="1760.2" cy="884.1" r="5"/>
<circle cx="1748.6" cy="886.5" r="5"/>
<circle cx="1748.7" cy="884.8" r="5"/>
<circle cx="1788.5" cy="890.1" r="5"/>
<circle cx="1938.2" cy="893" r="5"/>
<circle cx="1825.2" cy="887.6" r="5"/>
<circle cx="1851.8" cy="887" r="5"/>
<circle cx="1807.5" cy="882" r="5"/>
<circle cx="1793" cy="896.5" r="5"/>
<circle cx="1757" cy="889.1" r="5"/>
<circle cx="1876.9" cy="894.8" r="5"/>
<circle cx="1778.4" cy="885.3" r="5"/>
<circle cx="1786.1" cy="887.4" r="5"/>
<circle cx="1833.1" cy="896.3" r="5"/>
<circle cx="1929" cy="895" r="5"/>
<circle cx="1732.2" cy="881.5" r="5"/>
<circle cx="1895.9" cy="895.3" r="5"/>
<circle cx="1839.6" cy="890.4" r="5"/>
<circle cx="1727" cy="887.3" r="5"/>
<circle cx="1947.6" cy="894.2" r="5"/>
<circle cx="1930.6" cy="896.6" r="5"/>
<circle cx="1786.1" cy="882.7" r="5"/>
<circle cx="1763.7" cy="889.4" r="5"/>
<circle cx="1889.3" cy="896.1" r="5"/>
<circle cx="1898.8" cy="891.4" r="5"/>
<circle cx="1909" cy="888.3" r="5"/>
<circle cx="1858.3" cy="881.6" r="5"/>
<circle cx="1913.2" cy="884.7" r="5"/>
<circle cx="1945.9" cy="891.3" r="5"/>
</g>
<rect x="1448.5" y="552.3" width="252.1" height="362.7" fill="none" stroke="#000" stroke-width="2.6"/>
<line x1="1448.5" y1="915" x2="1454.5" y2="915" stroke="#000" stroke-width="1.8" />
<line x1="1448.5" y1="869.7" x2="1454.5" y2="869.7" stroke="#000" stroke-width="1.8" />
<line x1="1448.5" y1="824.3" x2="1454.5" y2="824.3" stroke="#000" stroke-width="1.8" />
<line x1="1448.5" y1="779" x2="1454.5" y2="779" stroke="#000" stroke-width="1.8" />
<line x1="1448.5" y1="733.6" x2="1454.5" y2="733.6" stroke="#000" stroke-width="1.8" />
<line x1="1448.5" y1="688.3" x2="1454.5" y2="688.3" stroke="#000" stroke-width="1.8" />
<line x1="1448.5" y1="643" x2="1454.5" y2="643" stroke="#000" stroke-width="1.8" />
<line x1="1448.5" y1="597.6" x2="1454.5" y2="597.6" stroke="#000" stroke-width="1.8" />
<line x1="1448.5" y1="552.3" x2="1454.5" y2="552.3" stroke="#000" stroke-width="1.8" />
<line x1="1448.5" y1="901.4" x2="1451.5" y2="901.4" stroke="#000" stroke-width="1.5" />
<line x1="1448.5" y1="893.4" x2="1451.5" y2="893.4" stroke="#000" stroke-width="1.5" />
<line x1="1448.5" y1="887.7" x2="1451.5" y2="887.7" stroke="#000" stroke-width="1.5" />
<line x1="1448.5" y1="883.3" x2="1451.5" y2="883.3" stroke="#000" stroke-width="1.5" />
<line x1="1448.5" y1="879.7" x2="1451.5" y2="879.7" stroke="#000" stroke-width="1.5" />
<line x1="1448.5" y1="876.7" x2="1451.5" y2="876.7" stroke="#000" stroke-width="1.5" />
<line x1="1448.5" y1="874.1" x2="1451.5" y2="874.1" stroke="#000" stroke-width="1.5" />
<line x1="1448.5" y1="871.7" x2="1451.5" y2="871.7" stroke="#000" stroke-width="1.5" />
<line x1="1448.5" y1="856" x2="1451.5" y2="856" stroke="#000" stroke-width="1.5" />
<line x1="1448.5" y1="848" x2="1451.5" y2="848" stroke="#000" stroke-width="1.5" />
<line x1="1448.5" y1="842.4" x2="1451.5" y2="842.4" stroke="#000" stroke-width="1.5" />
<line x1="1448.5" y1="838" x2="1451.5" y2="838" stroke="#000" stroke-width="1.5" />
<line x1="1448.5" y1="834.4" x2="1451.5" y2="834.4" stroke="#000" stroke-width="1.5" />
<line x1="1448.5" y1="831.3" x2="1451.5" y2="831.3" stroke="#000" stroke-width="1.5" />
<line x1="1448.5" y1="828.7" x2="1451.5" y2="828.7" stroke="#000" stroke-width="1.5" />
<line x1="1448.5" y1="826.4" x2="1451.5" y2="826.4" stroke="#000" stroke-width="1.5" />
<line x1="1448.5" y1="810.7" x2="1451.5" y2="810.7" stroke="#000" stroke-width="1.5" />
<line x1="1448.5" y1="802.7" x2="1451.5" y2="802.7" stroke="#000" stroke-width="1.5" />
<line x1="1448.5" y1="797" x2="1451.5" y2="797" stroke="#000" stroke-width="1.5" />
<line x1="1448.5" y1="792.6" x2="1451.5" y2="792.6" stroke="#000" stroke-width="1.5" />
<line x1="1448.5" y1="789" x2="1451.5" y2="789" stroke="#000" stroke-width="1.5" />
<line x1="1448.5" y1="786" x2="1451.5" y2="786" stroke="#000" stroke-width="1.5" />
<line x1="1448.5" y1="783.4" x2="1451.5" y2="783.4" stroke="#000" stroke-width="1.5" />
<line x1="1448.5" y1="781.1" x2="1451.5" y2="781.1" stroke="#000" stroke-width="1.5" />
<line x1="1448.5" y1="765.3" x2="1451.5" y2="765.3" stroke="#000" stroke-width="1.5" />
<line x1="1448.5" y1="757.4" x2="1451.5" y2="757.4" stroke="#000" stroke-width="1.5" />
<line x1="1448.5" y1="751.7" x2="1451.5" y2="751.7" stroke="#000" stroke-width="1.5" />
<line x1="1448.5" y1="747.3" x2="1451.5" y2="747.3" stroke="#000" stroke-width="1.5" />
<line x1="1448.5" y1="743.7" x2="1451.5" y2="743.7" stroke="#000" stroke-width="1.5" />
<line x1="1448.5" y1="740.7" x2="1451.5" y2="740.7" stroke="#000" stroke-width="1.5" />
<line x1="1448.5" y1="738" x2="1451.5" y2="738" stroke="#000" stroke-width="1.5" />
<line x1="1448.5" y1="735.7" x2="1451.5" y2="735.7" stroke="#000" stroke-width="1.5" />
<line x1="1448.5" y1="720" x2="1451.5" y2="720" stroke="#000" stroke-width="1.5" />
<line x1="1448.5" y1="712" x2="1451.5" y2="712" stroke="#000" stroke-width="1.5" />
<line x1="1448.5" y1="706.4" x2="1451.5" y2="706.4" stroke="#000" stroke-width="1.5" />
<line x1="1448.5" y1="702" x2="1451.5" y2="702" stroke="#000" stroke-width="1.5" />
<line x1="1448.5" y1="698.4" x2="1451.5" y2="698.4" stroke="#000" stroke-width="1.5" />
<line x1="1448.5" y1="695.3" x2="1451.5" y2="695.3" stroke="#000" stroke-width="1.5" />
<line x1="1448.5" y1="692.7" x2="1451.5" y2="692.7" stroke="#000" stroke-width="1.5" />
<line x1="1448.5" y1="690.4" x2="1451.5" y2="690.4" stroke="#000" stroke-width="1.5" />
<line x1="1448.5" y1="674.7" x2="1451.5" y2="674.7" stroke="#000" stroke-width="1.5" />
<line x1="1448.5" y1="666.7" x2="1451.5" y2="666.7" stroke="#000" stroke-width="1.5" />
<line x1="1448.5" y1="661" x2="1451.5" y2="661" stroke="#000" stroke-width="1.5" />
<line x1="1448.5" y1="656.6" x2="1451.5" y2="656.6" stroke="#000" stroke-width="1.5" />
<line x1="1448.5" y1="653" x2="1451.5" y2="653" stroke="#000" stroke-width="1.5" />
<line x1="1448.5" y1="650" x2="1451.5" y2="650" stroke="#000" stroke-width="1.5" />
<line x1="1448.5" y1="647.4" x2="1451.5" y2="647.4" stroke="#000" stroke-width="1.5" />
<line x1="1448.5" y1="645" x2="1451.5" y2="645" stroke="#000" stroke-width="1.5" />
<line x1="1448.5" y1="629.3" x2="1451.5" y2="629.3" stroke="#000" stroke-width="1.5" />
<line x1="1448.5" y1="621.3" x2="1451.5" y2="621.3" stroke="#000" stroke-width="1.5" />
<line x1="1448.5" y1="615.7" x2="1451.5" y2="615.7" stroke="#000" stroke-width="1.5" />
<line x1="1448.5" y1="611.3" x2="1451.5" y2="611.3" stroke="#000" stroke-width="1.5" />
<line x1="1448.5" y1="607.7" x2="1451.5" y2="607.7" stroke="#000" stroke-width="1.5" />
<line x1="1448.5" y1="604.7" x2="1451.5" y2="604.7" stroke="#000" stroke-width="1.5" />
<line x1="1448.5" y1="602" x2="1451.5" y2="602" stroke="#000" stroke-width="1.5" />
<line x1="1448.5" y1="599.7" x2="1451.5" y2="599.7" stroke="#000" stroke-width="1.5" />
<line x1="1448.5" y1="584" x2="1451.5" y2="584" stroke="#000" stroke-width="1.5" />
<line x1="1448.5" y1="576" x2="1451.5" y2="576" stroke="#000" stroke-width="1.5" />
<line x1="1448.5" y1="570.3" x2="1451.5" y2="570.3" stroke="#000" stroke-width="1.5" />
<line x1="1448.5" y1="565.9" x2="1451.5" y2="565.9" stroke="#000" stroke-width="1.5" />
<line x1="1448.5" y1="562.4" x2="1451.5" y2="562.4" stroke="#000" stroke-width="1.5" />
<line x1="1448.5" y1="559.3" x2="1451.5" y2="559.3" stroke="#000" stroke-width="1.5" />
<line x1="1448.5" y1="556.7" x2="1451.5" y2="556.7" stroke="#000" stroke-width="1.5" />
<line x1="1448.5" y1="554.4" x2="1451.5" y2="554.4" stroke="#000" stroke-width="1.5" />
<line x1="1448.5" y1="915" x2="1448.5" y2="909.5" stroke="#000" stroke-width="1.8" />
<line x1="1571" y1="915" x2="1571" y2="909.5" stroke="#000" stroke-width="1.8" />
<line x1="1693.5" y1="915" x2="1693.5" y2="909.5" stroke="#000" stroke-width="1.8" />
<line x1="1473" y1="915" x2="1473" y2="912" stroke="#000" stroke-width="1.5" />
<line x1="1497.5" y1="915" x2="1497.5" y2="912" stroke="#000" stroke-width="1.5" />
<line x1="1522" y1="915" x2="1522" y2="912" stroke="#000" stroke-width="1.5" />
<line x1="1546.5" y1="915" x2="1546.5" y2="912" stroke="#000" stroke-width="1.5" />
<line x1="1595.5" y1="915" x2="1595.5" y2="912" stroke="#000" stroke-width="1.5" />
<line x1="1620" y1="915" x2="1620" y2="912" stroke="#000" stroke-width="1.5" />
<line x1="1644.5" y1="915" x2="1644.5" y2="912" stroke="#000" stroke-width="1.5" />
<line x1="1669" y1="915" x2="1669" y2="912" stroke="#000" stroke-width="1.5" />
<rect x="1716.2" y="552.3" width="253.8" height="362.7" fill="none" stroke="#000" stroke-width="2.6"/>
<line x1="1716.2" y1="915" x2="1722.2" y2="915" stroke="#000" stroke-width="1.8" />
<line x1="1716.2" y1="869.7" x2="1722.2" y2="869.7" stroke="#000" stroke-width="1.8" />
<line x1="1716.2" y1="824.3" x2="1722.2" y2="824.3" stroke="#000" stroke-width="1.8" />
<line x1="1716.2" y1="779" x2="1722.2" y2="779" stroke="#000" stroke-width="1.8" />
<line x1="1716.2" y1="733.6" x2="1722.2" y2="733.6" stroke="#000" stroke-width="1.8" />
<line x1="1716.2" y1="688.3" x2="1722.2" y2="688.3" stroke="#000" stroke-width="1.8" />
<line x1="1716.2" y1="643" x2="1722.2" y2="643" stroke="#000" stroke-width="1.8" />
<line x1="1716.2" y1="597.6" x2="1722.2" y2="597.6" stroke="#000" stroke-width="1.8" />
<line x1="1716.2" y1="552.3" x2="1722.2" y2="552.3" stroke="#000" stroke-width="1.8" />
<line x1="1716.2" y1="901.4" x2="1719.2" y2="901.4" stroke="#000" stroke-width="1.5" />
<line x1="1716.2" y1="893.4" x2="1719.2" y2="893.4" stroke="#000" stroke-width="1.5" />
<line x1="1716.2" y1="887.7" x2="1719.2" y2="887.7" stroke="#000" stroke-width="1.5" />
<line x1="1716.2" y1="883.3" x2="1719.2" y2="883.3" stroke="#000" stroke-width="1.5" />
<line x1="1716.2" y1="879.7" x2="1719.2" y2="879.7" stroke="#000" stroke-width="1.5" />
<line x1="1716.2" y1="876.7" x2="1719.2" y2="876.7" stroke="#000" stroke-width="1.5" />
<line x1="1716.2" y1="874.1" x2="1719.2" y2="874.1" stroke="#000" stroke-width="1.5" />
<line x1="1716.2" y1="871.7" x2="1719.2" y2="871.7" stroke="#000" stroke-width="1.5" />
<line x1="1716.2" y1="856" x2="1719.2" y2="856" stroke="#000" stroke-width="1.5" />
<line x1="1716.2" y1="848" x2="1719.2" y2="848" stroke="#000" stroke-width="1.5" />
<line x1="1716.2" y1="842.4" x2="1719.2" y2="842.4" stroke="#000" stroke-width="1.5" />
<line x1="1716.2" y1="838" x2="1719.2" y2="838" stroke="#000" stroke-width="1.5" />
<line x1="1716.2" y1="834.4" x2="1719.2" y2="834.4" stroke="#000" stroke-width="1.5" />
<line x1="1716.2" y1="831.3" x2="1719.2" y2="831.3" stroke="#000" stroke-width="1.5" />
<line x1="1716.2" y1="828.7" x2="1719.2" y2="828.7" stroke="#000" stroke-width="1.5" />
<line x1="1716.2" y1="826.4" x2="1719.2" y2="826.4" stroke="#000" stroke-width="1.5" />
<line x1="1716.2" y1="810.7" x2="1719.2" y2="810.7" stroke="#000" stroke-width="1.5" />
<line x1="1716.2" y1="802.7" x2="1719.2" y2="802.7" stroke="#000" stroke-width="1.5" />
<line x1="1716.2" y1="797" x2="1719.2" y2="797" stroke="#000" stroke-width="1.5" />
<line x1="1716.2" y1="792.6" x2="1719.2" y2="792.6" stroke="#000" stroke-width="1.5" />
<line x1="1716.2" y1="789" x2="1719.2" y2="789" stroke="#000" stroke-width="1.5" />
<line x1="1716.2" y1="786" x2="1719.2" y2="786" stroke="#000" stroke-width="1.5" />
<line x1="1716.2" y1="783.4" x2="1719.2" y2="783.4" stroke="#000" stroke-width="1.5" />
<line x1="1716.2" y1="781.1" x2="1719.2" y2="781.1" stroke="#000" stroke-width="1.5" />
<line x1="1716.2" y1="765.3" x2="1719.2" y2="765.3" stroke="#000" stroke-width="1.5" />
<line x1="1716.2" y1="757.4" x2="1719.2" y2="757.4" stroke="#000" stroke-width="1.5" />
<line x1="1716.2" y1="751.7" x2="1719.2" y2="751.7" stroke="#000" stroke-width="1.5" />
<line x1="1716.2" y1="747.3" x2="1719.2" y2="747.3" stroke="#000" stroke-width="1.5" />
<line x1="1716.2" y1="743.7" x2="1719.2" y2="743.7" stroke="#000" stroke-width="1.5" />
<line x1="1716.2" y1="740.7" x2="1719.2" y2="740.7" stroke="#000" stroke-width="1.5" />
<line x1="1716.2" y1="738" x2="1719.2" y2="738" stroke="#000" stroke-width="1.5" />
<line x1="1716.2" y1="735.7" x2="1719.2" y2="735.7" stroke="#000" stroke-width="1.5" />
<line x1="1716.2" y1="720" x2="1719.2" y2="720" stroke="#000" stroke-width="1.5" />
<line x1="1716.2" y1="712" x2="1719.2" y2="712" stroke="#000" stroke-width="1.5" />
<line x1="1716.2" y1="706.4" x2="1719.2" y2="706.4" stroke="#000" stroke-width="1.5" />
<line x1="1716.2" y1="702" x2="1719.2" y2="702" stroke="#000" stroke-width="1.5" />
<line x1="1716.2" y1="698.4" x2="1719.2" y2="698.4" stroke="#000" stroke-width="1.5" />
<line x1="1716.2" y1="695.3" x2="1719.2" y2="695.3" stroke="#000" stroke-width="1.5" />
<line x1="1716.2" y1="692.7" x2="1719.2" y2="692.7" stroke="#000" stroke-width="1.5" />
<line x1="1716.2" y1="690.4" x2="1719.2" y2="690.4" stroke="#000" stroke-width="1.5" />
<line x1="1716.2" y1="674.7" x2="1719.2" y2="674.7" stroke="#000" stroke-width="1.5" />
<line x1="1716.2" y1="666.7" x2="1719.2" y2="666.7" stroke="#000" stroke-width="1.5" />
<line x1="1716.2" y1="661" x2="1719.2" y2="661" stroke="#000" stroke-width="1.5" />
<line x1="1716.2" y1="656.6" x2="1719.2" y2="656.6" stroke="#000" stroke-width="1.5" />
<line x1="1716.2" y1="653" x2="1719.2" y2="653" stroke="#000" stroke-width="1.5" />
<line x1="1716.2" y1="650" x2="1719.2" y2="650" stroke="#000" stroke-width="1.5" />
<line x1="1716.2" y1="647.4" x2="1719.2" y2="647.4" stroke="#000" stroke-width="1.5" />
<line x1="1716.2" y1="645" x2="1719.2" y2="645" stroke="#000" stroke-width="1.5" />
<line x1="1716.2" y1="629.3" x2="1719.2" y2="629.3" stroke="#000" stroke-width="1.5" />
<line x1="1716.2" y1="621.3" x2="1719.2" y2="621.3" stroke="#000" stroke-width="1.5" />
<line x1="1716.2" y1="615.7" x2="1719.2" y2="615.7" stroke="#000" stroke-width="1.5" />
<line x1="1716.2" y1="611.3" x2="1719.2" y2="611.3" stroke="#000" stroke-width="1.5" />
<line x1="1716.2" y1="607.7" x2="1719.2" y2="607.7" stroke="#000" stroke-width="1.5" />
<line x1="1716.2" y1="604.7" x2="1719.2" y2="604.7" stroke="#000" stroke-width="1.5" />
<line x1="1716.2" y1="602" x2="1719.2" y2="602" stroke="#000" stroke-width="1.5" />
<line x1="1716.2" y1="599.7" x2="1719.2" y2="599.7" stroke="#000" stroke-width="1.5" />
<line x1="1716.2" y1="584" x2="1719.2" y2="584" stroke="#000" stroke-width="1.5" />
<line x1="1716.2" y1="576" x2="1719.2" y2="576" stroke="#000" stroke-width="1.5" />
<line x1="1716.2" y1="570.3" x2="1719.2" y2="570.3" stroke="#000" stroke-width="1.5" />
<line x1="1716.2" y1="565.9" x2="1719.2" y2="565.9" stroke="#000" stroke-width="1.5" />
<line x1="1716.2" y1="562.4" x2="1719.2" y2="562.4" stroke="#000" stroke-width="1.5" />
<line x1="1716.2" y1="559.3" x2="1719.2" y2="559.3" stroke="#000" stroke-width="1.5" />
<line x1="1716.2" y1="556.7" x2="1719.2" y2="556.7" stroke="#000" stroke-width="1.5" />
<line x1="1716.2" y1="554.4" x2="1719.2" y2="554.4" stroke="#000" stroke-width="1.5" />
<line x1="1723.4" y1="915" x2="1723.4" y2="909.5" stroke="#000" stroke-width="1.8" />
<line x1="1846.1" y1="915" x2="1846.1" y2="909.5" stroke="#000" stroke-width="1.8" />
<line x1="1968.8" y1="915" x2="1968.8" y2="909.5" stroke="#000" stroke-width="1.8" />
<line x1="1747.9" y1="915" x2="1747.9" y2="912" stroke="#000" stroke-width="1.5" />
<line x1="1772.5" y1="915" x2="1772.5" y2="912" stroke="#000" stroke-width="1.5" />
<line x1="1797" y1="915" x2="1797" y2="912" stroke="#000" stroke-width="1.5" />
<line x1="1821.6" y1="915" x2="1821.6" y2="912" stroke="#000" stroke-width="1.5" />
<line x1="1870.6" y1="915" x2="1870.6" y2="912" stroke="#000" stroke-width="1.5" />
<line x1="1895.2" y1="915" x2="1895.2" y2="912" stroke="#000" stroke-width="1.5" />
<line x1="1919.7" y1="915" x2="1919.7" y2="912" stroke="#000" stroke-width="1.5" />
<line x1="1944.3" y1="915" x2="1944.3" y2="912" stroke="#000" stroke-width="1.5" />
<text x="1442" y="924.3" font-size="23" text-anchor="end" >10<tspan font-size="15.5" dy="-9.6">−14</tspan></text>
<text x="1442" y="879" font-size="23" text-anchor="end" >10<tspan font-size="15.5" dy="-9.6">−13</tspan></text>
<text x="1442" y="833.6" font-size="23" text-anchor="end" >10<tspan font-size="15.5" dy="-9.6">−12</tspan></text>
<text x="1442" y="788.3" font-size="23" text-anchor="end" >10<tspan font-size="15.5" dy="-9.6">−11</tspan></text>
<text x="1442" y="742.9" font-size="23" text-anchor="end" >10<tspan font-size="15.5" dy="-9.6">−10</tspan></text>
<text x="1442" y="697.6" font-size="23" text-anchor="end" >10<tspan font-size="15.5" dy="-9.6">−9</tspan></text>
<text x="1442" y="652.3" font-size="23" text-anchor="end" >10<tspan font-size="15.5" dy="-9.6">−8</tspan></text>
<text x="1442" y="606.9" font-size="23" text-anchor="end" >10<tspan font-size="15.5" dy="-9.6">−7</tspan></text>
<text x="1442" y="561.6" font-size="23" text-anchor="end" >10<tspan font-size="15.5" dy="-9.6">−6</tspan></text>
<text x="1446.9" y="944.5" font-size="22" text-anchor="middle" >0</text>
<text x="1571.5" y="944.5" font-size="22" text-anchor="middle" >5·10<tspan font-size="15" dy="-8.6">3</tspan></text>
<text x="1692.4" y="944.5" font-size="22" text-anchor="middle" >10<tspan font-size="15" dy="-8.6">4</tspan></text>
<text x="1723.2" y="944.5" font-size="22" text-anchor="middle" >0</text>
<text x="1846.6" y="944.5" font-size="22" text-anchor="middle" >5·10<tspan font-size="15" dy="-8.6">3</tspan></text>
<text x="1968" y="944.5" font-size="22" text-anchor="middle" >10<tspan font-size="15" dy="-8.6">4</tspan></text>
<text x="1548" y="984" font-size="29" text-anchor="start" >Cycle</text>
<text x="1815.5" y="984" font-size="29" text-anchor="start" >Cycle</text>
<text transform="translate(1377,723.5) rotate(-90)" font-size="31" text-anchor="middle"><tspan font-style="italic">I</tspan><tspan font-size="17.5" dy="10">DS</tspan><tspan dy="-10">​</tspan> (A)</text>
<text x="1371" y="546.8" font-size="29.5" text-anchor="start" >f</text>
<text x="1463.5" y="680.6" font-size="21" text-anchor="start" letter-spacing="-0.35"><tspan font-style="italic">V</tspan><tspan font-size="13" dy="2.5">GGwrite</tspan><tspan dy="-2.5">​</tspan> = - 30 V, 0.3 s</text>
<rect x="1463.3" y="692.8" width="10.5" height="10" fill="#000" stroke="none" stroke-width="0" />
<text x="1477.5" y="705" font-size="21.8" text-anchor="start" >HRS</text>
<text x="1463.5" y="727.7" font-size="21" text-anchor="start" letter-spacing="-0.35"><tspan font-style="italic">V</tspan><tspan font-size="13" dy="2.5">GGwrite</tspan><tspan dy="-2.5">​</tspan> = + 30 V, 0.3 s</text>
<circle cx="1468" cy="744.9" r="5.7" fill="#1f4ea3" stroke="#1f4ea3" stroke-width="0"/>
<text x="1477" y="752.4" font-size="21.8" text-anchor="start" >LRS</text>
<text x="1695.5" y="836.2" font-size="21" text-anchor="end" letter-spacing="-0.35"><tspan font-style="italic">V</tspan><tspan font-size="13" dy="3">Dread</tspan><tspan dy="-3">​</tspan> = 1 V</text>
<text x="1731.5" y="677.4" font-size="21" text-anchor="start" letter-spacing="-0.35"><tspan font-style="italic">V</tspan><tspan font-size="13" dy="2.5">GGwrite</tspan><tspan dy="-2.5">​</tspan> = + 30 V, 0.3 s</text>
<circle cx="1736.2" cy="694.6" r="5.7" fill="#000" stroke="#000" stroke-width="0"/>
<text x="1745.5" y="701" font-size="21.8" text-anchor="start" >HRS</text>
<text x="1731.5" y="724" font-size="21" text-anchor="start" letter-spacing="-0.35"><tspan font-style="italic">V</tspan><tspan font-size="13" dy="2.5">GGerase</tspan><tspan dy="-2.5">​</tspan> = - 30 V, 0.3 s</text>
<rect x="1731" y="736.1" width="11.2" height="10" fill="#e3221b" stroke="none" stroke-width="0" />
<text x="1745.5" y="747.6" font-size="21.8" text-anchor="start" >LRS</text>
<text x="1953" y="837.9" font-size="21" text-anchor="end" letter-spacing="-0.35"><tspan font-style="italic">V</tspan><tspan font-size="13" dy="3">Dread</tspan><tspan dy="-3">​</tspan> = -1 V</text>
<polyline points="118,1091.5 135,1091.5" fill="none" stroke="#1d4aa0" stroke-width="10.5" stroke-linejoin="round" stroke-linecap="round" stroke-linecap="round"/>
<line x1="135.8" y1="1096" x2="135.8" y2="1146.5" stroke="#1d4aa0" stroke-width="2" />
<polyline points="136,1152.5 142.5,1152.2 149,1152.2 155.5,1152.6 162,1151.7 168.5,1151.6 175,1151.5 181.5,1150.7 188,1151" fill="none" stroke="#1d4aa0" stroke-width="11" stroke-linejoin="round" stroke-linecap="round" stroke-linecap="round"/>
<line x1="188.6" y1="1157" x2="188.6" y2="1234" stroke="#1d4aa0" stroke-width="2" />
<polyline points="189.5,1237.5 196.5,1237.1 203.5,1237 210.5,1236.8 217.5,1235.4 224.5,1235.3 231.5,1234.6 238.5,1235.4 245.5,1234.5" fill="none" stroke="#1d4aa0" stroke-width="11" stroke-linejoin="round" stroke-linecap="round" stroke-linecap="round"/>
<line x1="246.7" y1="1240" x2="246" y2="1303" stroke="#1d4aa0" stroke-width="2" />
<polyline points="247.5,1311.5 254.8,1311.2 262.1,1309.5 269.4,1310.4 276.8,1309.7 284.1,1308.6 291.4,1307.9 298.7,1306.6 306,1306.5" fill="none" stroke="#1d4aa0" stroke-width="11" stroke-linejoin="round" stroke-linecap="round" stroke-linecap="round"/>
<line x1="305.8" y1="1310" x2="306.5" y2="1415" stroke="#1d4aa0" stroke-width="2" />
<g fill="#1d4aa0">
<circle cx="306" cy="1416" r="5"/>
<circle cx="307" cy="1424" r="5"/>
<circle cx="308" cy="1432" r="5"/>
<circle cx="311" cy="1435" r="5"/>
<circle cx="316" cy="1428" r="5"/>
<circle cx="320" cy="1427" r="5"/>
<circle cx="324" cy="1426" r="5"/>
<circle cx="328" cy="1433" r="5"/>
<circle cx="331" cy="1434" r="5"/>
<circle cx="335" cy="1428" r="5"/>
<circle cx="339" cy="1420" r="5"/>
<circle cx="342" cy="1419" r="5"/>
<circle cx="345" cy="1422" r="5"/>
<circle cx="348" cy="1425" r="5"/>
<circle cx="350" cy="1428" r="5"/>
<circle cx="353" cy="1431" r="5"/>
<circle cx="356" cy="1434" r="5"/>
<circle cx="359" cy="1437" r="5"/>
<circle cx="311" cy="1425" r="5"/>
<circle cx="314" cy="1437" r="5"/>
<circle cx="326" cy="1430" r="5"/>
<circle cx="343" cy="1427" r="5"/>
<circle cx="337" cy="1424" r="5"/>
</g>
<line x1="119.6" y1="1128.3" x2="119.6" y2="1104.5" stroke="#e8601c" stroke-width="1.9" />
<polyline points="123.9,1112.5 119.6,1104.5 115.3,1112.5" fill="none" stroke="#e8601c" stroke-width="1.71" stroke-linejoin="round" stroke-linecap="round" />
<line x1="132.2" y1="1189.1" x2="132.2" y2="1164.5" stroke="#30a8e0" stroke-width="1.9" />
<polyline points="136.5,1172.5 132.2,1164.5 127.9,1172.5" fill="none" stroke="#30a8e0" stroke-width="1.71" stroke-linejoin="round" stroke-linecap="round" />
<line x1="186.5" y1="1270.7" x2="186.5" y2="1245.5" stroke="#30a8e0" stroke-width="1.9" />
<polyline points="190.8,1253.5 186.5,1245.5 182.2,1253.5" fill="none" stroke="#30a8e0" stroke-width="1.71" stroke-linejoin="round" stroke-linecap="round" />
<line x1="246.4" y1="1348.5" x2="246.4" y2="1323.5" stroke="#30a8e0" stroke-width="1.9" />
<polyline points="250.7,1331.5 246.4,1323.5 242.1,1331.5" fill="none" stroke="#30a8e0" stroke-width="1.71" stroke-linejoin="round" stroke-linecap="round" />
<line x1="307" y1="1269.2" x2="307" y2="1294.2" stroke="#30a8e0" stroke-width="1.9" />
<polyline points="302.7,1286.2 307,1294.2 311.3,1286.2" fill="none" stroke="#30a8e0" stroke-width="1.71" stroke-linejoin="round" stroke-linecap="round" />
<text x="147.5" y="1096.5" font-size="22" text-anchor="start" >state-0</text>
<text x="197.5" y="1153.3" font-size="22" text-anchor="start" >state-1</text>
<text x="260.5" y="1238.5" font-size="22" text-anchor="start" >state-2</text>
<text x="164.5" y="1320.1" font-size="22" text-anchor="start" >state-3</text>
<text x="224.5" y="1432.3" font-size="22" text-anchor="start" >state-4</text>
<text x="138" y="1125.6" font-size="20.5" text-anchor="start" style="fill:#e3141e;stroke:#e3141e">15 V, 0.1 s</text>
<text x="117" y="1209.4" font-size="20.5" text-anchor="start" style="fill:#1a70b8;stroke:#1a70b8">-15 V</text>
<text x="117" y="1234.4" font-size="20.5" text-anchor="start" style="fill:#1a70b8;stroke:#1a70b8">50 µs</text>
<text x="114.5" y="1374.7" font-size="21" text-anchor="start" ><tspan font-style="italic">V</tspan><tspan font-size="12.5" dy="6.5">DS</tspan><tspan dy="-6.5">​</tspan> = 0.1 V</text>
<polyline points="381,1088.8 385.2,1089.7 389.5,1090.2 393.7,1090.8 397.9,1090.2 402.2,1090.2 406.4,1087.5 410.7,1088 414.9,1088.7 419.1,1087.7 423.4,1088.3 427.6,1086.7 431.8,1088.1 436.1,1088.1 440.3,1089.4 444.6,1089.8 448.8,1088.5 453,1088.8 457.3,1088.5 461.5,1089.4 465.7,1088.5 470,1086.6 474.2,1088 478.5,1086.6 482.7,1088.1 486.9,1087.5 491.2,1087.8 495.4,1090.4 499.6,1089 503.9,1088.9 508.1,1090.4 512.4,1089.6 516.6,1087.6 520.8,1088.8 525.1,1087.4 529.3,1087.8 533.5,1086.9 537.8,1089.1 542,1089.1 546.3,1090.3 550.5,1090.5 554.7,1089.2 559,1089.2 563.2,1088.3 567.4,1087.6 571.7,1086.9 575.9,1087 580.2,1087.5 584.4,1086.2 588.6,1088.2 592.9,1088 597.1,1088.5 601.3,1090.2 605.6,1089.6 609.8,1089.2 614.1,1089.3 618.3,1089.3 622.5,1087.2 626.8,1088.8 631,1086.2" fill="none" stroke="#1d4aa0" stroke-width="15" stroke-linejoin="round" stroke-linecap="round" stroke-linecap="round"/>
<polyline points="381,1424.7 385.2,1425.1 389.5,1422.8 393.7,1425.2 397.9,1424 402.2,1424.7 406.4,1423.1 410.7,1423.4 414.9,1423.9 419.1,1426.3 423.4,1424.1 427.6,1425.9 431.8,1426.5 436.1,1426.6 440.3,1425 444.6,1425.1 448.8,1425.7 453,1426.6 457.3,1424.7 461.5,1426.7 465.7,1426.9 470,1427.2 474.2,1424.8 478.5,1427.7 482.7,1425.2 486.9,1426.1 491.2,1427 495.4,1428 499.6,1426.4 503.9,1428.2 508.1,1427.2 512.4,1426.6 516.6,1426.7 520.8,1426.4 525.1,1426.2 529.3,1426.5 533.5,1428.2 537.8,1429.3 542,1426.8 546.3,1426.6 550.5,1429.5 554.7,1428.3 559,1428 563.2,1427.6 567.4,1428.8 571.7,1429.6 575.9,1428.5 580.2,1428.5 584.4,1427.5 588.6,1430.2 592.9,1427.7 597.1,1429.2 601.3,1430.3 605.6,1428.3 609.8,1430.2 614.1,1430.9 618.3,1430.1 622.5,1430.7 626.8,1428.7 631,1429.8" fill="none" stroke="#000" stroke-width="21" stroke-linejoin="round" stroke-linecap="round" stroke-linecap="butt"/>
<rect x="378" y="1403" width="16" height="18" fill="#000" stroke="none" stroke-width="0" />
<rect x="385" y="1407" width="14" height="12" fill="#000" stroke="none" stroke-width="0" />
<text x="405.5" y="1227.1" font-size="21" text-anchor="start" ><tspan font-style="italic">V</tspan><tspan font-size="12.5" dy="6.5">DS</tspan><tspan dy="-6.5">​</tspan> = 0.1V</text>
<circle cx="411.8" cy="1254.9" r="5.8" fill="#1d4aa0" stroke="#1d4aa0" stroke-width="0"/>
<text x="423" y="1260.7" font-size="22" text-anchor="start" >state-0</text>
<rect x="406.2" y="1280.5" width="10.6" height="10.6" fill="#000" stroke="none" stroke-width="0" />
<text x="423" y="1291.1" font-size="22" text-anchor="start" >state-4</text>
<rect x="105.7" y="1070.6" width="257" height="386" fill="none" stroke="#000" stroke-width="2.6"/>
<line x1="105.7" y1="1456.6" x2="111.7" y2="1456.6" stroke="#000" stroke-width="1.8" />
<line x1="105.7" y1="1401.5" x2="111.7" y2="1401.5" stroke="#000" stroke-width="1.8" />
<line x1="105.7" y1="1346.4" x2="111.7" y2="1346.4" stroke="#000" stroke-width="1.8" />
<line x1="105.7" y1="1291.3" x2="111.7" y2="1291.3" stroke="#000" stroke-width="1.8" />
<line x1="105.7" y1="1236.1" x2="111.7" y2="1236.1" stroke="#000" stroke-width="1.8" />
<line x1="105.7" y1="1181" x2="111.7" y2="1181" stroke="#000" stroke-width="1.8" />
<line x1="105.7" y1="1125.9" x2="111.7" y2="1125.9" stroke="#000" stroke-width="1.8" />
<line x1="105.7" y1="1070.8" x2="111.7" y2="1070.8" stroke="#000" stroke-width="1.8" />
<line x1="105.7" y1="1440" x2="108.7" y2="1440" stroke="#000" stroke-width="1.5" />
<line x1="105.7" y1="1430.3" x2="108.7" y2="1430.3" stroke="#000" stroke-width="1.5" />
<line x1="105.7" y1="1423.4" x2="108.7" y2="1423.4" stroke="#000" stroke-width="1.5" />
<line x1="105.7" y1="1418.1" x2="108.7" y2="1418.1" stroke="#000" stroke-width="1.5" />
<line x1="105.7" y1="1413.7" x2="108.7" y2="1413.7" stroke="#000" stroke-width="1.5" />
<line x1="105.7" y1="1410" x2="108.7" y2="1410" stroke="#000" stroke-width="1.5" />
<line x1="105.7" y1="1406.8" x2="108.7" y2="1406.8" stroke="#000" stroke-width="1.5" />
<line x1="105.7" y1="1404" x2="108.7" y2="1404" stroke="#000" stroke-width="1.5" />
<line x1="105.7" y1="1384.9" x2="108.7" y2="1384.9" stroke="#000" stroke-width="1.5" />
<line x1="105.7" y1="1375.2" x2="108.7" y2="1375.2" stroke="#000" stroke-width="1.5" />
<line x1="105.7" y1="1368.3" x2="108.7" y2="1368.3" stroke="#000" stroke-width="1.5" />
<line x1="105.7" y1="1363" x2="108.7" y2="1363" stroke="#000" stroke-width="1.5" />
<line x1="105.7" y1="1358.6" x2="108.7" y2="1358.6" stroke="#000" stroke-width="1.5" />
<line x1="105.7" y1="1354.9" x2="108.7" y2="1354.9" stroke="#000" stroke-width="1.5" />
<line x1="105.7" y1="1351.7" x2="108.7" y2="1351.7" stroke="#000" stroke-width="1.5" />
<line x1="105.7" y1="1348.9" x2="108.7" y2="1348.9" stroke="#000" stroke-width="1.5" />
<line x1="105.7" y1="1329.8" x2="108.7" y2="1329.8" stroke="#000" stroke-width="1.5" />
<line x1="105.7" y1="1320.1" x2="108.7" y2="1320.1" stroke="#000" stroke-width="1.5" />
<line x1="105.7" y1="1313.2" x2="108.7" y2="1313.2" stroke="#000" stroke-width="1.5" />
<line x1="105.7" y1="1307.8" x2="108.7" y2="1307.8" stroke="#000" stroke-width="1.5" />
<line x1="105.7" y1="1303.5" x2="108.7" y2="1303.5" stroke="#000" stroke-width="1.5" />
<line x1="105.7" y1="1299.8" x2="108.7" y2="1299.8" stroke="#000" stroke-width="1.5" />
<line x1="105.7" y1="1296.6" x2="108.7" y2="1296.6" stroke="#000" stroke-width="1.5" />
<line x1="105.7" y1="1293.8" x2="108.7" y2="1293.8" stroke="#000" stroke-width="1.5" />
<line x1="105.7" y1="1274.7" x2="108.7" y2="1274.7" stroke="#000" stroke-width="1.5" />
<line x1="105.7" y1="1265" x2="108.7" y2="1265" stroke="#000" stroke-width="1.5" />
<line x1="105.7" y1="1258.1" x2="108.7" y2="1258.1" stroke="#000" stroke-width="1.5" />
<line x1="105.7" y1="1252.7" x2="108.7" y2="1252.7" stroke="#000" stroke-width="1.5" />
<line x1="105.7" y1="1248.4" x2="108.7" y2="1248.4" stroke="#000" stroke-width="1.5" />
<line x1="105.7" y1="1244.7" x2="108.7" y2="1244.7" stroke="#000" stroke-width="1.5" />
<line x1="105.7" y1="1241.5" x2="108.7" y2="1241.5" stroke="#000" stroke-width="1.5" />
<line x1="105.7" y1="1238.7" x2="108.7" y2="1238.7" stroke="#000" stroke-width="1.5" />
<line x1="105.7" y1="1219.6" x2="108.7" y2="1219.6" stroke="#000" stroke-width="1.5" />
<line x1="105.7" y1="1209.8" x2="108.7" y2="1209.8" stroke="#000" stroke-width="1.5" />
<line x1="105.7" y1="1203" x2="108.7" y2="1203" stroke="#000" stroke-width="1.5" />
<line x1="105.7" y1="1197.6" x2="108.7" y2="1197.6" stroke="#000" stroke-width="1.5" />
<line x1="105.7" y1="1193.3" x2="108.7" y2="1193.3" stroke="#000" stroke-width="1.5" />
<line x1="105.7" y1="1189.6" x2="108.7" y2="1189.6" stroke="#000" stroke-width="1.5" />
<line x1="105.7" y1="1186.4" x2="108.7" y2="1186.4" stroke="#000" stroke-width="1.5" />
<line x1="105.7" y1="1183.6" x2="108.7" y2="1183.6" stroke="#000" stroke-width="1.5" />
<line x1="105.7" y1="1164.4" x2="108.7" y2="1164.4" stroke="#000" stroke-width="1.5" />
<line x1="105.7" y1="1154.7" x2="108.7" y2="1154.7" stroke="#000" stroke-width="1.5" />
<line x1="105.7" y1="1147.8" x2="108.7" y2="1147.8" stroke="#000" stroke-width="1.5" />
<line x1="105.7" y1="1142.5" x2="108.7" y2="1142.5" stroke="#000" stroke-width="1.5" />
<line x1="105.7" y1="1138.1" x2="108.7" y2="1138.1" stroke="#000" stroke-width="1.5" />
<line x1="105.7" y1="1134.5" x2="108.7" y2="1134.5" stroke="#000" stroke-width="1.5" />
<line x1="105.7" y1="1131.3" x2="108.7" y2="1131.3" stroke="#000" stroke-width="1.5" />
<line x1="105.7" y1="1128.4" x2="108.7" y2="1128.4" stroke="#000" stroke-width="1.5" />
<line x1="105.7" y1="1109.3" x2="108.7" y2="1109.3" stroke="#000" stroke-width="1.5" />
<line x1="105.7" y1="1099.6" x2="108.7" y2="1099.6" stroke="#000" stroke-width="1.5" />
<line x1="105.7" y1="1092.7" x2="108.7" y2="1092.7" stroke="#000" stroke-width="1.5" />
<line x1="105.7" y1="1087.4" x2="108.7" y2="1087.4" stroke="#000" stroke-width="1.5" />
<line x1="105.7" y1="1083" x2="108.7" y2="1083" stroke="#000" stroke-width="1.5" />
<line x1="105.7" y1="1079.3" x2="108.7" y2="1079.3" stroke="#000" stroke-width="1.5" />
<line x1="105.7" y1="1076.1" x2="108.7" y2="1076.1" stroke="#000" stroke-width="1.5" />
<line x1="105.7" y1="1073.3" x2="108.7" y2="1073.3" stroke="#000" stroke-width="1.5" />
<rect x="377.4" y="1070.6" width="256.6" height="386" fill="none" stroke="#000" stroke-width="2.6"/>
<line x1="377.4" y1="1456.6" x2="383.4" y2="1456.6" stroke="#000" stroke-width="1.8" />
<line x1="377.4" y1="1401.5" x2="383.4" y2="1401.5" stroke="#000" stroke-width="1.8" />
<line x1="377.4" y1="1346.4" x2="383.4" y2="1346.4" stroke="#000" stroke-width="1.8" />
<line x1="377.4" y1="1291.3" x2="383.4" y2="1291.3" stroke="#000" stroke-width="1.8" />
<line x1="377.4" y1="1236.1" x2="383.4" y2="1236.1" stroke="#000" stroke-width="1.8" />
<line x1="377.4" y1="1181" x2="383.4" y2="1181" stroke="#000" stroke-width="1.8" />
<line x1="377.4" y1="1125.9" x2="383.4" y2="1125.9" stroke="#000" stroke-width="1.8" />
<line x1="377.4" y1="1070.8" x2="383.4" y2="1070.8" stroke="#000" stroke-width="1.8" />
<line x1="377.4" y1="1440" x2="380.4" y2="1440" stroke="#000" stroke-width="1.5" />
<line x1="377.4" y1="1430.3" x2="380.4" y2="1430.3" stroke="#000" stroke-width="1.5" />
<line x1="377.4" y1="1423.4" x2="380.4" y2="1423.4" stroke="#000" stroke-width="1.5" />
<line x1="377.4" y1="1418.1" x2="380.4" y2="1418.1" stroke="#000" stroke-width="1.5" />
<line x1="377.4" y1="1413.7" x2="380.4" y2="1413.7" stroke="#000" stroke-width="1.5" />
<line x1="377.4" y1="1410" x2="380.4" y2="1410" stroke="#000" stroke-width="1.5" />
<line x1="377.4" y1="1406.8" x2="380.4" y2="1406.8" stroke="#000" stroke-width="1.5" />
<line x1="377.4" y1="1404" x2="380.4" y2="1404" stroke="#000" stroke-width="1.5" />
<line x1="377.4" y1="1384.9" x2="380.4" y2="1384.9" stroke="#000" stroke-width="1.5" />
<line x1="377.4" y1="1375.2" x2="380.4" y2="1375.2" stroke="#000" stroke-width="1.5" />
<line x1="377.4" y1="1368.3" x2="380.4" y2="1368.3" stroke="#000" stroke-width="1.5" />
<line x1="377.4" y1="1363" x2="380.4" y2="1363" stroke="#000" stroke-width="1.5" />
<line x1="377.4" y1="1358.6" x2="380.4" y2="1358.6" stroke="#000" stroke-width="1.5" />
<line x1="377.4" y1="1354.9" x2="380.4" y2="1354.9" stroke="#000" stroke-width="1.5" />
<line x1="377.4" y1="1351.7" x2="380.4" y2="1351.7" stroke="#000" stroke-width="1.5" />
<line x1="377.4" y1="1348.9" x2="380.4" y2="1348.9" stroke="#000" stroke-width="1.5" />
<line x1="377.4" y1="1329.8" x2="380.4" y2="1329.8" stroke="#000" stroke-width="1.5" />
<line x1="377.4" y1="1320.1" x2="380.4" y2="1320.1" stroke="#000" stroke-width="1.5" />
<line x1="377.4" y1="1313.2" x2="380.4" y2="1313.2" stroke="#000" stroke-width="1.5" />
<line x1="377.4" y1="1307.8" x2="380.4" y2="1307.8" stroke="#000" stroke-width="1.5" />
<line x1="377.4" y1="1303.5" x2="380.4" y2="1303.5" stroke="#000" stroke-width="1.5" />
<line x1="377.4" y1="1299.8" x2="380.4" y2="1299.8" stroke="#000" stroke-width="1.5" />
<line x1="377.4" y1="1296.6" x2="380.4" y2="1296.6" stroke="#000" stroke-width="1.5" />
<line x1="377.4" y1="1293.8" x2="380.4" y2="1293.8" stroke="#000" stroke-width="1.5" />
<line x1="377.4" y1="1274.7" x2="380.4" y2="1274.7" stroke="#000" stroke-width="1.5" />
<line x1="377.4" y1="1265" x2="380.4" y2="1265" stroke="#000" stroke-width="1.5" />
<line x1="377.4" y1="1258.1" x2="380.4" y2="1258.1" stroke="#000" stroke-width="1.5" />
<line x1="377.4" y1="1252.7" x2="380.4" y2="1252.7" stroke="#000" stroke-width="1.5" />
<line x1="377.4" y1="1248.4" x2="380.4" y2="1248.4" stroke="#000" stroke-width="1.5" />
<line x1="377.4" y1="1244.7" x2="380.4" y2="1244.7" stroke="#000" stroke-width="1.5" />
<line x1="377.4" y1="1241.5" x2="380.4" y2="1241.5" stroke="#000" stroke-width="1.5" />
<line x1="377.4" y1="1238.7" x2="380.4" y2="1238.7" stroke="#000" stroke-width="1.5" />
<line x1="377.4" y1="1219.6" x2="380.4" y2="1219.6" stroke="#000" stroke-width="1.5" />
<line x1="377.4" y1="1209.8" x2="380.4" y2="1209.8" stroke="#000" stroke-width="1.5" />
<line x1="377.4" y1="1203" x2="380.4" y2="1203" stroke="#000" stroke-width="1.5" />
<line x1="377.4" y1="1197.6" x2="380.4" y2="1197.6" stroke="#000" stroke-width="1.5" />
<line x1="377.4" y1="1193.3" x2="380.4" y2="1193.3" stroke="#000" stroke-width="1.5" />
<line x1="377.4" y1="1189.6" x2="380.4" y2="1189.6" stroke="#000" stroke-width="1.5" />
<line x1="377.4" y1="1186.4" x2="380.4" y2="1186.4" stroke="#000" stroke-width="1.5" />
<line x1="377.4" y1="1183.6" x2="380.4" y2="1183.6" stroke="#000" stroke-width="1.5" />
<line x1="377.4" y1="1164.4" x2="380.4" y2="1164.4" stroke="#000" stroke-width="1.5" />
<line x1="377.4" y1="1154.7" x2="380.4" y2="1154.7" stroke="#000" stroke-width="1.5" />
<line x1="377.4" y1="1147.8" x2="380.4" y2="1147.8" stroke="#000" stroke-width="1.5" />
<line x1="377.4" y1="1142.5" x2="380.4" y2="1142.5" stroke="#000" stroke-width="1.5" />
<line x1="377.4" y1="1138.1" x2="380.4" y2="1138.1" stroke="#000" stroke-width="1.5" />
<line x1="377.4" y1="1134.5" x2="380.4" y2="1134.5" stroke="#000" stroke-width="1.5" />
<line x1="377.4" y1="1131.3" x2="380.4" y2="1131.3" stroke="#000" stroke-width="1.5" />
<line x1="377.4" y1="1128.4" x2="380.4" y2="1128.4" stroke="#000" stroke-width="1.5" />
<line x1="377.4" y1="1109.3" x2="380.4" y2="1109.3" stroke="#000" stroke-width="1.5" />
<line x1="377.4" y1="1099.6" x2="380.4" y2="1099.6" stroke="#000" stroke-width="1.5" />
<line x1="377.4" y1="1092.7" x2="380.4" y2="1092.7" stroke="#000" stroke-width="1.5" />
<line x1="377.4" y1="1087.4" x2="380.4" y2="1087.4" stroke="#000" stroke-width="1.5" />
<line x1="377.4" y1="1083" x2="380.4" y2="1083" stroke="#000" stroke-width="1.5" />
<line x1="377.4" y1="1079.3" x2="380.4" y2="1079.3" stroke="#000" stroke-width="1.5" />
<line x1="377.4" y1="1076.1" x2="380.4" y2="1076.1" stroke="#000" stroke-width="1.5" />
<line x1="377.4" y1="1073.3" x2="380.4" y2="1073.3" stroke="#000" stroke-width="1.5" />
<line x1="116" y1="1456.6" x2="116" y2="1450.6" stroke="#000" stroke-width="1.8" />
<line x1="219" y1="1456.6" x2="219" y2="1450.6" stroke="#000" stroke-width="1.8" />
<line x1="322" y1="1456.6" x2="322" y2="1450.6" stroke="#000" stroke-width="1.8" />
<line x1="136.6" y1="1456.6" x2="136.6" y2="1453.6" stroke="#000" stroke-width="1.5" />
<line x1="157.2" y1="1456.6" x2="157.2" y2="1453.6" stroke="#000" stroke-width="1.5" />
<line x1="177.8" y1="1456.6" x2="177.8" y2="1453.6" stroke="#000" stroke-width="1.5" />
<line x1="198.4" y1="1456.6" x2="198.4" y2="1453.6" stroke="#000" stroke-width="1.5" />
<line x1="239.6" y1="1456.6" x2="239.6" y2="1453.6" stroke="#000" stroke-width="1.5" />
<line x1="260.2" y1="1456.6" x2="260.2" y2="1453.6" stroke="#000" stroke-width="1.5" />
<line x1="280.8" y1="1456.6" x2="280.8" y2="1453.6" stroke="#000" stroke-width="1.5" />
<line x1="301.4" y1="1456.6" x2="301.4" y2="1453.6" stroke="#000" stroke-width="1.5" />
<line x1="342.6" y1="1456.6" x2="342.6" y2="1453.6" stroke="#000" stroke-width="1.5" />
<line x1="379.2" y1="1456.6" x2="379.2" y2="1450.6" stroke="#000" stroke-width="1.8" />
<line x1="506.6" y1="1456.6" x2="506.6" y2="1450.6" stroke="#000" stroke-width="1.8" />
<line x1="634" y1="1456.6" x2="634" y2="1450.6" stroke="#000" stroke-width="1.8" />
<line x1="404.7" y1="1456.6" x2="404.7" y2="1453.6" stroke="#000" stroke-width="1.5" />
<line x1="430.2" y1="1456.6" x2="430.2" y2="1453.6" stroke="#000" stroke-width="1.5" />
<line x1="455.6" y1="1456.6" x2="455.6" y2="1453.6" stroke="#000" stroke-width="1.5" />
<line x1="481.1" y1="1456.6" x2="481.1" y2="1453.6" stroke="#000" stroke-width="1.5" />
<line x1="532.1" y1="1456.6" x2="532.1" y2="1453.6" stroke="#000" stroke-width="1.5" />
<line x1="557.6" y1="1456.6" x2="557.6" y2="1453.6" stroke="#000" stroke-width="1.5" />
<line x1="583" y1="1456.6" x2="583" y2="1453.6" stroke="#000" stroke-width="1.5" />
<line x1="608.5" y1="1456.6" x2="608.5" y2="1453.6" stroke="#000" stroke-width="1.5" />
<text x="100" y="1465.6" font-size="24.5" text-anchor="end" >10<tspan font-size="16.5" dy="-9.2">−14</tspan></text>
<text x="100" y="1410.5" font-size="24.5" text-anchor="end" >10<tspan font-size="16.5" dy="-9.2">−13</tspan></text>
<text x="100" y="1355.4" font-size="24.5" text-anchor="end" >10<tspan font-size="16.5" dy="-9.2">−12</tspan></text>
<text x="100" y="1300.3" font-size="24.5" text-anchor="end" >10<tspan font-size="16.5" dy="-9.2">−11</tspan></text>
<text x="100" y="1245.1" font-size="24.5" text-anchor="end" >10<tspan font-size="16.5" dy="-9.2">−10</tspan></text>
<text x="100" y="1190" font-size="24.5" text-anchor="end" >10<tspan font-size="16.5" dy="-9.2">−9</tspan></text>
<text x="100" y="1134.9" font-size="24.5" text-anchor="end" >10<tspan font-size="16.5" dy="-9.2">−8</tspan></text>
<text x="100" y="1079.8" font-size="24.5" text-anchor="end" >10<tspan font-size="16.5" dy="-9.2">−7</tspan></text>
<text x="116" y="1489.2" font-size="25" text-anchor="middle" >0</text>
<text x="219" y="1489.2" font-size="25" text-anchor="middle" >200</text>
<text x="322" y="1489.2" font-size="25" text-anchor="middle" >400</text>
<text x="379.2" y="1489.2" font-size="25" text-anchor="middle" >0</text>
<text x="506.1" y="1489.2" font-size="25" text-anchor="middle" >5,000</text>
<text x="633.5" y="1489.2" font-size="25" text-anchor="middle" >10,000</text>
<text x="326.5" y="1524" font-size="30" text-anchor="start" >Time (s)</text>
<text transform="translate(29.3,1260.4) rotate(-90)" font-size="31" text-anchor="middle"><tspan font-style="italic">I</tspan><tspan font-size="17.5" dy="10">DS</tspan><tspan dy="-10">​</tspan> (A)</text>
<text x="22.5" y="1068.8" font-size="29.5" text-anchor="start" >g</text>
<polyline points="791,1122.5 802,1122.5" fill="none" stroke="#e3211b" stroke-width="11.5" stroke-linejoin="round" stroke-linecap="round" stroke-linecap="round"/>
<line x1="802.2" y1="1128" x2="802.2" y2="1145" stroke="#e3211b" stroke-width="2" />
<circle cx="802.6" cy="1147.3" r="5.3" fill="#e3211b" stroke="#e3211b" stroke-width="0"/>
<polyline points="803,1155 803,1158.5 820,1158.5 840,1158 855,1157.3" fill="none" stroke="#e3211b" stroke-width="11" stroke-linejoin="round" stroke-linecap="round" stroke-linecap="round"/>
<line x1="855.6" y1="1163" x2="855.6" y2="1216" stroke="#e3211b" stroke-width="2" />
<polyline points="856,1221.5 863.1,1220.7 870.1,1221 877.2,1220.2 884.2,1220.1 891.3,1219.9 898.4,1219.4 905.4,1219.7 912.5,1219.5" fill="none" stroke="#e3211b" stroke-width="11.5" stroke-linejoin="round" stroke-linecap="round" stroke-linecap="round"/>
<line x1="912.9" y1="1226" x2="913.5" y2="1349" stroke="#e3211b" stroke-width="2" />
<polyline points="914.5,1355 920.9,1354.3 927.4,1354 933.8,1353 940.2,1352.4 946.7,1351.6 953.1,1351 959.6,1350.1 966,1349.5" fill="none" stroke="#e3211b" stroke-width="11.5" stroke-linejoin="round" stroke-linecap="round" stroke-linecap="round"/>
<line x1="966.8" y1="1355" x2="967" y2="1392" stroke="#e3211b" stroke-width="2" />
<g fill="#e3211b">
<circle cx="966.8" cy="1393.1" r="5.3"/>
<circle cx="967" cy="1404" r="5.3"/>
<circle cx="969" cy="1408" r="5.3"/>
<circle cx="972" cy="1411" r="5.3"/>
<circle cx="976" cy="1407" r="5.3"/>
<circle cx="979" cy="1411" r="5.3"/>
<circle cx="982" cy="1414" r="5.3"/>
<circle cx="986" cy="1416" r="5.3"/>
<circle cx="990" cy="1416" r="5.3"/>
<circle cx="993" cy="1418" r="5.3"/>
<circle cx="996" cy="1415" r="5.3"/>
<circle cx="1000" cy="1414" r="5.3"/>
<circle cx="1004" cy="1413" r="5.3"/>
<circle cx="1007" cy="1410" r="5.3"/>
<circle cx="1010" cy="1414" r="5.3"/>
<circle cx="1013" cy="1417" r="5.3"/>
<circle cx="1016" cy="1417" r="5.3"/>
<circle cx="1020" cy="1416" r="5.3"/>
<circle cx="1024" cy="1416" r="5.3"/>
<circle cx="1028" cy="1416" r="5.3"/>
<circle cx="1031" cy="1415" r="5.3"/>
<circle cx="971" cy="1405" r="5.3"/>
<circle cx="984" cy="1409" r="5.3"/>
<circle cx="1001" cy="1418" r="5.3"/>
<circle cx="1018" cy="1412" r="5.3"/>
</g>
<line x1="791.8" y1="1086.5" x2="791.8" y2="1110.5" stroke="#30a8e0" stroke-width="1.9" />
<polyline points="787.5,1102.5 791.8,1110.5 796.1,1102.5" fill="none" stroke="#30a8e0" stroke-width="1.71" stroke-linejoin="round" stroke-linecap="round" />
<line x1="803.6" y1="1186.7" x2="803.6" y2="1163.5" stroke="#e84030" stroke-width="1.9" />
<polyline points="807.9,1171.5 803.6,1163.5 799.3,1171.5" fill="none" stroke="#e84030" stroke-width="1.71" stroke-linejoin="round" stroke-linecap="round" />
<line x1="854.5" y1="1251.1" x2="854.5" y2="1227.8" stroke="#e84030" stroke-width="1.9" />
<polyline points="858.8,1235.8 854.5,1227.8 850.2,1235.8" fill="none" stroke="#e84030" stroke-width="1.71" stroke-linejoin="round" stroke-linecap="round" />
<line x1="911.4" y1="1388.1" x2="911.4" y2="1363.5" stroke="#e84030" stroke-width="1.9" />
<polyline points="915.7,1371.5 911.4,1363.5 907.1,1371.5" fill="none" stroke="#e84030" stroke-width="1.71" stroke-linejoin="round" stroke-linecap="round" />
<line x1="967.3" y1="1316.6" x2="967.3" y2="1341.3" stroke="#e84030" stroke-width="1.9" />
<polyline points="963,1333.3 967.3,1341.3 971.6,1333.3" fill="none" stroke="#e84030" stroke-width="1.71" stroke-linejoin="round" stroke-linecap="round" />
<text x="801.5" y="1102.2" font-size="20.5" text-anchor="start" style="fill:#1a70b8;stroke:#1a70b8">-15 V, 0.1 s</text>
<text x="814.5" y="1124.7" font-size="22" text-anchor="start" >state-0</text>
<text x="871.5" y="1163.1" font-size="22" text-anchor="start" >state-1</text>
<text x="926.5" y="1221.8" font-size="22" text-anchor="start" >state-2</text>
<text x="832.5" y="1363.1" font-size="22" text-anchor="start" >state-3</text>
<text x="898.5" y="1427.5" font-size="22" text-anchor="start" >state-4</text>
<text x="790.5" y="1205.3" font-size="20.5" text-anchor="start" style="fill:#e3141e;stroke:#e3141e">15 V</text>
<text x="790.5" y="1231.1" font-size="20.5" text-anchor="start" style="fill:#e3141e;stroke:#e3141e">10 µs</text>
<text x="787.5" y="1407.5" font-size="21" text-anchor="start" ><tspan font-style="italic">V</tspan><tspan font-size="12.5" dy="6.5">DS</tspan><tspan dy="-6.5">​</tspan> = -0.1 V</text>
<polyline points="1051,1104.9 1055.3,1105.5 1059.5,1105.3 1063.8,1105.7 1068.1,1105.8 1072.4,1105 1076.6,1105 1080.9,1106.5 1085.2,1105.6 1089.4,1105.7 1093.7,1107 1098,1106.3 1102.3,1107 1106.5,1106.5 1110.8,1106.9 1115.1,1106.2 1119.3,1107.1 1123.6,1107.6 1127.9,1107.2 1132.2,1107.7 1136.4,1107.8 1140.7,1106.9 1145,1108.2 1149.2,1108.1 1153.5,1107.8 1157.8,1107.6 1162.1,1109.1 1166.3,1108.7 1170.6,1109.3 1174.9,1109.7 1179.1,1109.7 1183.4,1110.3 1187.7,1109.7 1191.9,1110.5 1196.2,1110.2 1200.5,1111.3 1204.8,1111.4 1209,1110.4 1213.3,1110.8 1217.6,1111.2 1221.8,1112.7 1226.1,1112.1 1230.4,1112.7 1234.7,1112.5 1238.9,1113.1 1243.2,1113.3 1247.5,1113.5 1251.7,1114.2 1256,1114.5 1260.3,1115.4 1264.6,1115.4 1268.8,1116.1 1273.1,1116.3 1277.4,1116.9 1281.6,1116.7 1285.9,1116.3 1290.2,1117.7 1294.5,1118.2 1298.7,1118.5 1303,1118.3" fill="none" stroke="#e3211b" stroke-width="14" stroke-linejoin="round" stroke-linecap="round" stroke-linecap="butt"/>
<g fill="#808080">
<circle cx="1055" cy="1412.4" r="5.4"/>
<circle cx="1056.5" cy="1404.4" r="5.4"/>
<circle cx="1058.1" cy="1414.3" r="5.4"/>
<circle cx="1059.6" cy="1410.2" r="5.4"/>
<circle cx="1061.2" cy="1405.6" r="5.4"/>
<circle cx="1062.7" cy="1402" r="5.4"/>
<circle cx="1064.2" cy="1414.7" r="5.4"/>
<circle cx="1065.8" cy="1416.8" r="5.4"/>
<circle cx="1067.3" cy="1402.4" r="5.4"/>
<circle cx="1068.9" cy="1413.8" r="5.4"/>
<circle cx="1070.4" cy="1407.6" r="5.4"/>
<circle cx="1071.9" cy="1403.4" r="5.4"/>
<circle cx="1073.5" cy="1405.7" r="5.4"/>
<circle cx="1075" cy="1413.3" r="5.4"/>
<circle cx="1076.6" cy="1415" r="5.4"/>
<circle cx="1078.1" cy="1401.7" r="5.4"/>
<circle cx="1079.7" cy="1410.8" r="5.4"/>
<circle cx="1081.2" cy="1401.7" r="5.4"/>
<circle cx="1082.7" cy="1412.5" r="5.4"/>
<circle cx="1084.3" cy="1406.3" r="5.4"/>
<circle cx="1085.8" cy="1415.1" r="5.4"/>
<circle cx="1087.4" cy="1416.7" r="5.4"/>
<circle cx="1088.9" cy="1409.1" r="5.4"/>
<circle cx="1090.4" cy="1417" r="5.4"/>
<circle cx="1092" cy="1406" r="5.4"/>
<circle cx="1093.5" cy="1402.2" r="5.4"/>
<circle cx="1095.1" cy="1410.6" r="5.4"/>
<circle cx="1096.6" cy="1401.5" r="5.4"/>
<circle cx="1098.1" cy="1404.2" r="5.4"/>
<circle cx="1099.7" cy="1407.5" r="5.4"/>
<circle cx="1101.2" cy="1410.8" r="5.4"/>
<circle cx="1102.8" cy="1403.5" r="5.4"/>
<circle cx="1104.3" cy="1401.7" r="5.4"/>
<circle cx="1105.8" cy="1414.9" r="5.4"/>
<circle cx="1107.4" cy="1406" r="5.4"/>
<circle cx="1108.9" cy="1416.3" r="5.4"/>
<circle cx="1110.5" cy="1415.3" r="5.4"/>
<circle cx="1112" cy="1407" r="5.4"/>
<circle cx="1113.6" cy="1408.4" r="5.4"/>
<circle cx="1115.1" cy="1409.3" r="5.4"/>
<circle cx="1116.6" cy="1411.3" r="5.4"/>
<circle cx="1118.2" cy="1410.5" r="5.4"/>
<circle cx="1119.7" cy="1409.9" r="5.4"/>
<circle cx="1121.3" cy="1410.9" r="5.4"/>
<circle cx="1122.8" cy="1416" r="5.4"/>
<circle cx="1124.3" cy="1409.1" r="5.4"/>
<circle cx="1125.9" cy="1407.9" r="5.4"/>
<circle cx="1127.4" cy="1412.5" r="5.4"/>
<circle cx="1129" cy="1404.8" r="5.4"/>
<circle cx="1130.5" cy="1405.8" r="5.4"/>
<circle cx="1132" cy="1416.6" r="5.4"/>
<circle cx="1133.6" cy="1409.3" r="5.4"/>
<circle cx="1135.1" cy="1409.8" r="5.4"/>
<circle cx="1136.7" cy="1401.2" r="5.4"/>
<circle cx="1138.2" cy="1407.6" r="5.4"/>
<circle cx="1139.7" cy="1410.3" r="5.4"/>
<circle cx="1141.3" cy="1401.3" r="5.4"/>
<circle cx="1142.8" cy="1410.9" r="5.4"/>
<circle cx="1144.4" cy="1411.1" r="5.4"/>
<circle cx="1145.9" cy="1402" r="5.4"/>
<circle cx="1147.5" cy="1411" r="5.4"/>
<circle cx="1149" cy="1408.5" r="5.4"/>
<circle cx="1150.5" cy="1411.9" r="5.4"/>
<circle cx="1152.1" cy="1406.6" r="5.4"/>
<circle cx="1153.6" cy="1412.3" r="5.4"/>
<circle cx="1155.2" cy="1412.8" r="5.4"/>
<circle cx="1156.7" cy="1401.4" r="5.4"/>
<circle cx="1158.2" cy="1402" r="5.4"/>
<circle cx="1159.8" cy="1411.8" r="5.4"/>
<circle cx="1161.3" cy="1416.4" r="5.4"/>
<circle cx="1162.9" cy="1405" r="5.4"/>
<circle cx="1164.4" cy="1408.3" r="5.4"/>
<circle cx="1165.9" cy="1410.5" r="5.4"/>
<circle cx="1167.5" cy="1406.1" r="5.4"/>
<circle cx="1169" cy="1406.8" r="5.4"/>
<circle cx="1170.6" cy="1406" r="5.4"/>
<circle cx="1172.1" cy="1406.9" r="5.4"/>
<circle cx="1173.6" cy="1410.5" r="5.4"/>
<circle cx="1175.2" cy="1405.8" r="5.4"/>
<circle cx="1176.7" cy="1407" r="5.4"/>
<circle cx="1178.3" cy="1413.4" r="5.4"/>
<circle cx="1179.8" cy="1401.4" r="5.4"/>
<circle cx="1181.4" cy="1410.1" r="5.4"/>
<circle cx="1182.9" cy="1412.8" r="5.4"/>
<circle cx="1184.4" cy="1406" r="5.4"/>
<circle cx="1186" cy="1404.6" r="5.4"/>
<circle cx="1187.5" cy="1413.9" r="5.4"/>
<circle cx="1189.1" cy="1404.8" r="5.4"/>
<circle cx="1190.6" cy="1404" r="5.4"/>
<circle cx="1192.1" cy="1408" r="5.4"/>
<circle cx="1193.7" cy="1412.2" r="5.4"/>
<circle cx="1195.2" cy="1402.6" r="5.4"/>
<circle cx="1196.8" cy="1406.2" r="5.4"/>
<circle cx="1198.3" cy="1406.3" r="5.4"/>
<circle cx="1199.8" cy="1414.3" r="5.4"/>
<circle cx="1201.4" cy="1408" r="5.4"/>
<circle cx="1202.9" cy="1414.7" r="5.4"/>
<circle cx="1204.5" cy="1403.7" r="5.4"/>
<circle cx="1206" cy="1406.4" r="5.4"/>
<circle cx="1207.5" cy="1411.4" r="5.4"/>
<circle cx="1209.1" cy="1415.2" r="5.4"/>
<circle cx="1210.6" cy="1408.2" r="5.4"/>
<circle cx="1212.2" cy="1404.6" r="5.4"/>
<circle cx="1213.7" cy="1402.9" r="5.4"/>
<circle cx="1215.3" cy="1409.5" r="5.4"/>
<circle cx="1216.8" cy="1404.1" r="5.4"/>
<circle cx="1218.3" cy="1413.9" r="5.4"/>
<circle cx="1219.9" cy="1414.4" r="5.4"/>
<circle cx="1221.4" cy="1403.9" r="5.4"/>
<circle cx="1223" cy="1405.5" r="5.4"/>
<circle cx="1224.5" cy="1413.9" r="5.4"/>
<circle cx="1226" cy="1411.3" r="5.4"/>
<circle cx="1227.6" cy="1413.9" r="5.4"/>
<circle cx="1229.1" cy="1406.5" r="5.4"/>
<circle cx="1230.7" cy="1403.1" r="5.4"/>
<circle cx="1232.2" cy="1405.7" r="5.4"/>
<circle cx="1233.7" cy="1413.7" r="5.4"/>
<circle cx="1235.3" cy="1405.3" r="5.4"/>
<circle cx="1236.8" cy="1406.5" r="5.4"/>
<circle cx="1238.4" cy="1407.7" r="5.4"/>
<circle cx="1239.9" cy="1407.7" r="5.4"/>
<circle cx="1241.4" cy="1407.6" r="5.4"/>
<circle cx="1243" cy="1415.7" r="5.4"/>
<circle cx="1244.5" cy="1403.5" r="5.4"/>
<circle cx="1246.1" cy="1401.1" r="5.4"/>
<circle cx="1247.6" cy="1416.1" r="5.4"/>
<circle cx="1249.2" cy="1415.1" r="5.4"/>
<circle cx="1250.7" cy="1416.8" r="5.4"/>
<circle cx="1252.2" cy="1407.9" r="5.4"/>
<circle cx="1253.8" cy="1416.2" r="5.4"/>
<circle cx="1255.3" cy="1415.8" r="5.4"/>
<circle cx="1256.9" cy="1404.6" r="5.4"/>
<circle cx="1258.4" cy="1412.9" r="5.4"/>
<circle cx="1259.9" cy="1414.4" r="5.4"/>
<circle cx="1261.5" cy="1411.6" r="5.4"/>
<circle cx="1263" cy="1409.3" r="5.4"/>
<circle cx="1264.6" cy="1405.6" r="5.4"/>
<circle cx="1266.1" cy="1406.5" r="5.4"/>
<circle cx="1267.6" cy="1404.6" r="5.4"/>
<circle cx="1269.2" cy="1402.1" r="5.4"/>
<circle cx="1270.7" cy="1410.4" r="5.4"/>
<circle cx="1272.3" cy="1405.6" r="5.4"/>
<circle cx="1273.8" cy="1414" r="5.4"/>
<circle cx="1275.3" cy="1401.7" r="5.4"/>
<circle cx="1276.9" cy="1415.5" r="5.4"/>
<circle cx="1278.4" cy="1412.1" r="5.4"/>
<circle cx="1280" cy="1415.8" r="5.4"/>
<circle cx="1281.5" cy="1415.3" r="5.4"/>
<circle cx="1283.1" cy="1415.4" r="5.4"/>
<circle cx="1284.6" cy="1410.2" r="5.4"/>
<circle cx="1286.1" cy="1401.2" r="5.4"/>
<circle cx="1287.7" cy="1412.9" r="5.4"/>
<circle cx="1289.2" cy="1403.7" r="5.4"/>
<circle cx="1290.8" cy="1405.8" r="5.4"/>
<circle cx="1292.3" cy="1411.6" r="5.4"/>
<circle cx="1293.8" cy="1409.4" r="5.4"/>
<circle cx="1295.4" cy="1407.6" r="5.4"/>
<circle cx="1296.9" cy="1416" r="5.4"/>
<circle cx="1298.5" cy="1410.8" r="5.4"/>
<circle cx="1300" cy="1406.5" r="5.4"/>
<circle cx="1055" cy="1407.5" r="5.4"/>
<circle cx="1058.1" cy="1411.2" r="5.4"/>
<circle cx="1061.2" cy="1408.9" r="5.4"/>
<circle cx="1064.3" cy="1410.7" r="5.4"/>
<circle cx="1067.4" cy="1408.1" r="5.4"/>
<circle cx="1070.5" cy="1407.2" r="5.4"/>
<circle cx="1073.6" cy="1409.2" r="5.4"/>
<circle cx="1076.7" cy="1410.9" r="5.4"/>
<circle cx="1079.8" cy="1407" r="5.4"/>
<circle cx="1082.9" cy="1410.8" r="5.4"/>
<circle cx="1086" cy="1411.5" r="5.4"/>
<circle cx="1089.1" cy="1410.8" r="5.4"/>
<circle cx="1092.2" cy="1410.9" r="5.4"/>
<circle cx="1095.3" cy="1406" r="5.4"/>
<circle cx="1098.4" cy="1409.8" r="5.4"/>
<circle cx="1101.5" cy="1411.2" r="5.4"/>
<circle cx="1104.6" cy="1406.3" r="5.4"/>
<circle cx="1107.7" cy="1407.6" r="5.4"/>
<circle cx="1110.8" cy="1407.6" r="5.4"/>
<circle cx="1113.9" cy="1409.2" r="5.4"/>
<circle cx="1117" cy="1408.5" r="5.4"/>
<circle cx="1120.1" cy="1408.8" r="5.4"/>
<circle cx="1123.2" cy="1410.7" r="5.4"/>
<circle cx="1126.3" cy="1406" r="5.4"/>
<circle cx="1129.4" cy="1406.3" r="5.4"/>
<circle cx="1132.5" cy="1406.8" r="5.4"/>
<circle cx="1135.6" cy="1406.7" r="5.4"/>
<circle cx="1138.7" cy="1406.4" r="5.4"/>
<circle cx="1141.8" cy="1411.8" r="5.4"/>
<circle cx="1144.9" cy="1411.1" r="5.4"/>
<circle cx="1148" cy="1406.5" r="5.4"/>
<circle cx="1151.1" cy="1409" r="5.4"/>
<circle cx="1154.2" cy="1407.9" r="5.4"/>
<circle cx="1157.3" cy="1407.9" r="5.4"/>
<circle cx="1160.4" cy="1408.1" r="5.4"/>
<circle cx="1163.5" cy="1409.9" r="5.4"/>
<circle cx="1166.6" cy="1409.5" r="5.4"/>
<circle cx="1169.7" cy="1408.2" r="5.4"/>
<circle cx="1172.8" cy="1407.1" r="5.4"/>
<circle cx="1175.9" cy="1408" r="5.4"/>
<circle cx="1179.1" cy="1406.7" r="5.4"/>
<circle cx="1182.2" cy="1409.3" r="5.4"/>
<circle cx="1185.3" cy="1410.3" r="5.4"/>
<circle cx="1188.4" cy="1408.3" r="5.4"/>
<circle cx="1191.5" cy="1406.5" r="5.4"/>
<circle cx="1194.6" cy="1407.1" r="5.4"/>
<circle cx="1197.7" cy="1408.2" r="5.4"/>
<circle cx="1200.8" cy="1409.6" r="5.4"/>
<circle cx="1203.9" cy="1410.7" r="5.4"/>
<circle cx="1207" cy="1408.3" r="5.4"/>
<circle cx="1210.1" cy="1410.8" r="5.4"/>
<circle cx="1213.2" cy="1409.7" r="5.4"/>
<circle cx="1216.3" cy="1408.6" r="5.4"/>
<circle cx="1219.4" cy="1408.2" r="5.4"/>
<circle cx="1222.5" cy="1409" r="5.4"/>
<circle cx="1225.6" cy="1410.2" r="5.4"/>
<circle cx="1228.7" cy="1408.5" r="5.4"/>
<circle cx="1231.8" cy="1410.2" r="5.4"/>
<circle cx="1234.9" cy="1408.8" r="5.4"/>
<circle cx="1238" cy="1407.5" r="5.4"/>
<circle cx="1241.1" cy="1409.2" r="5.4"/>
<circle cx="1244.2" cy="1410.2" r="5.4"/>
<circle cx="1247.3" cy="1406.4" r="5.4"/>
<circle cx="1250.4" cy="1408.5" r="5.4"/>
<circle cx="1253.5" cy="1408.6" r="5.4"/>
<circle cx="1256.6" cy="1411.3" r="5.4"/>
<circle cx="1259.7" cy="1411.6" r="5.4"/>
<circle cx="1262.8" cy="1408.2" r="5.4"/>
<circle cx="1265.9" cy="1411.4" r="5.4"/>
<circle cx="1269" cy="1410.7" r="5.4"/>
<circle cx="1272.1" cy="1407.6" r="5.4"/>
<circle cx="1275.2" cy="1408.8" r="5.4"/>
<circle cx="1278.3" cy="1406.7" r="5.4"/>
<circle cx="1281.4" cy="1410.9" r="5.4"/>
<circle cx="1284.5" cy="1410" r="5.4"/>
<circle cx="1287.6" cy="1411.3" r="5.4"/>
<circle cx="1290.7" cy="1410.8" r="5.4"/>
<circle cx="1293.8" cy="1410" r="5.4"/>
<circle cx="1296.9" cy="1410.4" r="5.4"/>
<circle cx="1300" cy="1409.4" r="5.4"/>
<circle cx="1139.6" cy="1430.8" r="5.3"/>
<circle cx="1184.1" cy="1442.7" r="5.3"/>
<circle cx="1184" cy="1433" r="5.3"/>
<circle cx="1197" cy="1429.4" r="5.3"/>
<circle cx="1226.5" cy="1442.7" r="5.3"/>
<circle cx="1226" cy="1434" r="5.3"/>
<circle cx="1242.6" cy="1431.5" r="5.3"/>
<circle cx="1236" cy="1428" r="5.3"/>
<circle cx="1214" cy="1426" r="5.3"/>
<circle cx="1056" cy="1398" r="5.3"/>
<circle cx="1062" cy="1396" r="5.3"/>
<circle cx="1230" cy="1396" r="5.3"/>
<circle cx="1240" cy="1393" r="5.3"/>
<circle cx="1248" cy="1395" r="5.3"/>
</g>
<text x="1079" y="1220.1" font-size="21" text-anchor="start" ><tspan font-style="italic">V</tspan><tspan font-size="12.5" dy="6.5">DS</tspan><tspan dy="-6.5">​</tspan> = 0.1V</text>
<circle cx="1083" cy="1250.5" r="5.9" fill="#808080" stroke="#808080" stroke-width="0"/>
<text x="1096.5" y="1256" font-size="22" text-anchor="start" >state-0</text>
<rect x="1078.3" y="1278.3" width="11.4" height="11.2" fill="#e3211b" stroke="none" stroke-width="0" />
<text x="1096.5" y="1289.5" font-size="22" text-anchor="start" >state-4</text>
<rect x="779.6" y="1073.8" width="255.2" height="383" fill="none" stroke="#000" stroke-width="2.6"/>
<line x1="779.6" y1="1456" x2="785.6" y2="1456" stroke="#000" stroke-width="1.8" />
<line x1="779.6" y1="1401.4" x2="785.6" y2="1401.4" stroke="#000" stroke-width="1.8" />
<line x1="779.6" y1="1346.8" x2="785.6" y2="1346.8" stroke="#000" stroke-width="1.8" />
<line x1="779.6" y1="1292.2" x2="785.6" y2="1292.2" stroke="#000" stroke-width="1.8" />
<line x1="779.6" y1="1237.6" x2="785.6" y2="1237.6" stroke="#000" stroke-width="1.8" />
<line x1="779.6" y1="1183" x2="785.6" y2="1183" stroke="#000" stroke-width="1.8" />
<line x1="779.6" y1="1128.4" x2="785.6" y2="1128.4" stroke="#000" stroke-width="1.8" />
<line x1="779.6" y1="1073.8" x2="785.6" y2="1073.8" stroke="#000" stroke-width="1.8" />
<line x1="779.6" y1="1439.6" x2="782.6" y2="1439.6" stroke="#000" stroke-width="1.5" />
<line x1="779.6" y1="1429.9" x2="782.6" y2="1429.9" stroke="#000" stroke-width="1.5" />
<line x1="779.6" y1="1423.1" x2="782.6" y2="1423.1" stroke="#000" stroke-width="1.5" />
<line x1="779.6" y1="1417.8" x2="782.6" y2="1417.8" stroke="#000" stroke-width="1.5" />
<line x1="779.6" y1="1413.5" x2="782.6" y2="1413.5" stroke="#000" stroke-width="1.5" />
<line x1="779.6" y1="1409.9" x2="782.6" y2="1409.9" stroke="#000" stroke-width="1.5" />
<line x1="779.6" y1="1406.7" x2="782.6" y2="1406.7" stroke="#000" stroke-width="1.5" />
<line x1="779.6" y1="1403.9" x2="782.6" y2="1403.9" stroke="#000" stroke-width="1.5" />
<line x1="779.6" y1="1385" x2="782.6" y2="1385" stroke="#000" stroke-width="1.5" />
<line x1="779.6" y1="1375.3" x2="782.6" y2="1375.3" stroke="#000" stroke-width="1.5" />
<line x1="779.6" y1="1368.5" x2="782.6" y2="1368.5" stroke="#000" stroke-width="1.5" />
<line x1="779.6" y1="1363.2" x2="782.6" y2="1363.2" stroke="#000" stroke-width="1.5" />
<line x1="779.6" y1="1358.9" x2="782.6" y2="1358.9" stroke="#000" stroke-width="1.5" />
<line x1="779.6" y1="1355.3" x2="782.6" y2="1355.3" stroke="#000" stroke-width="1.5" />
<line x1="779.6" y1="1352.1" x2="782.6" y2="1352.1" stroke="#000" stroke-width="1.5" />
<line x1="779.6" y1="1349.3" x2="782.6" y2="1349.3" stroke="#000" stroke-width="1.5" />
<line x1="779.6" y1="1330.4" x2="782.6" y2="1330.4" stroke="#000" stroke-width="1.5" />
<line x1="779.6" y1="1320.7" x2="782.6" y2="1320.7" stroke="#000" stroke-width="1.5" />
<line x1="779.6" y1="1313.9" x2="782.6" y2="1313.9" stroke="#000" stroke-width="1.5" />
<line x1="779.6" y1="1308.6" x2="782.6" y2="1308.6" stroke="#000" stroke-width="1.5" />
<line x1="779.6" y1="1304.3" x2="782.6" y2="1304.3" stroke="#000" stroke-width="1.5" />
<line x1="779.6" y1="1300.7" x2="782.6" y2="1300.7" stroke="#000" stroke-width="1.5" />
<line x1="779.6" y1="1297.5" x2="782.6" y2="1297.5" stroke="#000" stroke-width="1.5" />
<line x1="779.6" y1="1294.7" x2="782.6" y2="1294.7" stroke="#000" stroke-width="1.5" />
<line x1="779.6" y1="1275.8" x2="782.6" y2="1275.8" stroke="#000" stroke-width="1.5" />
<line x1="779.6" y1="1266.1" x2="782.6" y2="1266.1" stroke="#000" stroke-width="1.5" />
<line x1="779.6" y1="1259.3" x2="782.6" y2="1259.3" stroke="#000" stroke-width="1.5" />
<line x1="779.6" y1="1254" x2="782.6" y2="1254" stroke="#000" stroke-width="1.5" />
<line x1="779.6" y1="1249.7" x2="782.6" y2="1249.7" stroke="#000" stroke-width="1.5" />
<line x1="779.6" y1="1246.1" x2="782.6" y2="1246.1" stroke="#000" stroke-width="1.5" />
<line x1="779.6" y1="1242.9" x2="782.6" y2="1242.9" stroke="#000" stroke-width="1.5" />
<line x1="779.6" y1="1240.1" x2="782.6" y2="1240.1" stroke="#000" stroke-width="1.5" />
<line x1="779.6" y1="1221.2" x2="782.6" y2="1221.2" stroke="#000" stroke-width="1.5" />
<line x1="779.6" y1="1211.5" x2="782.6" y2="1211.5" stroke="#000" stroke-width="1.5" />
<line x1="779.6" y1="1204.7" x2="782.6" y2="1204.7" stroke="#000" stroke-width="1.5" />
<line x1="779.6" y1="1199.4" x2="782.6" y2="1199.4" stroke="#000" stroke-width="1.5" />
<line x1="779.6" y1="1195.1" x2="782.6" y2="1195.1" stroke="#000" stroke-width="1.5" />
<line x1="779.6" y1="1191.5" x2="782.6" y2="1191.5" stroke="#000" stroke-width="1.5" />
<line x1="779.6" y1="1188.3" x2="782.6" y2="1188.3" stroke="#000" stroke-width="1.5" />
<line x1="779.6" y1="1185.5" x2="782.6" y2="1185.5" stroke="#000" stroke-width="1.5" />
<line x1="779.6" y1="1166.6" x2="782.6" y2="1166.6" stroke="#000" stroke-width="1.5" />
<line x1="779.6" y1="1156.9" x2="782.6" y2="1156.9" stroke="#000" stroke-width="1.5" />
<line x1="779.6" y1="1150.1" x2="782.6" y2="1150.1" stroke="#000" stroke-width="1.5" />
<line x1="779.6" y1="1144.8" x2="782.6" y2="1144.8" stroke="#000" stroke-width="1.5" />
<line x1="779.6" y1="1140.5" x2="782.6" y2="1140.5" stroke="#000" stroke-width="1.5" />
<line x1="779.6" y1="1136.9" x2="782.6" y2="1136.9" stroke="#000" stroke-width="1.5" />
<line x1="779.6" y1="1133.7" x2="782.6" y2="1133.7" stroke="#000" stroke-width="1.5" />
<line x1="779.6" y1="1130.9" x2="782.6" y2="1130.9" stroke="#000" stroke-width="1.5" />
<line x1="779.6" y1="1112" x2="782.6" y2="1112" stroke="#000" stroke-width="1.5" />
<line x1="779.6" y1="1102.3" x2="782.6" y2="1102.3" stroke="#000" stroke-width="1.5" />
<line x1="779.6" y1="1095.5" x2="782.6" y2="1095.5" stroke="#000" stroke-width="1.5" />
<line x1="779.6" y1="1090.2" x2="782.6" y2="1090.2" stroke="#000" stroke-width="1.5" />
<line x1="779.6" y1="1085.9" x2="782.6" y2="1085.9" stroke="#000" stroke-width="1.5" />
<line x1="779.6" y1="1082.3" x2="782.6" y2="1082.3" stroke="#000" stroke-width="1.5" />
<line x1="779.6" y1="1079.1" x2="782.6" y2="1079.1" stroke="#000" stroke-width="1.5" />
<line x1="779.6" y1="1076.3" x2="782.6" y2="1076.3" stroke="#000" stroke-width="1.5" />
<rect x="1049" y="1073.8" width="255.4" height="383" fill="none" stroke="#000" stroke-width="2.6"/>
<line x1="1049" y1="1456" x2="1055" y2="1456" stroke="#000" stroke-width="1.8" />
<line x1="1049" y1="1401.4" x2="1055" y2="1401.4" stroke="#000" stroke-width="1.8" />
<line x1="1049" y1="1346.8" x2="1055" y2="1346.8" stroke="#000" stroke-width="1.8" />
<line x1="1049" y1="1292.2" x2="1055" y2="1292.2" stroke="#000" stroke-width="1.8" />
<line x1="1049" y1="1237.6" x2="1055" y2="1237.6" stroke="#000" stroke-width="1.8" />
<line x1="1049" y1="1183" x2="1055" y2="1183" stroke="#000" stroke-width="1.8" />
<line x1="1049" y1="1128.4" x2="1055" y2="1128.4" stroke="#000" stroke-width="1.8" />
<line x1="1049" y1="1073.8" x2="1055" y2="1073.8" stroke="#000" stroke-width="1.8" />
<line x1="1049" y1="1439.6" x2="1052" y2="1439.6" stroke="#000" stroke-width="1.5" />
<line x1="1049" y1="1429.9" x2="1052" y2="1429.9" stroke="#000" stroke-width="1.5" />
<line x1="1049" y1="1423.1" x2="1052" y2="1423.1" stroke="#000" stroke-width="1.5" />
<line x1="1049" y1="1417.8" x2="1052" y2="1417.8" stroke="#000" stroke-width="1.5" />
<line x1="1049" y1="1413.5" x2="1052" y2="1413.5" stroke="#000" stroke-width="1.5" />
<line x1="1049" y1="1409.9" x2="1052" y2="1409.9" stroke="#000" stroke-width="1.5" />
<line x1="1049" y1="1406.7" x2="1052" y2="1406.7" stroke="#000" stroke-width="1.5" />
<line x1="1049" y1="1403.9" x2="1052" y2="1403.9" stroke="#000" stroke-width="1.5" />
<line x1="1049" y1="1385" x2="1052" y2="1385" stroke="#000" stroke-width="1.5" />
<line x1="1049" y1="1375.3" x2="1052" y2="1375.3" stroke="#000" stroke-width="1.5" />
<line x1="1049" y1="1368.5" x2="1052" y2="1368.5" stroke="#000" stroke-width="1.5" />
<line x1="1049" y1="1363.2" x2="1052" y2="1363.2" stroke="#000" stroke-width="1.5" />
<line x1="1049" y1="1358.9" x2="1052" y2="1358.9" stroke="#000" stroke-width="1.5" />
<line x1="1049" y1="1355.3" x2="1052" y2="1355.3" stroke="#000" stroke-width="1.5" />
<line x1="1049" y1="1352.1" x2="1052" y2="1352.1" stroke="#000" stroke-width="1.5" />
<line x1="1049" y1="1349.3" x2="1052" y2="1349.3" stroke="#000" stroke-width="1.5" />
<line x1="1049" y1="1330.4" x2="1052" y2="1330.4" stroke="#000" stroke-width="1.5" />
<line x1="1049" y1="1320.7" x2="1052" y2="1320.7" stroke="#000" stroke-width="1.5" />
<line x1="1049" y1="1313.9" x2="1052" y2="1313.9" stroke="#000" stroke-width="1.5" />
<line x1="1049" y1="1308.6" x2="1052" y2="1308.6" stroke="#000" stroke-width="1.5" />
<line x1="1049" y1="1304.3" x2="1052" y2="1304.3" stroke="#000" stroke-width="1.5" />
<line x1="1049" y1="1300.7" x2="1052" y2="1300.7" stroke="#000" stroke-width="1.5" />
<line x1="1049" y1="1297.5" x2="1052" y2="1297.5" stroke="#000" stroke-width="1.5" />
<line x1="1049" y1="1294.7" x2="1052" y2="1294.7" stroke="#000" stroke-width="1.5" />
<line x1="1049" y1="1275.8" x2="1052" y2="1275.8" stroke="#000" stroke-width="1.5" />
<line x1="1049" y1="1266.1" x2="1052" y2="1266.1" stroke="#000" stroke-width="1.5" />
<line x1="1049" y1="1259.3" x2="1052" y2="1259.3" stroke="#000" stroke-width="1.5" />
<line x1="1049" y1="1254" x2="1052" y2="1254" stroke="#000" stroke-width="1.5" />
<line x1="1049" y1="1249.7" x2="1052" y2="1249.7" stroke="#000" stroke-width="1.5" />
<line x1="1049" y1="1246.1" x2="1052" y2="1246.1" stroke="#000" stroke-width="1.5" />
<line x1="1049" y1="1242.9" x2="1052" y2="1242.9" stroke="#000" stroke-width="1.5" />
<line x1="1049" y1="1240.1" x2="1052" y2="1240.1" stroke="#000" stroke-width="1.5" />
<line x1="1049" y1="1221.2" x2="1052" y2="1221.2" stroke="#000" stroke-width="1.5" />
<line x1="1049" y1="1211.5" x2="1052" y2="1211.5" stroke="#000" stroke-width="1.5" />
<line x1="1049" y1="1204.7" x2="1052" y2="1204.7" stroke="#000" stroke-width="1.5" />
<line x1="1049" y1="1199.4" x2="1052" y2="1199.4" stroke="#000" stroke-width="1.5" />
<line x1="1049" y1="1195.1" x2="1052" y2="1195.1" stroke="#000" stroke-width="1.5" />
<line x1="1049" y1="1191.5" x2="1052" y2="1191.5" stroke="#000" stroke-width="1.5" />
<line x1="1049" y1="1188.3" x2="1052" y2="1188.3" stroke="#000" stroke-width="1.5" />
<line x1="1049" y1="1185.5" x2="1052" y2="1185.5" stroke="#000" stroke-width="1.5" />
<line x1="1049" y1="1166.6" x2="1052" y2="1166.6" stroke="#000" stroke-width="1.5" />
<line x1="1049" y1="1156.9" x2="1052" y2="1156.9" stroke="#000" stroke-width="1.5" />
<line x1="1049" y1="1150.1" x2="1052" y2="1150.1" stroke="#000" stroke-width="1.5" />
<line x1="1049" y1="1144.8" x2="1052" y2="1144.8" stroke="#000" stroke-width="1.5" />
<line x1="1049" y1="1140.5" x2="1052" y2="1140.5" stroke="#000" stroke-width="1.5" />
<line x1="1049" y1="1136.9" x2="1052" y2="1136.9" stroke="#000" stroke-width="1.5" />
<line x1="1049" y1="1133.7" x2="1052" y2="1133.7" stroke="#000" stroke-width="1.5" />
<line x1="1049" y1="1130.9" x2="1052" y2="1130.9" stroke="#000" stroke-width="1.5" />
<line x1="1049" y1="1112" x2="1052" y2="1112" stroke="#000" stroke-width="1.5" />
<line x1="1049" y1="1102.3" x2="1052" y2="1102.3" stroke="#000" stroke-width="1.5" />
<line x1="1049" y1="1095.5" x2="1052" y2="1095.5" stroke="#000" stroke-width="1.5" />
<line x1="1049" y1="1090.2" x2="1052" y2="1090.2" stroke="#000" stroke-width="1.5" />
<line x1="1049" y1="1085.9" x2="1052" y2="1085.9" stroke="#000" stroke-width="1.5" />
<line x1="1049" y1="1082.3" x2="1052" y2="1082.3" stroke="#000" stroke-width="1.5" />
<line x1="1049" y1="1079.1" x2="1052" y2="1079.1" stroke="#000" stroke-width="1.5" />
<line x1="1049" y1="1076.3" x2="1052" y2="1076.3" stroke="#000" stroke-width="1.5" />
<line x1="789.3" y1="1456.8" x2="789.3" y2="1450.8" stroke="#000" stroke-width="1.8" />
<line x1="891.5" y1="1456.8" x2="891.5" y2="1450.8" stroke="#000" stroke-width="1.8" />
<line x1="993.6" y1="1456.8" x2="993.6" y2="1450.8" stroke="#000" stroke-width="1.8" />
<line x1="809.7" y1="1456.8" x2="809.7" y2="1453.8" stroke="#000" stroke-width="1.5" />
<line x1="830.2" y1="1456.8" x2="830.2" y2="1453.8" stroke="#000" stroke-width="1.5" />
<line x1="850.6" y1="1456.8" x2="850.6" y2="1453.8" stroke="#000" stroke-width="1.5" />
<line x1="871" y1="1456.8" x2="871" y2="1453.8" stroke="#000" stroke-width="1.5" />
<line x1="911.9" y1="1456.8" x2="911.9" y2="1453.8" stroke="#000" stroke-width="1.5" />
<line x1="932.3" y1="1456.8" x2="932.3" y2="1453.8" stroke="#000" stroke-width="1.5" />
<line x1="952.7" y1="1456.8" x2="952.7" y2="1453.8" stroke="#000" stroke-width="1.5" />
<line x1="973.2" y1="1456.8" x2="973.2" y2="1453.8" stroke="#000" stroke-width="1.5" />
<line x1="1014" y1="1456.8" x2="1014" y2="1453.8" stroke="#000" stroke-width="1.5" />
<line x1="1051.4" y1="1456.8" x2="1051.4" y2="1450.8" stroke="#000" stroke-width="1.8" />
<line x1="1177.9" y1="1456.8" x2="1177.9" y2="1450.8" stroke="#000" stroke-width="1.8" />
<line x1="1304.4" y1="1456.8" x2="1304.4" y2="1450.8" stroke="#000" stroke-width="1.8" />
<line x1="1076.7" y1="1456.8" x2="1076.7" y2="1453.8" stroke="#000" stroke-width="1.5" />
<line x1="1102" y1="1456.8" x2="1102" y2="1453.8" stroke="#000" stroke-width="1.5" />
<line x1="1127.3" y1="1456.8" x2="1127.3" y2="1453.8" stroke="#000" stroke-width="1.5" />
<line x1="1152.6" y1="1456.8" x2="1152.6" y2="1453.8" stroke="#000" stroke-width="1.5" />
<line x1="1203.2" y1="1456.8" x2="1203.2" y2="1453.8" stroke="#000" stroke-width="1.5" />
<line x1="1228.5" y1="1456.8" x2="1228.5" y2="1453.8" stroke="#000" stroke-width="1.5" />
<line x1="1253.8" y1="1456.8" x2="1253.8" y2="1453.8" stroke="#000" stroke-width="1.5" />
<line x1="1279.1" y1="1456.8" x2="1279.1" y2="1453.8" stroke="#000" stroke-width="1.5" />
<text x="773.5" y="1465" font-size="24.5" text-anchor="end" >10<tspan font-size="16.5" dy="-9.2">−14</tspan></text>
<text x="773.5" y="1410.4" font-size="24.5" text-anchor="end" >10<tspan font-size="16.5" dy="-9.2">−13</tspan></text>
<text x="773.5" y="1355.8" font-size="24.5" text-anchor="end" >10<tspan font-size="16.5" dy="-9.2">−12</tspan></text>
<text x="773.5" y="1301.2" font-size="24.5" text-anchor="end" >10<tspan font-size="16.5" dy="-9.2">−11</tspan></text>
<text x="773.5" y="1246.6" font-size="24.5" text-anchor="end" >10<tspan font-size="16.5" dy="-9.2">−10</tspan></text>
<text x="773.5" y="1192" font-size="24.5" text-anchor="end" >10<tspan font-size="16.5" dy="-9.2">−9</tspan></text>
<text x="773.5" y="1137.4" font-size="24.5" text-anchor="end" >10<tspan font-size="16.5" dy="-9.2">−8</tspan></text>
<text x="773.5" y="1082.8" font-size="24.5" text-anchor="end" >10<tspan font-size="16.5" dy="-9.2">−7</tspan></text>
<text x="789.3" y="1489.2" font-size="25" text-anchor="middle" >0</text>
<text x="891.5" y="1489.2" font-size="25" text-anchor="middle" >200</text>
<text x="993.6" y="1489.2" font-size="25" text-anchor="middle" >400</text>
<text x="1051.4" y="1489.2" font-size="25" text-anchor="middle" >0</text>
<text x="1176.9" y="1489.2" font-size="25" text-anchor="middle" >5,000</text>
<text x="1303.9" y="1489.2" font-size="25" text-anchor="middle" >10,000</text>
<text x="1000.5" y="1525" font-size="30" text-anchor="start" >Time (s)</text>
<text transform="translate(706,1261.7) rotate(-90)" font-size="31" text-anchor="middle"><tspan font-style="italic">I</tspan><tspan font-size="17.5" dy="10">DS</tspan><tspan dy="-10">​</tspan> (A)</text>
<text x="694" y="1069.8" font-size="29.5" text-anchor="start" >h</text>
<path d="M1489.8,1079.9 C1499.1,1073.9 1514.1,1077.1 1529.6,1077.3 C1545.1,1077.5 1560.6,1077.9 1582.7,1081.2 C1604.8,1084.5 1635.8,1089.2 1662.3,1097.2 C1688.8,1105.2 1715.4,1116.6 1741.9,1129 C1768.4,1141.4 1797.2,1157.3 1821.5,1171.5 C1845.8,1185.7 1870.2,1200.6 1887.9,1213.9 C1905.6,1227.2 1916.7,1238.7 1927.7,1251.1 C1938.8,1263.5 1947.6,1275.8 1954.2,1288.2 C1960.8,1300.6 1965.7,1312.6 1967.5,1325.4 C1969.3,1338.2 1968,1354.2 1964.9,1365.2 C1961.8,1376.2 1957.4,1385.3 1949,1391.7 C1940.6,1398.1 1926.8,1402.4 1914.4,1403.7 C1902,1405 1887.9,1403 1874.6,1399.7 C1861.3,1396.4 1848.1,1390.4 1834.8,1383.8 C1821.5,1377.2 1808.3,1367.4 1795,1359.9 C1781.7,1352.4 1768.5,1346.2 1755.2,1338.7 C1741.9,1331.2 1728.7,1323.2 1715.4,1314.8 C1702.1,1306.4 1688.9,1295.7 1675.6,1288.2 C1662.3,1280.7 1649.1,1274.6 1635.8,1269.7 C1622.5,1264.8 1609.3,1261.7 1596,1259 C1582.7,1256.3 1569.5,1255.9 1556.2,1253.7 C1542.9,1251.5 1528.2,1250.2 1516.3,1245.8 C1504.3,1241.4 1492,1236 1484.5,1227.2 C1477,1218.4 1473.9,1205.1 1471.2,1192.7 C1468.5,1180.3 1468.1,1166.2 1468.6,1152.9 C1469,1139.6 1470.4,1125.3 1473.9,1113.1 C1477.4,1100.9 1480.5,1085.9 1489.8,1079.9Z" fill="#fbf7e7" stroke="none" stroke-width="0" />
<path d="M1560.1,1137 C1555.9,1144.9 1563,1165.7 1566.8,1179.4 C1570.6,1193.1 1577,1205.9 1582.7,1219.2 C1588.5,1232.5 1594.7,1246.6 1601.3,1259 C1607.9,1271.4 1614.5,1282.4 1622.5,1293.5 C1630.5,1304.6 1638.8,1315.2 1649,1325.4 C1659.2,1335.6 1671.5,1345.8 1683.5,1354.6 C1695.5,1363.4 1708.8,1372.3 1720.7,1378.5 C1732.7,1384.7 1742.8,1388.8 1755.2,1391.7 C1767.6,1394.6 1781.7,1395.9 1795,1395.7 C1808.3,1395.5 1821.5,1393.7 1834.8,1390.4 C1848.1,1387.1 1861.3,1382.2 1874.6,1375.8 C1887.9,1369.4 1902.5,1359 1914.4,1351.9 C1926.4,1344.8 1938.8,1339.2 1946.3,1333.4 C1953.8,1327.7 1958.3,1322.3 1959.6,1317.4 C1960.9,1312.5 1959.5,1307.3 1954.2,1304.2 C1948.9,1301.1 1938.8,1298.5 1927.7,1298.9 C1916.7,1299.3 1901.2,1302.4 1887.9,1306.8 C1874.6,1311.2 1861.4,1319.7 1848.1,1325.4 C1834.8,1331.2 1821.6,1338.2 1808.3,1341.3 C1795,1344.4 1780.5,1344.9 1768.5,1344 C1756.5,1343.1 1747.2,1340.4 1736.6,1336 C1726,1331.6 1714.5,1324.9 1704.8,1317.4 C1695.1,1309.9 1686.2,1301.5 1678.2,1290.9 C1670.2,1280.3 1663.2,1267.4 1657,1253.7 C1650.8,1240 1645.5,1223.2 1641.1,1208.6 C1636.7,1194 1633.4,1178.1 1630.5,1166.2 C1627.6,1154.3 1630.2,1142.7 1623.8,1137 C1617.4,1131.3 1602.6,1132 1592,1132 C1581.4,1132 1564.3,1129.1 1560.1,1137Z" fill="#e0eaf4" stroke="none" stroke-width="0" style="mix-blend-mode:multiply"/>
<ellipse cx="1588.5" cy="1128.2" rx="37.4" ry="17" fill="#e99a68"/>
<line x1="1566.2" y1="1130.3" x2="1607.1" y2="1130.3" stroke="#e3211b" stroke-width="2" />
<polygon points="1595.5,1117.5 1597.7,1122.9 1603.6,1123.4 1599.1,1127.2 1600.5,1132.9 1595.5,1129.8 1590.5,1132.9 1591.9,1127.2 1587.4,1123.4 1593.3,1122.9" fill="#e3211b" stroke="#e3211b" stroke-width="1" stroke-linejoin="miter"/>
<polygon points="1600.5,1117 1602.7,1122.4 1608.6,1122.9 1604.1,1126.7 1605.5,1132.4 1600.5,1129.3 1595.5,1132.4 1596.9,1126.7 1592.4,1122.9 1598.3,1122.4" fill="#e3211b" stroke="#e3211b" stroke-width="1" stroke-linejoin="miter"/>
<polygon points="1591,1119.5 1593.1,1124.6 1598.6,1125 1594.4,1128.6 1595.7,1134 1591,1131.1 1586.3,1134 1587.6,1128.6 1583.4,1125 1588.9,1124.6" fill="#e3211b" stroke="#e3211b" stroke-width="1" stroke-linejoin="miter"/>
<polygon points="1566.2,1122 1568.5,1127.6 1574.6,1128.1 1570,1132 1571.4,1137.9 1566.2,1134.8 1561,1137.9 1562.4,1132 1557.8,1128.1 1563.9,1127.6" fill="#fff" stroke="#e3211b" stroke-width="2.2" stroke-linejoin="miter"/>
<polygon points="1607.1,1122 1609.4,1127.6 1615.5,1128.1 1610.9,1132 1612.3,1137.9 1607.1,1134.8 1601.9,1137.9 1603.3,1132 1598.7,1128.1 1604.8,1127.6" fill="#fff" stroke="#e3211b" stroke-width="2.2" stroke-linejoin="miter"/>
<polygon points="1508.4,1080.4 1517.7,1089.7 1508.4,1099 1499.1,1089.7" fill="#1f2a5c"/>
<polygon points="1526.2,1151.5 1535.5,1160.8 1526.2,1170.1 1516.9,1160.8" fill="#1f2a5c"/>
<polygon points="1566.8,1152.9 1576.1,1162.2 1566.8,1171.5 1557.5,1162.2" fill="#1f2a5c"/>
<polygon points="1607.1,1152.9 1616.4,1162.2 1607.1,1171.5 1597.8,1162.2" fill="#1f2a5c"/>
<polygon points="1549,1190 1558.3,1199.3 1549,1208.6 1539.7,1199.3" fill="#1f2a5c"/>
<polygon points="1503.1,1202 1512.4,1211.3 1503.1,1220.6 1493.8,1211.3" fill="#1f2a5c"/>
<polygon points="1739.8,1202 1749.1,1211.3 1739.8,1220.6 1730.5,1211.3" fill="#1f2a5c"/>
<polygon points="1854.7,1202 1864,1211.3 1854.7,1220.6 1845.4,1211.3" fill="#1f2a5c"/>
<polygon points="1854.7,1281.6 1864,1290.9 1854.7,1300.2 1845.4,1290.9" fill="#1f2a5c"/>
<polygon points="1837.5,1355.9 1846.8,1365.2 1837.5,1374.5 1828.2,1365.2" fill="#1f2a5c"/>
<circle cx="1527" cy="1186.9" r="8" fill="#3cb050" stroke="#3cb050" stroke-width="0"/>
<polygon points="1623.8,1231 1632.9,1246.8 1614.7,1246.8" fill="#3399dd" stroke="none" stroke-width="0"/>
<polygon points="1854.7,1198 1863.8,1213.8 1845.6,1213.8" fill="#3399dd" stroke="none" stroke-width="0"/>
<polygon points="1722,1371 1714.6,1358.2 1729.4,1358.2" fill="none" stroke="#403c38" stroke-width="2"/>
<polygon points="1933.8,1316.1 1946.5,1308.7 1946.5,1323.5" fill="none" stroke="#a84a3c" stroke-width="2"/>
<polygon points="1912.6,1362.5 1921.6,1369.1 1918.2,1379.7 1907,1379.7 1903.6,1369.1" fill="#e2702e"/>
<rect x="1468.5" y="1299.5" width="32.5" height="14" fill="#fbf7e7" stroke="#d8d8d8" stroke-width="1.6" />
<text x="1508" y="1313.5" font-size="21" text-anchor="start" >N-FGT</text>
<polygon points="1476,1322.5 1478.4,1328.2 1484.6,1328.7 1479.9,1332.8 1481.3,1338.8 1476,1335.5 1470.7,1338.8 1472.1,1332.8 1467.4,1328.7 1473.6,1328.2" fill="#e3211b" stroke="#e3211b" stroke-width="1" stroke-linejoin="miter"/>
<text x="1489.5" y="1337.3" font-size="21" text-anchor="start" >This work</text>
<circle cx="1476" cy="1358.6" r="8" fill="#3cb050" stroke="#3cb050" stroke-width="0"/>
<text x="1492" y="1366.5" font-size="21" text-anchor="start" >InSe</text>
<polygon points="1476,1374.5 1485.3,1383.8 1476,1393.1 1466.7,1383.8" fill="#1f2a5c"/>
<text x="1492" y="1390.4" font-size="21" text-anchor="start" >MoS<tspan font-size="14" dy="5">2</tspan><tspan dy="-5">​</tspan></text>
<polygon points="1476,1398.5 1485,1405.1 1481.6,1415.7 1470.4,1415.7 1467,1405.1" fill="#e2702e"/>
<text x="1492" y="1415.6" font-size="21" text-anchor="start" >ReSe<tspan font-size="14" dy="5">2</tspan><tspan dy="-5">​</tspan></text>
<polygon points="1476,1420 1485.1,1435.8 1466.9,1435.8" fill="#3399dd" stroke="none" stroke-width="0"/>
<text x="1492" y="1439.5" font-size="21" text-anchor="start" >ReS<tspan font-size="14" dy="5">2</tspan><tspan dy="-5">​</tspan></text>
<rect x="1588" y="1347" width="32.5" height="15" fill="#dfe8f3" stroke="#d8d8d8" stroke-width="1.6" />
<text x="1628" y="1361.2" font-size="21" text-anchor="start" >P-FGT</text>
<polygon points="1594.6,1369.7 1596.9,1375.3 1603,1375.8 1598.4,1379.7 1599.8,1385.6 1594.6,1382.5 1589.4,1385.6 1590.8,1379.7 1586.2,1375.8 1592.3,1375.3" fill="#fff" stroke="#e3211b" stroke-width="2.2" stroke-linejoin="miter"/>
<text x="1608" y="1385.1" font-size="21" text-anchor="start" >This work</text>
<polygon points="1595.4,1413 1588,1400.2 1602.8,1400.2" fill="none" stroke="#403c38" stroke-width="2"/>
<text x="1609" y="1413" font-size="21" text-anchor="start" >WSe<tspan font-size="12" dy="2">2</tspan><tspan dy="-2">​</tspan></text>
<polygon points="1587.5,1431.5 1600.2,1424.1 1600.2,1438.9" fill="none" stroke="#a84a3c" stroke-width="2"/>
<text x="1610" y="1439.5" font-size="21" text-anchor="start" >BP</text>
<rect x="1451.5" y="1073" width="519.3" height="379.4" fill="none" stroke="#000" stroke-width="2.3"/>
<line x1="1451.2" y1="1452.4" x2="1451.2" y2="1446" stroke="#000" stroke-width="1.8" />
<line x1="1468.6" y1="1452.4" x2="1468.6" y2="1449" stroke="#000" stroke-width="1.3" />
<line x1="1478.7" y1="1452.4" x2="1478.7" y2="1449" stroke="#000" stroke-width="1.3" />
<line x1="1485.9" y1="1452.4" x2="1485.9" y2="1449" stroke="#000" stroke-width="1.3" />
<line x1="1491.5" y1="1452.4" x2="1491.5" y2="1449" stroke="#000" stroke-width="1.3" />
<line x1="1496.1" y1="1452.4" x2="1496.1" y2="1449" stroke="#000" stroke-width="1.3" />
<line x1="1500" y1="1452.4" x2="1500" y2="1449" stroke="#000" stroke-width="1.3" />
<line x1="1503.3" y1="1452.4" x2="1503.3" y2="1449" stroke="#000" stroke-width="1.3" />
<line x1="1506.3" y1="1452.4" x2="1506.3" y2="1449" stroke="#000" stroke-width="1.3" />
<line x1="1508.9" y1="1452.4" x2="1508.9" y2="1446" stroke="#000" stroke-width="1.8" />
<line x1="1526.3" y1="1452.4" x2="1526.3" y2="1449" stroke="#000" stroke-width="1.3" />
<line x1="1536.4" y1="1452.4" x2="1536.4" y2="1449" stroke="#000" stroke-width="1.3" />
<line x1="1543.6" y1="1452.4" x2="1543.6" y2="1449" stroke="#000" stroke-width="1.3" />
<line x1="1549.2" y1="1452.4" x2="1549.2" y2="1449" stroke="#000" stroke-width="1.3" />
<line x1="1553.8" y1="1452.4" x2="1553.8" y2="1449" stroke="#000" stroke-width="1.3" />
<line x1="1557.6" y1="1452.4" x2="1557.6" y2="1449" stroke="#000" stroke-width="1.3" />
<line x1="1561" y1="1452.4" x2="1561" y2="1449" stroke="#000" stroke-width="1.3" />
<line x1="1563.9" y1="1452.4" x2="1563.9" y2="1449" stroke="#000" stroke-width="1.3" />
<line x1="1566.6" y1="1452.4" x2="1566.6" y2="1446" stroke="#000" stroke-width="1.8" />
<line x1="1583.9" y1="1452.4" x2="1583.9" y2="1449" stroke="#000" stroke-width="1.3" />
<line x1="1594.1" y1="1452.4" x2="1594.1" y2="1449" stroke="#000" stroke-width="1.3" />
<line x1="1601.3" y1="1452.4" x2="1601.3" y2="1449" stroke="#000" stroke-width="1.3" />
<line x1="1606.9" y1="1452.4" x2="1606.9" y2="1449" stroke="#000" stroke-width="1.3" />
<line x1="1611.5" y1="1452.4" x2="1611.5" y2="1449" stroke="#000" stroke-width="1.3" />
<line x1="1615.3" y1="1452.4" x2="1615.3" y2="1449" stroke="#000" stroke-width="1.3" />
<line x1="1618.7" y1="1452.4" x2="1618.7" y2="1449" stroke="#000" stroke-width="1.3" />
<line x1="1621.6" y1="1452.4" x2="1621.6" y2="1449" stroke="#000" stroke-width="1.3" />
<line x1="1624.3" y1="1452.4" x2="1624.3" y2="1446" stroke="#000" stroke-width="1.8" />
<line x1="1641.6" y1="1452.4" x2="1641.6" y2="1449" stroke="#000" stroke-width="1.3" />
<line x1="1651.8" y1="1452.4" x2="1651.8" y2="1449" stroke="#000" stroke-width="1.3" />
<line x1="1659" y1="1452.4" x2="1659" y2="1449" stroke="#000" stroke-width="1.3" />
<line x1="1664.6" y1="1452.4" x2="1664.6" y2="1449" stroke="#000" stroke-width="1.3" />
<line x1="1669.2" y1="1452.4" x2="1669.2" y2="1449" stroke="#000" stroke-width="1.3" />
<line x1="1673" y1="1452.4" x2="1673" y2="1449" stroke="#000" stroke-width="1.3" />
<line x1="1676.4" y1="1452.4" x2="1676.4" y2="1449" stroke="#000" stroke-width="1.3" />
<line x1="1679.3" y1="1452.4" x2="1679.3" y2="1449" stroke="#000" stroke-width="1.3" />
<line x1="1682" y1="1452.4" x2="1682" y2="1446" stroke="#000" stroke-width="1.8" />
<line x1="1699.3" y1="1452.4" x2="1699.3" y2="1449" stroke="#000" stroke-width="1.3" />
<line x1="1709.5" y1="1452.4" x2="1709.5" y2="1449" stroke="#000" stroke-width="1.3" />
<line x1="1716.7" y1="1452.4" x2="1716.7" y2="1449" stroke="#000" stroke-width="1.3" />
<line x1="1722.3" y1="1452.4" x2="1722.3" y2="1449" stroke="#000" stroke-width="1.3" />
<line x1="1726.9" y1="1452.4" x2="1726.9" y2="1449" stroke="#000" stroke-width="1.3" />
<line x1="1730.7" y1="1452.4" x2="1730.7" y2="1449" stroke="#000" stroke-width="1.3" />
<line x1="1734.1" y1="1452.4" x2="1734.1" y2="1449" stroke="#000" stroke-width="1.3" />
<line x1="1737" y1="1452.4" x2="1737" y2="1449" stroke="#000" stroke-width="1.3" />
<line x1="1739.7" y1="1452.4" x2="1739.7" y2="1446" stroke="#000" stroke-width="1.8" />
<line x1="1757" y1="1452.4" x2="1757" y2="1449" stroke="#000" stroke-width="1.3" />
<line x1="1767.2" y1="1452.4" x2="1767.2" y2="1449" stroke="#000" stroke-width="1.3" />
<line x1="1774.4" y1="1452.4" x2="1774.4" y2="1449" stroke="#000" stroke-width="1.3" />
<line x1="1780" y1="1452.4" x2="1780" y2="1449" stroke="#000" stroke-width="1.3" />
<line x1="1784.5" y1="1452.4" x2="1784.5" y2="1449" stroke="#000" stroke-width="1.3" />
<line x1="1788.4" y1="1452.4" x2="1788.4" y2="1449" stroke="#000" stroke-width="1.3" />
<line x1="1791.7" y1="1452.4" x2="1791.7" y2="1449" stroke="#000" stroke-width="1.3" />
<line x1="1794.7" y1="1452.4" x2="1794.7" y2="1449" stroke="#000" stroke-width="1.3" />
<line x1="1797.3" y1="1452.4" x2="1797.3" y2="1446" stroke="#000" stroke-width="1.8" />
<line x1="1814.7" y1="1452.4" x2="1814.7" y2="1449" stroke="#000" stroke-width="1.3" />
<line x1="1824.9" y1="1452.4" x2="1824.9" y2="1449" stroke="#000" stroke-width="1.3" />
<line x1="1832.1" y1="1452.4" x2="1832.1" y2="1449" stroke="#000" stroke-width="1.3" />
<line x1="1837.7" y1="1452.4" x2="1837.7" y2="1449" stroke="#000" stroke-width="1.3" />
<line x1="1842.2" y1="1452.4" x2="1842.2" y2="1449" stroke="#000" stroke-width="1.3" />
<line x1="1846.1" y1="1452.4" x2="1846.1" y2="1449" stroke="#000" stroke-width="1.3" />
<line x1="1849.4" y1="1452.4" x2="1849.4" y2="1449" stroke="#000" stroke-width="1.3" />
<line x1="1852.4" y1="1452.4" x2="1852.4" y2="1449" stroke="#000" stroke-width="1.3" />
<line x1="1855" y1="1452.4" x2="1855" y2="1446" stroke="#000" stroke-width="1.8" />
<line x1="1872.4" y1="1452.4" x2="1872.4" y2="1449" stroke="#000" stroke-width="1.3" />
<line x1="1882.6" y1="1452.4" x2="1882.6" y2="1449" stroke="#000" stroke-width="1.3" />
<line x1="1889.8" y1="1452.4" x2="1889.8" y2="1449" stroke="#000" stroke-width="1.3" />
<line x1="1895.4" y1="1452.4" x2="1895.4" y2="1449" stroke="#000" stroke-width="1.3" />
<line x1="1899.9" y1="1452.4" x2="1899.9" y2="1449" stroke="#000" stroke-width="1.3" />
<line x1="1903.8" y1="1452.4" x2="1903.8" y2="1449" stroke="#000" stroke-width="1.3" />
<line x1="1907.1" y1="1452.4" x2="1907.1" y2="1449" stroke="#000" stroke-width="1.3" />
<line x1="1910.1" y1="1452.4" x2="1910.1" y2="1449" stroke="#000" stroke-width="1.3" />
<line x1="1912.7" y1="1452.4" x2="1912.7" y2="1446" stroke="#000" stroke-width="1.8" />
<line x1="1930.1" y1="1452.4" x2="1930.1" y2="1449" stroke="#000" stroke-width="1.3" />
<line x1="1940.2" y1="1452.4" x2="1940.2" y2="1449" stroke="#000" stroke-width="1.3" />
<line x1="1947.5" y1="1452.4" x2="1947.5" y2="1449" stroke="#000" stroke-width="1.3" />
<line x1="1953" y1="1452.4" x2="1953" y2="1449" stroke="#000" stroke-width="1.3" />
<line x1="1957.6" y1="1452.4" x2="1957.6" y2="1449" stroke="#000" stroke-width="1.3" />
<line x1="1961.5" y1="1452.4" x2="1961.5" y2="1449" stroke="#000" stroke-width="1.3" />
<line x1="1964.8" y1="1452.4" x2="1964.8" y2="1449" stroke="#000" stroke-width="1.3" />
<line x1="1967.8" y1="1452.4" x2="1967.8" y2="1449" stroke="#000" stroke-width="1.3" />
<line x1="1970.4" y1="1452.4" x2="1970.4" y2="1446" stroke="#000" stroke-width="1.8" />
<line x1="1451.5" y1="1452.4" x2="1458" y2="1452.4" stroke="#000" stroke-width="1.8" />
<line x1="1451.5" y1="1428.2" x2="1455" y2="1428.2" stroke="#000" stroke-width="1.3" />
<line x1="1451.5" y1="1414" x2="1455" y2="1414" stroke="#000" stroke-width="1.3" />
<line x1="1451.5" y1="1404" x2="1455" y2="1404" stroke="#000" stroke-width="1.3" />
<line x1="1451.5" y1="1396.2" x2="1455" y2="1396.2" stroke="#000" stroke-width="1.3" />
<line x1="1451.5" y1="1389.8" x2="1455" y2="1389.8" stroke="#000" stroke-width="1.3" />
<line x1="1451.5" y1="1384.5" x2="1455" y2="1384.5" stroke="#000" stroke-width="1.3" />
<line x1="1451.5" y1="1379.8" x2="1455" y2="1379.8" stroke="#000" stroke-width="1.3" />
<line x1="1451.5" y1="1375.7" x2="1455" y2="1375.7" stroke="#000" stroke-width="1.3" />
<line x1="1451.5" y1="1372" x2="1458" y2="1372" stroke="#000" stroke-width="1.8" />
<line x1="1451.5" y1="1347.8" x2="1455" y2="1347.8" stroke="#000" stroke-width="1.3" />
<line x1="1451.5" y1="1333.6" x2="1455" y2="1333.6" stroke="#000" stroke-width="1.3" />
<line x1="1451.5" y1="1323.6" x2="1455" y2="1323.6" stroke="#000" stroke-width="1.3" />
<line x1="1451.5" y1="1315.8" x2="1455" y2="1315.8" stroke="#000" stroke-width="1.3" />
<line x1="1451.5" y1="1309.4" x2="1455" y2="1309.4" stroke="#000" stroke-width="1.3" />
<line x1="1451.5" y1="1304.1" x2="1455" y2="1304.1" stroke="#000" stroke-width="1.3" />
<line x1="1451.5" y1="1299.4" x2="1455" y2="1299.4" stroke="#000" stroke-width="1.3" />
<line x1="1451.5" y1="1295.3" x2="1455" y2="1295.3" stroke="#000" stroke-width="1.3" />
<line x1="1451.5" y1="1291.6" x2="1458" y2="1291.6" stroke="#000" stroke-width="1.8" />
<line x1="1451.5" y1="1267.4" x2="1455" y2="1267.4" stroke="#000" stroke-width="1.3" />
<line x1="1451.5" y1="1253.2" x2="1455" y2="1253.2" stroke="#000" stroke-width="1.3" />
<line x1="1451.5" y1="1243.2" x2="1455" y2="1243.2" stroke="#000" stroke-width="1.3" />
<line x1="1451.5" y1="1235.4" x2="1455" y2="1235.4" stroke="#000" stroke-width="1.3" />
<line x1="1451.5" y1="1229" x2="1455" y2="1229" stroke="#000" stroke-width="1.3" />
<line x1="1451.5" y1="1223.7" x2="1455" y2="1223.7" stroke="#000" stroke-width="1.3" />
<line x1="1451.5" y1="1219" x2="1455" y2="1219" stroke="#000" stroke-width="1.3" />
<line x1="1451.5" y1="1214.9" x2="1455" y2="1214.9" stroke="#000" stroke-width="1.3" />
<line x1="1451.5" y1="1211.2" x2="1458" y2="1211.2" stroke="#000" stroke-width="1.8" />
<line x1="1451.5" y1="1187" x2="1455" y2="1187" stroke="#000" stroke-width="1.3" />
<line x1="1451.5" y1="1172.8" x2="1455" y2="1172.8" stroke="#000" stroke-width="1.3" />
<line x1="1451.5" y1="1162.8" x2="1455" y2="1162.8" stroke="#000" stroke-width="1.3" />
<line x1="1451.5" y1="1155" x2="1455" y2="1155" stroke="#000" stroke-width="1.3" />
<line x1="1451.5" y1="1148.6" x2="1455" y2="1148.6" stroke="#000" stroke-width="1.3" />
<line x1="1451.5" y1="1143.3" x2="1455" y2="1143.3" stroke="#000" stroke-width="1.3" />
<line x1="1451.5" y1="1138.6" x2="1455" y2="1138.6" stroke="#000" stroke-width="1.3" />
<line x1="1451.5" y1="1134.5" x2="1455" y2="1134.5" stroke="#000" stroke-width="1.3" />
<line x1="1451.5" y1="1130.8" x2="1458" y2="1130.8" stroke="#000" stroke-width="1.8" />
<line x1="1451.5" y1="1104.5" x2="1458" y2="1104.5" stroke="#000" stroke-width="1.8" />
<line x1="1451.5" y1="1095.2" x2="1455" y2="1095.2" stroke="#000" stroke-width="1.3" />
<line x1="1451.5" y1="1089.7" x2="1455" y2="1089.7" stroke="#000" stroke-width="1.3" />
<line x1="1451.5" y1="1085.8" x2="1455" y2="1085.8" stroke="#000" stroke-width="1.3" />
<line x1="1451.5" y1="1082.8" x2="1455" y2="1082.8" stroke="#000" stroke-width="1.3" />
<line x1="1451.5" y1="1080.4" x2="1455" y2="1080.4" stroke="#000" stroke-width="1.3" />
<line x1="1451.5" y1="1078.3" x2="1455" y2="1078.3" stroke="#000" stroke-width="1.3" />
<line x1="1451.5" y1="1076.5" x2="1455" y2="1076.5" stroke="#000" stroke-width="1.3" />
<line x1="1451.5" y1="1113.8" x2="1455" y2="1113.8" stroke="#000" stroke-width="1.3" />
<line x1="1451.5" y1="1111.4" x2="1455" y2="1111.4" stroke="#000" stroke-width="1.3" />
<line x1="1451.5" y1="1109.3" x2="1455" y2="1109.3" stroke="#000" stroke-width="1.3" />
<line x1="1451.5" y1="1107.5" x2="1455" y2="1107.5" stroke="#000" stroke-width="1.3" />
<line x1="1451.5" y1="1105.9" x2="1455" y2="1105.9" stroke="#000" stroke-width="1.3" />
<rect x="1446" y="1103" width="12" height="17" fill="#fff" stroke="none" stroke-width="0" />
<line x1="1443.8" y1="1113" x2="1458.4" y2="1099.4" stroke="#000" stroke-width="2" />
<line x1="1443.8" y1="1122.4" x2="1458.4" y2="1108.7" stroke="#000" stroke-width="2" />
<line x1="1451.5" y1="1073" x2="1451.5" y2="1104" stroke="#000" stroke-width="2.3" />
<line x1="1451.5" y1="1118" x2="1451.5" y2="1452.4" stroke="#000" stroke-width="2.3" />
<text x="1452.7" y="1485.2" font-size="25" text-anchor="middle" >10<tspan font-size="17" dy="-9.5">−9</tspan></text>
<text x="1510.4" y="1485.2" font-size="25" text-anchor="middle" >10<tspan font-size="17" dy="-9.5">−8</tspan></text>
<text x="1568.1" y="1485.2" font-size="25" text-anchor="middle" >10<tspan font-size="17" dy="-9.5">−7</tspan></text>
<text x="1625.8" y="1485.2" font-size="25" text-anchor="middle" >10<tspan font-size="17" dy="-9.5">−6</tspan></text>
<text x="1683.5" y="1485.2" font-size="25" text-anchor="middle" >10<tspan font-size="17" dy="-9.5">−5</tspan></text>
<text x="1741.2" y="1485.2" font-size="25" text-anchor="middle" >10<tspan font-size="17" dy="-9.5">−4</tspan></text>
<text x="1798.8" y="1485.2" font-size="25" text-anchor="middle" >10<tspan font-size="17" dy="-9.5">−3</tspan></text>
<text x="1856.5" y="1485.2" font-size="25" text-anchor="middle" >10<tspan font-size="17" dy="-9.5">−2</tspan></text>
<text x="1914.2" y="1485.2" font-size="25" text-anchor="middle" >10<tspan font-size="17" dy="-9.5">−1</tspan></text>
<text x="1971.9" y="1485.2" font-size="25" text-anchor="middle" >10<tspan font-size="17" dy="-9.5">0</tspan></text>
<text x="1444.5" y="1462" font-size="25" text-anchor="end" >10<tspan font-size="17" dy="-9.5">0</tspan></text>
<text x="1444.5" y="1381.6" font-size="25" text-anchor="end" >10<tspan font-size="17" dy="-9.5">1</tspan></text>
<text x="1444.5" y="1301.2" font-size="25" text-anchor="end" >10<tspan font-size="17" dy="-9.5">2</tspan></text>
<text x="1444.5" y="1220.8" font-size="25" text-anchor="end" >10<tspan font-size="17" dy="-9.5">3</tspan></text>
<text x="1444.5" y="1140.4" font-size="25" text-anchor="end" >10<tspan font-size="17" dy="-9.5">4</tspan></text>
<text x="1444.5" y="1082.3" font-size="25" text-anchor="end" >10<tspan font-size="17" dy="-9.5">7</tspan></text>
<text x="1444.5" y="1113" font-size="25" text-anchor="end" >10<tspan font-size="17" dy="-9.5">6</tspan></text>
<text x="1574" y="1513.8" font-size="30" text-anchor="start" >Operation speed (s)</text>
<text transform="translate(1394.3,1265.8) rotate(-90)" font-size="29.5" text-anchor="middle">Endurance</text>
<text x="1373.5" y="1070.8" font-size="29.5" text-anchor="start" >i</text>
</svg></body></html>
